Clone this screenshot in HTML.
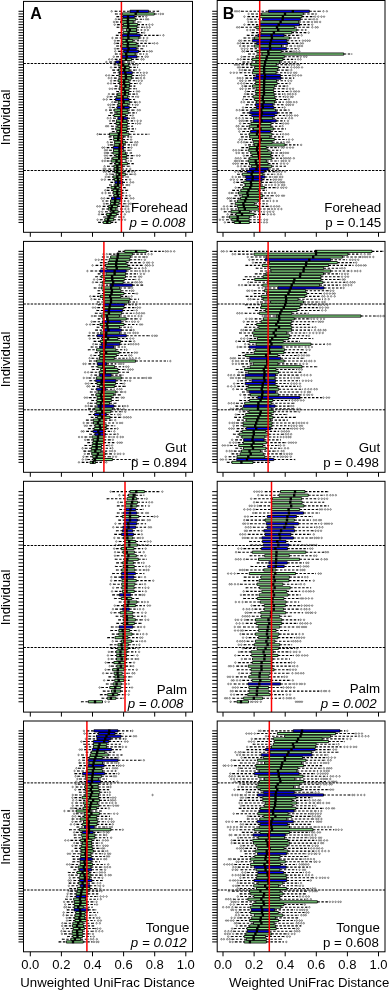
<!DOCTYPE html><html><head><meta charset="utf-8"><style>html,body{margin:0;padding:0;background:#fff;width:389px;height:990px;overflow:hidden}svg{display:block;will-change:transform}.w{stroke:#000;stroke-width:1.1;stroke-dasharray:2.4 1.6;fill:none}.o{fill:none;stroke:#000;stroke-width:0.45}.b{stroke:#000;stroke-width:0.9}.m{stroke:#000;stroke-width:2.4}.st{stroke:#000;stroke-width:0.7;fill:none}.d{stroke:#000;stroke-width:1;stroke-dasharray:2.4 1.2}.t{stroke:#000;stroke-width:1;fill:none}.f{stroke:#000;stroke-width:1;fill:none}.r{stroke:#ff0000;stroke-width:1.5}.lb{font-family:"Liberation Sans",sans-serif;font-size:13.3px;fill:#000}.iv{font-family:"Liberation Sans",sans-serif;font-size:13.2px;fill:#000}.ax{font-family:"Liberation Sans",sans-serif;font-size:13px;fill:#000}.ti{font-family:"Liberation Sans",sans-serif;font-size:13.2px;fill:#000}</style></head><body>
<svg width="389" height="990" viewBox="0 0 389 990">
<line x1="23.5" y1="63.5" x2="192.5" y2="63.5" class="d"/>
<line x1="23.5" y1="170.5" x2="192.5" y2="170.5" class="d"/>
<path d="M18.5 222.41H23.5M18.5 219.74H23.5M18.5 217.07H23.5M18.5 214.39H23.5M18.5 211.72H23.5M18.5 209.05H23.5M18.5 206.38H23.5M18.5 203.70H23.5M18.5 201.03H23.5M18.5 198.36H23.5M18.5 195.69H23.5M18.5 193.01H23.5M18.5 190.34H23.5M18.5 187.67H23.5M18.5 185.00H23.5M18.5 182.33H23.5M18.5 179.65H23.5M18.5 176.98H23.5M18.5 174.31H23.5M18.5 171.64H23.5M18.5 168.96H23.5M18.5 166.29H23.5M18.5 163.62H23.5M18.5 160.95H23.5M18.5 158.27H23.5M18.5 155.60H23.5M18.5 152.93H23.5M18.5 150.26H23.5M18.5 147.58H23.5M18.5 144.91H23.5M18.5 142.24H23.5M18.5 139.57H23.5M18.5 136.89H23.5M18.5 134.22H23.5M18.5 131.55H23.5M18.5 128.88H23.5M18.5 126.20H23.5M18.5 123.53H23.5M18.5 120.86H23.5M18.5 118.19H23.5M18.5 115.51H23.5M18.5 112.84H23.5M18.5 110.17H23.5M18.5 107.50H23.5M18.5 104.82H23.5M18.5 102.15H23.5M18.5 99.48H23.5M18.5 96.81H23.5M18.5 94.13H23.5M18.5 91.46H23.5M18.5 88.79H23.5M18.5 86.12H23.5M18.5 83.44H23.5M18.5 80.77H23.5M18.5 78.10H23.5M18.5 75.43H23.5M18.5 72.75H23.5M18.5 70.08H23.5M18.5 67.41H23.5M18.5 64.74H23.5M18.5 62.06H23.5M18.5 59.39H23.5M18.5 56.72H23.5M18.5 54.05H23.5M18.5 51.37H23.5M18.5 48.70H23.5M18.5 46.03H23.5M18.5 43.36H23.5M18.5 40.69H23.5M18.5 38.01H23.5M18.5 35.34H23.5M18.5 32.67H23.5M18.5 30.00H23.5M18.5 27.32H23.5M18.5 24.65H23.5M18.5 21.98H23.5M18.5 19.31H23.5M18.5 16.63H23.5M18.5 13.96H23.5M18.5 11.29H23.5" class="t"/>
<path d="M30.3 232.3V236.8M61.4 232.3V236.8M92.5 232.3V236.8M123.6 232.3V236.8M154.7 232.3V236.8M185.8 232.3V236.8" class="t"/>
<clipPath id="cA1"><rect x="23.5" y="1.4" width="169.0" height="230.9"/></clipPath><g clip-path="url(#cA1)">
<path class="w" d="M98.5 222.41H103.3M110.8 222.41H116.2M100.3 219.74H104.8M113.7 219.74H119.7M103.7 217.07H107.1M114.1 217.07H121M101.6 214.39H106.6M116.4 214.39H121.5M105.5 211.72H111M118.2 211.72H123.2M102.3 209.05H108.2M115.9 209.05H122.7M103 206.38H108.7M117.5 206.38H124M106.2 203.7H110.5M119 203.7H125.9M106 201.03H110.6M119.8 201.03H125.1M107 198.36H111.5M120.6 198.36H127.6M109.1 195.69H114M121.3 195.69H127M108.4 193.01H113.2M122 193.01H126.2M107.1 190.34H113M121.2 190.34H127.7M107.2 187.67H111M119.1 187.67H125.4M109.5 185H115M121.6 185H127.4M110.8 182.33H114.9M122.6 182.33H127.1M108.2 179.65H114.5M121.1 179.65H126.8M107.9 176.98H113M121.8 176.98H126.1M111.8 174.31H116.2M125.4 174.31H132.9M108.2 171.64H114.6M123.2 171.64H129.4M108.8 168.96H114.3M121.7 168.96H126.9M107.5 166.29H113.9M122.7 166.29H129.7M110 163.62H115.6M127.4 163.62H133.4M107.1 160.95H111.1M120.7 160.95H128.3M107.1 158.27H112.8M126.3 158.27H132.4M109.9 155.6H115.9M126.7 155.6H134M106.7 152.93H113M125.6 152.93H131.6M109.6 150.26H113.5M123.4 150.26H130.9M107 147.58H113.3M123.5 147.58H129.2M110.5 144.91H114.1M123.6 144.91H131.6M110.4 142.24H114.6M125.7 142.24H132.3M109.9 139.57H113.7M122.7 139.57H128.2M109.1 136.89H113.7M123.3 136.89H128.8M99.5 134.22H109.5M129 134.22H149M112.3 131.55H116.8M126.5 131.55H133.9M111.8 128.88H115.7M127.6 128.88H135.6M111.4 126.2H117.8M127.1 126.2H132.6M109.8 123.53H116M127.5 123.53H135.4M112.5 120.86H116.4M126.7 120.86H134.8M113.5 118.19H118M127.6 118.19H132.1M108.6 115.51H114M125.6 115.51H130.8M110.3 112.84H116.9M128.3 112.84H136.4M109.5 110.17H114.2M127.4 110.17H134.2M112.3 107.5H117.2M129.3 107.5H135.8M112.8 104.82H117.9M127.9 104.82H132.8M114.3 102.15H118.1M129.9 102.15H137.1M109.9 99.48H115.5M129 99.48H134.6M110 96.81H116.6M127.6 96.81H136M112.1 94.13H117.7M128.4 94.13H134.6M116.6 91.46H121.7M129.1 91.46H133.8M114.7 88.79H119.2M129.1 88.79H136.5M115.1 86.12H121.6M129.5 86.12H135M113.6 83.44H119.6M130 83.44H137.2M113.9 80.77H118M128.7 80.77H136.3M114.3 78.1H121.2M131.4 78.1H138.7M112 75.43H118.9M131.8 75.43H139.4M113.6 72.75H119.6M132.3 72.75H140.9M112.7 70.08H118.5M129.1 70.08H136.4M114.3 67.41H120.4M129.3 67.41H137.6M114.1 64.74H118.1M128.3 64.74H135.2M109.7 62.06H115.7M123 62.06H129.4M115.1 59.39H121.6M131.5 59.39H138.4M116.6 56.72H122.2M137 56.72H142.5M115.3 54.05H121.9M135.2 54.05H143.6M118.4 51.37H123.7M138.5 51.37H147.1M117 48.7H121.8M136.3 48.7H142.8M116.7 46.03H120.7M138.3 46.03H146.6M116.7 43.36H122.9M136.3 43.36H152.3M117.3 40.69H121.9M132.8 40.69H141.1M115.7 38.01H122.8M138.9 38.01H144M116.2 35.34H122.2M140.2 35.34H160.2M118.5 32.67H123.2M137 32.67H142.3M122.1 30H126.3M136.5 30H141.8M117 27.32H122.2M137 27.32H144.6M117.4 24.65H123.4M137.6 24.65H146.7M116.1 21.98H120.8M133.2 21.98H140.8M118.2 19.31H122.2M135.7 19.31H143.4M116.8 16.63H122.9M134.4 16.63H143.3M115.4 13.96H122.2M154.3 13.96H158.3M115 11.29H130M148.6 11.29H158.6"/>
<path class="st" d="M98.5 221.78v1.26M116.2 221.78v1.26M100.3 219.11v1.26M119.7 219.11v1.26M103.7 216.44v1.26M121 216.44v1.26M101.6 213.76v1.26M121.5 213.76v1.26M105.5 211.09v1.26M123.2 211.09v1.26M102.3 208.42v1.26M122.7 208.42v1.26M103 205.75v1.26M124 205.75v1.26M106.2 203.07v1.26M125.9 203.07v1.26M106 200.4v1.26M125.1 200.4v1.26M107 197.73v1.26M127.6 197.73v1.26M109.1 195.06v1.26M127 195.06v1.26M108.4 192.38v1.26M126.2 192.38v1.26M107.1 189.71v1.26M127.7 189.71v1.26M107.2 187.04v1.26M125.4 187.04v1.26M109.5 184.37v1.26M127.4 184.37v1.26M110.8 181.7v1.26M127.1 181.7v1.26M108.2 179.02v1.26M126.8 179.02v1.26M107.9 176.35v1.26M126.1 176.35v1.26M111.8 173.68v1.26M132.9 173.68v1.26M108.2 171.01v1.26M129.4 171.01v1.26M108.8 168.33v1.26M126.9 168.33v1.26M107.5 165.66v1.26M129.7 165.66v1.26M110 162.99v1.26M133.4 162.99v1.26M107.1 160.32v1.26M128.3 160.32v1.26M107.1 157.64v1.26M132.4 157.64v1.26M109.9 154.97v1.26M134 154.97v1.26M106.7 152.3v1.26M131.6 152.3v1.26M109.6 149.63v1.26M130.9 149.63v1.26M107 146.95v1.26M129.2 146.95v1.26M110.5 144.28v1.26M131.6 144.28v1.26M110.4 141.61v1.26M132.3 141.61v1.26M109.9 138.94v1.26M128.2 138.94v1.26M109.1 136.26v1.26M128.8 136.26v1.26M99.5 133.59v1.26M149 133.59v1.26M112.3 130.92v1.26M133.9 130.92v1.26M111.8 128.25v1.26M135.6 128.25v1.26M111.4 125.57v1.26M132.6 125.57v1.26M109.8 122.9v1.26M135.4 122.9v1.26M112.5 120.23v1.26M134.8 120.23v1.26M113.5 117.56v1.26M132.1 117.56v1.26M108.6 114.88v1.26M130.8 114.88v1.26M110.3 112.21v1.26M136.4 112.21v1.26M109.5 109.54v1.26M134.2 109.54v1.26M112.3 106.87v1.26M135.8 106.87v1.26M112.8 104.19v1.26M132.8 104.19v1.26M114.3 101.52v1.26M137.1 101.52v1.26M109.9 98.85v1.26M134.6 98.85v1.26M110 96.18v1.26M136 96.18v1.26M112.1 93.5v1.26M134.6 93.5v1.26M116.6 90.83v1.26M133.8 90.83v1.26M114.7 88.16v1.26M136.5 88.16v1.26M115.1 85.49v1.26M135 85.49v1.26M113.6 82.81v1.26M137.2 82.81v1.26M113.9 80.14v1.26M136.3 80.14v1.26M114.3 77.47v1.26M138.7 77.47v1.26M112 74.8v1.26M139.4 74.8v1.26M113.6 72.12v1.26M140.9 72.12v1.26M112.7 69.45v1.26M136.4 69.45v1.26M114.3 66.78v1.26M137.6 66.78v1.26M114.1 64.11v1.26M135.2 64.11v1.26M109.7 61.43v1.26M129.4 61.43v1.26M115.1 58.76v1.26M138.4 58.76v1.26M116.6 56.09v1.26M142.5 56.09v1.26M115.3 53.42v1.26M143.6 53.42v1.26M118.4 50.74v1.26M147.1 50.74v1.26M117 48.07v1.26M142.8 48.07v1.26M116.7 45.4v1.26M146.6 45.4v1.26M116.7 42.73v1.26M152.3 42.73v1.26M117.3 40.06v1.26M141.1 40.06v1.26M115.7 37.38v1.26M144 37.38v1.26M116.2 34.71v1.26M160.2 34.71v1.26M118.5 32.04v1.26M142.3 32.04v1.26M122.1 29.37v1.26M141.8 29.37v1.26M117 26.69v1.26M144.6 26.69v1.26M117.4 24.02v1.26M146.7 24.02v1.26M116.1 21.35v1.26M140.8 21.35v1.26M118.2 18.68v1.26M143.4 18.68v1.26M116.8 16v1.26M143.3 16v1.26M115.4 13.33v1.26M158.3 13.33v1.26M115 10.66v1.26M158.6 10.66v1.26"/>
<path class="o" d="M121.2 219.74a.75 .75 0 1 0 1.5 0a.75 .75 0 1 0-1.5 0M124.3 219.74a.75 .75 0 1 0 1.5 0a.75 .75 0 1 0-1.5 0M96.8 219.74a.75 .75 0 1 0 1.5 0a.75 .75 0 1 0-1.5 0M122.9 217.07a.75 .75 0 1 0 1.5 0a.75 .75 0 1 0-1.5 0M124.1 214.39a.75 .75 0 1 0 1.5 0a.75 .75 0 1 0-1.5 0M98.3 214.39a.75 .75 0 1 0 1.5 0a.75 .75 0 1 0-1.5 0M125.8 211.72a.75 .75 0 1 0 1.5 0a.75 .75 0 1 0-1.5 0M128.3 211.72a.75 .75 0 1 0 1.5 0a.75 .75 0 1 0-1.5 0M101.5 211.72a.75 .75 0 1 0 1.5 0a.75 .75 0 1 0-1.5 0M98.6 211.72a.75 .75 0 1 0 1.5 0a.75 .75 0 1 0-1.5 0M124.6 209.05a.75 .75 0 1 0 1.5 0a.75 .75 0 1 0-1.5 0M127.7 209.05a.75 .75 0 1 0 1.5 0a.75 .75 0 1 0-1.5 0M125.3 206.38a.75 .75 0 1 0 1.5 0a.75 .75 0 1 0-1.5 0M127.3 206.38a.75 .75 0 1 0 1.5 0a.75 .75 0 1 0-1.5 0M99 206.38a.75 .75 0 1 0 1.5 0a.75 .75 0 1 0-1.5 0M96.6 206.38a.75 .75 0 1 0 1.5 0a.75 .75 0 1 0-1.5 0M128 203.7a.75 .75 0 1 0 1.5 0a.75 .75 0 1 0-1.5 0M130.1 203.7a.75 .75 0 1 0 1.5 0a.75 .75 0 1 0-1.5 0M103.3 203.7a.75 .75 0 1 0 1.5 0a.75 .75 0 1 0-1.5 0M127.6 201.03a.75 .75 0 1 0 1.5 0a.75 .75 0 1 0-1.5 0M102.3 201.03a.75 .75 0 1 0 1.5 0a.75 .75 0 1 0-1.5 0M130.1 198.36a.75 .75 0 1 0 1.5 0a.75 .75 0 1 0-1.5 0M132.7 198.36a.75 .75 0 1 0 1.5 0a.75 .75 0 1 0-1.5 0M103.5 198.36a.75 .75 0 1 0 1.5 0a.75 .75 0 1 0-1.5 0M100.9 198.36a.75 .75 0 1 0 1.5 0a.75 .75 0 1 0-1.5 0M129 195.69a.75 .75 0 1 0 1.5 0a.75 .75 0 1 0-1.5 0M104.8 193.01a.75 .75 0 1 0 1.5 0a.75 .75 0 1 0-1.5 0M101.6 193.01a.75 .75 0 1 0 1.5 0a.75 .75 0 1 0-1.5 0M104.5 190.34a.75 .75 0 1 0 1.5 0a.75 .75 0 1 0-1.5 0M128.5 185a.75 .75 0 1 0 1.5 0a.75 .75 0 1 0-1.5 0M129.8 182.33a.75 .75 0 1 0 1.5 0a.75 .75 0 1 0-1.5 0M132.4 182.33a.75 .75 0 1 0 1.5 0a.75 .75 0 1 0-1.5 0M129.3 179.65a.75 .75 0 1 0 1.5 0a.75 .75 0 1 0-1.5 0M104 179.65a.75 .75 0 1 0 1.5 0a.75 .75 0 1 0-1.5 0M101.1 179.65a.75 .75 0 1 0 1.5 0a.75 .75 0 1 0-1.5 0M127.2 176.98a.75 .75 0 1 0 1.5 0a.75 .75 0 1 0-1.5 0M104.9 176.98a.75 .75 0 1 0 1.5 0a.75 .75 0 1 0-1.5 0M134.4 174.31a.75 .75 0 1 0 1.5 0a.75 .75 0 1 0-1.5 0M109.2 174.31a.75 .75 0 1 0 1.5 0a.75 .75 0 1 0-1.5 0M105.9 174.31a.75 .75 0 1 0 1.5 0a.75 .75 0 1 0-1.5 0M131.3 171.64a.75 .75 0 1 0 1.5 0a.75 .75 0 1 0-1.5 0M133.8 171.64a.75 .75 0 1 0 1.5 0a.75 .75 0 1 0-1.5 0M105.1 171.64a.75 .75 0 1 0 1.5 0a.75 .75 0 1 0-1.5 0M103 171.64a.75 .75 0 1 0 1.5 0a.75 .75 0 1 0-1.5 0M129.5 168.96a.75 .75 0 1 0 1.5 0a.75 .75 0 1 0-1.5 0M104.7 168.96a.75 .75 0 1 0 1.5 0a.75 .75 0 1 0-1.5 0M102.9 168.96a.75 .75 0 1 0 1.5 0a.75 .75 0 1 0-1.5 0M103.8 166.29a.75 .75 0 1 0 1.5 0a.75 .75 0 1 0-1.5 0M130.2 160.95a.75 .75 0 1 0 1.5 0a.75 .75 0 1 0-1.5 0M104.1 160.95a.75 .75 0 1 0 1.5 0a.75 .75 0 1 0-1.5 0M101.7 160.95a.75 .75 0 1 0 1.5 0a.75 .75 0 1 0-1.5 0M104.5 158.27a.75 .75 0 1 0 1.5 0a.75 .75 0 1 0-1.5 0M136.3 155.6a.75 .75 0 1 0 1.5 0a.75 .75 0 1 0-1.5 0M138.8 155.6a.75 .75 0 1 0 1.5 0a.75 .75 0 1 0-1.5 0M106.4 155.6a.75 .75 0 1 0 1.5 0a.75 .75 0 1 0-1.5 0M104.2 155.6a.75 .75 0 1 0 1.5 0a.75 .75 0 1 0-1.5 0M104.1 152.93a.75 .75 0 1 0 1.5 0a.75 .75 0 1 0-1.5 0M106.3 150.26a.75 .75 0 1 0 1.5 0a.75 .75 0 1 0-1.5 0M104.3 150.26a.75 .75 0 1 0 1.5 0a.75 .75 0 1 0-1.5 0M130.7 147.58a.75 .75 0 1 0 1.5 0a.75 .75 0 1 0-1.5 0M103.6 147.58a.75 .75 0 1 0 1.5 0a.75 .75 0 1 0-1.5 0M101.7 147.58a.75 .75 0 1 0 1.5 0a.75 .75 0 1 0-1.5 0M133.4 144.91a.75 .75 0 1 0 1.5 0a.75 .75 0 1 0-1.5 0M135.8 144.91a.75 .75 0 1 0 1.5 0a.75 .75 0 1 0-1.5 0M107.8 144.91a.75 .75 0 1 0 1.5 0a.75 .75 0 1 0-1.5 0M134.5 142.24a.75 .75 0 1 0 1.5 0a.75 .75 0 1 0-1.5 0M136.7 142.24a.75 .75 0 1 0 1.5 0a.75 .75 0 1 0-1.5 0M106.9 142.24a.75 .75 0 1 0 1.5 0a.75 .75 0 1 0-1.5 0M130.3 139.57a.75 .75 0 1 0 1.5 0a.75 .75 0 1 0-1.5 0M130.4 136.89a.75 .75 0 1 0 1.5 0a.75 .75 0 1 0-1.5 0M96.8 134.22a.75 .75 0 1 0 1.5 0a.75 .75 0 1 0-1.5 0M107.3 126.2a.75 .75 0 1 0 1.5 0a.75 .75 0 1 0-1.5 0M105.4 126.2a.75 .75 0 1 0 1.5 0a.75 .75 0 1 0-1.5 0M136.8 123.53a.75 .75 0 1 0 1.5 0a.75 .75 0 1 0-1.5 0M139.3 123.53a.75 .75 0 1 0 1.5 0a.75 .75 0 1 0-1.5 0M136.8 120.86a.75 .75 0 1 0 1.5 0a.75 .75 0 1 0-1.5 0M140 120.86a.75 .75 0 1 0 1.5 0a.75 .75 0 1 0-1.5 0M109.2 120.86a.75 .75 0 1 0 1.5 0a.75 .75 0 1 0-1.5 0M133.2 118.19a.75 .75 0 1 0 1.5 0a.75 .75 0 1 0-1.5 0M109.8 118.19a.75 .75 0 1 0 1.5 0a.75 .75 0 1 0-1.5 0M107 118.19a.75 .75 0 1 0 1.5 0a.75 .75 0 1 0-1.5 0M132.1 115.51a.75 .75 0 1 0 1.5 0a.75 .75 0 1 0-1.5 0M136.9 110.17a.75 .75 0 1 0 1.5 0a.75 .75 0 1 0-1.5 0M139.1 110.17a.75 .75 0 1 0 1.5 0a.75 .75 0 1 0-1.5 0M105.4 110.17a.75 .75 0 1 0 1.5 0a.75 .75 0 1 0-1.5 0M109.3 107.5a.75 .75 0 1 0 1.5 0a.75 .75 0 1 0-1.5 0M134.8 104.82a.75 .75 0 1 0 1.5 0a.75 .75 0 1 0-1.5 0M136.9 104.82a.75 .75 0 1 0 1.5 0a.75 .75 0 1 0-1.5 0M109.8 104.82a.75 .75 0 1 0 1.5 0a.75 .75 0 1 0-1.5 0M107.6 104.82a.75 .75 0 1 0 1.5 0a.75 .75 0 1 0-1.5 0M139 102.15a.75 .75 0 1 0 1.5 0a.75 .75 0 1 0-1.5 0M111.5 102.15a.75 .75 0 1 0 1.5 0a.75 .75 0 1 0-1.5 0M105.9 99.48a.75 .75 0 1 0 1.5 0a.75 .75 0 1 0-1.5 0M103 99.48a.75 .75 0 1 0 1.5 0a.75 .75 0 1 0-1.5 0M137.3 96.81a.75 .75 0 1 0 1.5 0a.75 .75 0 1 0-1.5 0M106.9 96.81a.75 .75 0 1 0 1.5 0a.75 .75 0 1 0-1.5 0M136.1 94.13a.75 .75 0 1 0 1.5 0a.75 .75 0 1 0-1.5 0M108.2 94.13a.75 .75 0 1 0 1.5 0a.75 .75 0 1 0-1.5 0M136.2 91.46a.75 .75 0 1 0 1.5 0a.75 .75 0 1 0-1.5 0M138.4 91.46a.75 .75 0 1 0 1.5 0a.75 .75 0 1 0-1.5 0M111.5 88.79a.75 .75 0 1 0 1.5 0a.75 .75 0 1 0-1.5 0M109 88.79a.75 .75 0 1 0 1.5 0a.75 .75 0 1 0-1.5 0M139.6 83.44a.75 .75 0 1 0 1.5 0a.75 .75 0 1 0-1.5 0M110.3 83.44a.75 .75 0 1 0 1.5 0a.75 .75 0 1 0-1.5 0M107.4 83.44a.75 .75 0 1 0 1.5 0a.75 .75 0 1 0-1.5 0M137.9 80.77a.75 .75 0 1 0 1.5 0a.75 .75 0 1 0-1.5 0M141 80.77a.75 .75 0 1 0 1.5 0a.75 .75 0 1 0-1.5 0M110.3 80.77a.75 .75 0 1 0 1.5 0a.75 .75 0 1 0-1.5 0M140.1 78.1a.75 .75 0 1 0 1.5 0a.75 .75 0 1 0-1.5 0M143.4 78.1a.75 .75 0 1 0 1.5 0a.75 .75 0 1 0-1.5 0M110.7 78.1a.75 .75 0 1 0 1.5 0a.75 .75 0 1 0-1.5 0M108 78.1a.75 .75 0 1 0 1.5 0a.75 .75 0 1 0-1.5 0M140.8 75.43a.75 .75 0 1 0 1.5 0a.75 .75 0 1 0-1.5 0M143.5 75.43a.75 .75 0 1 0 1.5 0a.75 .75 0 1 0-1.5 0M108.3 75.43a.75 .75 0 1 0 1.5 0a.75 .75 0 1 0-1.5 0M105.5 75.43a.75 .75 0 1 0 1.5 0a.75 .75 0 1 0-1.5 0M143.1 72.75a.75 .75 0 1 0 1.5 0a.75 .75 0 1 0-1.5 0M146 72.75a.75 .75 0 1 0 1.5 0a.75 .75 0 1 0-1.5 0M138.8 70.08a.75 .75 0 1 0 1.5 0a.75 .75 0 1 0-1.5 0M110.3 67.41a.75 .75 0 1 0 1.5 0a.75 .75 0 1 0-1.5 0M136.8 64.74a.75 .75 0 1 0 1.5 0a.75 .75 0 1 0-1.5 0M130.8 62.06a.75 .75 0 1 0 1.5 0a.75 .75 0 1 0-1.5 0M133 62.06a.75 .75 0 1 0 1.5 0a.75 .75 0 1 0-1.5 0M105.6 62.06a.75 .75 0 1 0 1.5 0a.75 .75 0 1 0-1.5 0M140.7 59.39a.75 .75 0 1 0 1.5 0a.75 .75 0 1 0-1.5 0M142.8 59.39a.75 .75 0 1 0 1.5 0a.75 .75 0 1 0-1.5 0M111.5 59.39a.75 .75 0 1 0 1.5 0a.75 .75 0 1 0-1.5 0M108.5 59.39a.75 .75 0 1 0 1.5 0a.75 .75 0 1 0-1.5 0M144.8 56.72a.75 .75 0 1 0 1.5 0a.75 .75 0 1 0-1.5 0M147 56.72a.75 .75 0 1 0 1.5 0a.75 .75 0 1 0-1.5 0M113 56.72a.75 .75 0 1 0 1.5 0a.75 .75 0 1 0-1.5 0M146 54.05a.75 .75 0 1 0 1.5 0a.75 .75 0 1 0-1.5 0M148.9 51.37a.75 .75 0 1 0 1.5 0a.75 .75 0 1 0-1.5 0M151 51.37a.75 .75 0 1 0 1.5 0a.75 .75 0 1 0-1.5 0M114.5 51.37a.75 .75 0 1 0 1.5 0a.75 .75 0 1 0-1.5 0M114.3 48.7a.75 .75 0 1 0 1.5 0a.75 .75 0 1 0-1.5 0M153.6 43.36a.75 .75 0 1 0 1.5 0a.75 .75 0 1 0-1.5 0M156.5 43.36a.75 .75 0 1 0 1.5 0a.75 .75 0 1 0-1.5 0M114 43.36a.75 .75 0 1 0 1.5 0a.75 .75 0 1 0-1.5 0M142.5 40.69a.75 .75 0 1 0 1.5 0a.75 .75 0 1 0-1.5 0M145.5 40.69a.75 .75 0 1 0 1.5 0a.75 .75 0 1 0-1.5 0M114.2 40.69a.75 .75 0 1 0 1.5 0a.75 .75 0 1 0-1.5 0M146.6 38.01a.75 .75 0 1 0 1.5 0a.75 .75 0 1 0-1.5 0M111.7 38.01a.75 .75 0 1 0 1.5 0a.75 .75 0 1 0-1.5 0M162.7 35.34a.75 .75 0 1 0 1.5 0a.75 .75 0 1 0-1.5 0M143.4 32.67a.75 .75 0 1 0 1.5 0a.75 .75 0 1 0-1.5 0M144.1 30a.75 .75 0 1 0 1.5 0a.75 .75 0 1 0-1.5 0M147.1 30a.75 .75 0 1 0 1.5 0a.75 .75 0 1 0-1.5 0M146.1 27.32a.75 .75 0 1 0 1.5 0a.75 .75 0 1 0-1.5 0M148.9 27.32a.75 .75 0 1 0 1.5 0a.75 .75 0 1 0-1.5 0M148.6 24.65a.75 .75 0 1 0 1.5 0a.75 .75 0 1 0-1.5 0M151.7 24.65a.75 .75 0 1 0 1.5 0a.75 .75 0 1 0-1.5 0M113.9 24.65a.75 .75 0 1 0 1.5 0a.75 .75 0 1 0-1.5 0M113.2 21.98a.75 .75 0 1 0 1.5 0a.75 .75 0 1 0-1.5 0M145.3 19.31a.75 .75 0 1 0 1.5 0a.75 .75 0 1 0-1.5 0M147.3 19.31a.75 .75 0 1 0 1.5 0a.75 .75 0 1 0-1.5 0M115.1 19.31a.75 .75 0 1 0 1.5 0a.75 .75 0 1 0-1.5 0M145.6 16.63a.75 .75 0 1 0 1.5 0a.75 .75 0 1 0-1.5 0M159.8 13.96a.75 .75 0 1 0 1.5 0a.75 .75 0 1 0-1.5 0M162.2 13.96a.75 .75 0 1 0 1.5 0a.75 .75 0 1 0-1.5 0M110.9 11.29a.75 .75 0 1 0 1.5 0a.75 .75 0 1 0-1.5 0"/>
<path class="b" fill="#90ee90" d="M103.3 221.36h7.5v2.1h-7.5zM104.8 218.69h8.9v2.1h-8.9zM107.1 216.02h7v2.1h-7zM106.6 213.34h9.8v2.1h-9.8zM111 210.67h7.2v2.1h-7.2zM108.2 208h7.6v2.1h-7.6zM108.7 205.33h8.8v2.1h-8.8zM110.5 202.65h8.4v2.1h-8.4zM110.6 199.98h9.2v2.1h-9.2zM114 194.64h7.3v2.1h-7.3zM113.2 191.96h8.9v2.1h-8.9zM113 189.29h8.2v2.1h-8.2zM111 186.62h8.1v2.1h-8.1zM115 183.95h6.6v2.1h-6.6zM114.5 178.6h6.5v2.1h-6.5zM113 175.93h8.8v2.1h-8.8zM116.2 173.26h9.2v2.1h-9.2zM114.6 170.59h8.6v2.1h-8.6zM114.3 167.91h7.4v2.1h-7.4zM113.9 165.24h8.8v2.1h-8.8zM115.6 162.57h11.8v2.1h-11.8zM111.1 159.9h9.6v2.1h-9.6zM112.8 157.22h13.5v2.1h-13.5zM115.9 154.55h10.8v2.1h-10.8zM113 151.88h12.6v2.1h-12.6zM113.5 149.21h9.9v2.1h-9.9zM114.1 143.86h9.5v2.1h-9.5zM114.6 141.19h11v2.1h-11zM113.7 138.52h9v2.1h-9zM113.7 135.84h9.6v2.1h-9.6zM109.5 133.17h19.5v2.1h-19.5zM116.8 130.5h9.7v2.1h-9.7zM115.7 127.83h11.9v2.1h-11.9zM117.8 125.15h9.2v2.1h-9.2zM116 122.48h11.6v2.1h-11.6zM116.4 119.81h10.3v2.1h-10.3zM114 114.46h11.6v2.1h-11.6zM116.9 111.79h11.4v2.1h-11.4zM114.2 109.12h13.1v2.1h-13.1zM117.9 103.77h10v2.1h-10zM118.1 101.1h11.7v2.1h-11.7zM116.6 95.76h11v2.1h-11zM117.7 93.08h10.8v2.1h-10.8zM121.7 90.41h7.3v2.1h-7.3zM119.2 87.74h9.9v2.1h-9.9zM121.6 85.07h7.9v2.1h-7.9zM119.6 82.39h10.3v2.1h-10.3zM118 79.72h10.8v2.1h-10.8zM121.2 77.05h10.2v2.1h-10.2zM118.9 74.38h13v2.1h-13zM118.5 69.03h10.6v2.1h-10.6zM120.4 66.36h9v2.1h-9zM118.1 63.69h10.3v2.1h-10.3zM121.6 58.34h9.9v2.1h-9.9zM121.9 53h13.3v2.1h-13.3zM120.7 44.98h17.7v2.1h-17.7zM122.9 42.31h13.4v2.1h-13.4zM121.9 39.64h10.9v2.1h-10.9zM122.8 36.96h16.1v2.1h-16.1zM123.2 31.62h13.8v2.1h-13.8zM126.3 28.95h10.2v2.1h-10.2zM122.2 26.27h14.8v2.1h-14.8zM123.4 23.6h14.2v2.1h-14.2zM120.8 20.93h12.4v2.1h-12.4zM122.2 18.26h13.5v2.1h-13.5zM122.2 12.91h32.1v2.1h-32.1z"/>
<path class="b" fill="#0000ff" d="M111.5 197.31h9.1v2.1h-9.1zM114.9 181.28h7.8v2.1h-7.8zM113.3 146.53h10.2v2.1h-10.2zM118 117.14h9.6v2.1h-9.6zM117.2 106.45h12.1v2.1h-12.1zM115.5 98.43h13.5v2.1h-13.5zM119.6 71.7h12.7v2.1h-12.7zM115.7 61.01h7.3v2.1h-7.3zM122.2 55.67h14.8v2.1h-14.8zM123.7 50.32h14.8v2.1h-14.8zM121.8 47.65h14.5v2.1h-14.5zM122.2 34.29h18v2.1h-18zM122.9 15.58h11.5v2.1h-11.5zM130 10.24h18.6v2.1h-18.6z"/>
<path class="m" d="M107.3 221.08v2.67M108.1 218.4v2.67M109.3 215.73v2.67M110.6 213.06v2.67M113.4 210.39v2.67M111.2 207.71v2.67M111.8 205.04v2.67M114.6 202.37v2.67M115.2 199.7v2.67M115.3 197.02v2.67M117.8 194.35v2.67M117.1 191.68v2.67M117.5 189.01v2.67M115.4 186.33v2.67M117.8 183.66v2.67M118.2 180.99v2.67M118 178.32v2.67M117.3 175.64v2.67M119.4 172.97v2.67M117.2 170.3v2.67M117.5 167.63v2.67M117.3 164.95v2.67M119.6 162.28v2.67M116.5 159.61v2.67M119.2 156.94v2.67M119.2 154.26v2.67M119.6 151.59v2.67M119.4 148.92v2.67M119.5 146.25v2.67M119.9 143.57v2.67M121.7 140.9v2.67M118.2 138.23v2.67M118.5 135.56v2.67M119 132.88v2.67M120.4 130.21v2.67M120.9 127.54v2.67M121.5 124.87v2.67M120.5 122.19v2.67M122.2 119.52v2.67M122.8 116.85v2.67M121.1 114.18v2.67M121.4 111.51v2.67M121.2 108.83v2.67M123.4 106.16v2.67M121.8 103.49v2.67M123.6 100.82v2.67M122.6 98.14v2.67M122.6 95.47v2.67M124.7 92.8v2.67M125 90.13v2.67M123.6 87.45v2.67M125.4 84.78v2.67M124.1 82.11v2.67M124.2 79.44v2.67M126 76.76v2.67M125.8 74.09v2.67M125.3 71.42v2.67M124.2 68.75v2.67M125 66.07v2.67M123.2 63.4v2.67M120 60.73v2.67M126 58.06v2.67M126.7 55.38v2.67M126.2 52.71v2.67M127.6 50.04v2.67M128.6 47.37v2.67M127.6 44.69v2.67M128 42.02v2.67M126.7 39.35v2.67M128.4 36.68v2.67M128 34v2.67M128.6 31.33v2.67M129.8 28.66v2.67M128 25.99v2.67M128.3 23.31v2.67M127.7 20.64v2.67M128 17.97v2.67M128 15.3v2.67M135.7 12.62v2.67M137.6 9.95v2.67"/>
</g>
<line x1="121.4" y1="1.4" x2="121.4" y2="232.3" class="r"/>
<rect x="23.5" y="1.4" width="169.0" height="230.9" class="f"/>
<text x="188" y="211.6" class="lb" text-anchor="end">Forehead</text>
<text x="185.3" y="226.6" class="lb" text-anchor="end" font-style="italic">p = 0.008</text>
<line x1="217.2" y1="63.5" x2="385.0" y2="63.5" class="d"/>
<line x1="217.2" y1="170.5" x2="385.0" y2="170.5" class="d"/>
<path d="M212.2 222.41H217.2M212.2 219.74H217.2M212.2 217.07H217.2M212.2 214.39H217.2M212.2 211.72H217.2M212.2 209.05H217.2M212.2 206.38H217.2M212.2 203.70H217.2M212.2 201.03H217.2M212.2 198.36H217.2M212.2 195.69H217.2M212.2 193.01H217.2M212.2 190.34H217.2M212.2 187.67H217.2M212.2 185.00H217.2M212.2 182.33H217.2M212.2 179.65H217.2M212.2 176.98H217.2M212.2 174.31H217.2M212.2 171.64H217.2M212.2 168.96H217.2M212.2 166.29H217.2M212.2 163.62H217.2M212.2 160.95H217.2M212.2 158.27H217.2M212.2 155.60H217.2M212.2 152.93H217.2M212.2 150.26H217.2M212.2 147.58H217.2M212.2 144.91H217.2M212.2 142.24H217.2M212.2 139.57H217.2M212.2 136.89H217.2M212.2 134.22H217.2M212.2 131.55H217.2M212.2 128.88H217.2M212.2 126.20H217.2M212.2 123.53H217.2M212.2 120.86H217.2M212.2 118.19H217.2M212.2 115.51H217.2M212.2 112.84H217.2M212.2 110.17H217.2M212.2 107.50H217.2M212.2 104.82H217.2M212.2 102.15H217.2M212.2 99.48H217.2M212.2 96.81H217.2M212.2 94.13H217.2M212.2 91.46H217.2M212.2 88.79H217.2M212.2 86.12H217.2M212.2 83.44H217.2M212.2 80.77H217.2M212.2 78.10H217.2M212.2 75.43H217.2M212.2 72.75H217.2M212.2 70.08H217.2M212.2 67.41H217.2M212.2 64.74H217.2M212.2 62.06H217.2M212.2 59.39H217.2M212.2 56.72H217.2M212.2 54.05H217.2M212.2 51.37H217.2M212.2 48.70H217.2M212.2 46.03H217.2M212.2 43.36H217.2M212.2 40.69H217.2M212.2 38.01H217.2M212.2 35.34H217.2M212.2 32.67H217.2M212.2 30.00H217.2M212.2 27.32H217.2M212.2 24.65H217.2M212.2 21.98H217.2M212.2 19.31H217.2M212.2 16.63H217.2M212.2 13.96H217.2M212.2 11.29H217.2" class="t"/>
<path d="M223.0 232.3V236.8M254.1 232.3V236.8M285.2 232.3V236.8M316.3 232.3V236.8M347.4 232.3V236.8M378.5 232.3V236.8" class="t"/>
<clipPath id="cB1"><rect x="217.2" y="0.5" width="167.8" height="231.8"/></clipPath><g clip-path="url(#cB1)">
<path class="w" d="M227.7 222.41H234.4M249.3 222.41H261.2M226.5 219.74H231.8M249.2 219.74H261M222.2 217.07H229.3M249.3 217.07H257.6M230.8 214.39H236.1M254.1 214.39H264.6M224.2 211.72H231M249.7 211.72H261.5M230.9 209.05H238.3M259.1 209.05H269.4M230.2 206.38H237.4M257.7 206.38H268.6M231 203.7H235.2M254.5 203.7H267M229.9 201.03H237.6M258.2 201.03H270.4M233.3 198.36H240.5M260.5 198.36H268.2M234.9 195.69H242.1M262.5 195.69H273.3M231.2 193.01H238.5M260.1 193.01H269.4M232.6 190.34H240.8M258.4 190.34H266.4M238.1 187.67H243.2M264.5 187.67H275.7M240.5 185H245.3M260.6 185H269.1M236.7 182.33H243.7M261.4 182.33H272.9M240.6 179.65H246.1M262.1 179.65H271.1M238.5 176.98H245.7M264.9 176.98H272.7M237.6 174.31H242.4M262.9 174.31H274.8M240.4 171.64H247M264.3 171.64H275M241.4 168.96H249.4M268.2 168.96H278.4M244 166.29H251.6M271.6 166.29H285.4M241 163.62H249.5M268.1 163.62H277.5M241.4 160.95H248.3M266.3 160.95H278.3M244.1 158.27H249.7M272 158.27H281.5M246.3 155.6H252.2M270.8 155.6H279.5M242 152.93H250.8M271.5 152.93H281.7M241 150.26H248.7M268 150.26H280.4M241.7 147.58H249.1M266.3 147.58H278.7M248.5 144.91H254.3M285 144.91H298.1M245.9 142.24H253.3M272.2 142.24H281.6M244.8 139.57H252.5M274.3 139.57H286.4M241.3 136.89H249.7M269.9 136.89H283.1M240.5 134.22H249.3M271.9 134.22H280.7M242.7 131.55H250.6M270.5 131.55H281.8M244 128.88H253.5M273.3 128.88H285.5M242 126.2H249.2M270.9 126.2H280.3M243.4 123.53H250.9M271.3 123.53H281.2M245.9 120.86H253.2M276.2 120.86H284.7M245.8 118.19H253.5M272.8 118.19H286M240.9 115.51H251.7M274.8 115.51H284.6M242.8 112.84H249.7M277.4 112.84H291.7M241.9 110.17H251.7M275.6 110.17H286.4M245.6 107.5H256.4M273.8 107.5H282.4M246.3 104.82H255.5M272.9 104.82H283.1M247.5 102.15H256.6M274.6 102.15H283.3M245.8 99.48H254.6M275.7 99.48H286.4M243.5 96.81H253M274.7 96.81H283.5M246.9 94.13H256.8M274.1 94.13H282.7M247.6 91.46H255.1M273.7 91.46H287.9M248.4 88.79H256.1M273.7 88.79H284.2M244.7 86.12H252.5M274.6 86.12H285M246.2 83.44H255.6M277.2 83.44H287.1M248.7 80.77H255.7M276.5 80.77H285.5M245.8 78.1H253.5M281 78.1H293.8M245 75.43H256.1M280.4 75.43H290.3M239.9 72.75H252.4M276 72.75H285.6M244.3 70.08H253.5M277.4 70.08H288.8M242.2 67.41H254.7M278.4 67.41H288.1M241.8 64.74H251M276.4 64.74H286.7M242.9 62.06H256M279.7 62.06H292.3M243.2 59.39H252.1M282.8 59.39H295.3M243.7 56.72H255.9M284.3 56.72H298.2M248.6 54.05H262M343.8 54.05H351.8M246.6 51.37H256.7M281.3 51.37H292M250.6 48.7H259.7M286.4 48.7H296.2M242.9 46.03H254.2M281.5 46.03H291.6M242.3 43.36H256.7M287.8 43.36H298M244 40.69H252.3M286.8 40.69H299.7M243.9 38.01H254.4M289.4 38.01H299M247.2 35.34H257.9M284.1 35.34H298.9M251.9 32.67H260.8M291.6 32.67H306M252.6 30H262M296.9 30H306.1M241.5 27.32H255.9M294.4 27.32H308.9M247.9 24.65H259.8M299.5 24.65H309.2M250.8 21.98H259.6M298.7 21.98H309.2M250 19.31H262.6M300.4 19.31H312M247.8 16.63H259.5M301.8 16.63H313.2M251.6 13.96H261.7M303.2 13.96H313.3M241.5 11.29H268.5M309.4 11.29H320.4"/>
<path class="st" d="M227.7 221.78v1.26M261.2 221.78v1.26M226.5 219.11v1.26M261 219.11v1.26M222.2 216.44v1.26M257.6 216.44v1.26M230.8 213.76v1.26M264.6 213.76v1.26M224.2 211.09v1.26M261.5 211.09v1.26M230.9 208.42v1.26M269.4 208.42v1.26M230.2 205.75v1.26M268.6 205.75v1.26M231 203.07v1.26M267 203.07v1.26M229.9 200.4v1.26M270.4 200.4v1.26M233.3 197.73v1.26M268.2 197.73v1.26M234.9 195.06v1.26M273.3 195.06v1.26M231.2 192.38v1.26M269.4 192.38v1.26M232.6 189.71v1.26M266.4 189.71v1.26M238.1 187.04v1.26M275.7 187.04v1.26M240.5 184.37v1.26M269.1 184.37v1.26M236.7 181.7v1.26M272.9 181.7v1.26M240.6 179.02v1.26M271.1 179.02v1.26M238.5 176.35v1.26M272.7 176.35v1.26M237.6 173.68v1.26M274.8 173.68v1.26M240.4 171.01v1.26M275 171.01v1.26M241.4 168.33v1.26M278.4 168.33v1.26M244 165.66v1.26M285.4 165.66v1.26M241 162.99v1.26M277.5 162.99v1.26M241.4 160.32v1.26M278.3 160.32v1.26M244.1 157.64v1.26M281.5 157.64v1.26M246.3 154.97v1.26M279.5 154.97v1.26M242 152.3v1.26M281.7 152.3v1.26M241 149.63v1.26M280.4 149.63v1.26M241.7 146.95v1.26M278.7 146.95v1.26M248.5 144.28v1.26M298.1 144.28v1.26M245.9 141.61v1.26M281.6 141.61v1.26M244.8 138.94v1.26M286.4 138.94v1.26M241.3 136.26v1.26M283.1 136.26v1.26M240.5 133.59v1.26M280.7 133.59v1.26M242.7 130.92v1.26M281.8 130.92v1.26M244 128.25v1.26M285.5 128.25v1.26M242 125.57v1.26M280.3 125.57v1.26M243.4 122.9v1.26M281.2 122.9v1.26M245.9 120.23v1.26M284.7 120.23v1.26M245.8 117.56v1.26M286 117.56v1.26M240.9 114.88v1.26M284.6 114.88v1.26M242.8 112.21v1.26M291.7 112.21v1.26M241.9 109.54v1.26M286.4 109.54v1.26M245.6 106.87v1.26M282.4 106.87v1.26M246.3 104.19v1.26M283.1 104.19v1.26M247.5 101.52v1.26M283.3 101.52v1.26M245.8 98.85v1.26M286.4 98.85v1.26M243.5 96.18v1.26M283.5 96.18v1.26M246.9 93.5v1.26M282.7 93.5v1.26M247.6 90.83v1.26M287.9 90.83v1.26M248.4 88.16v1.26M284.2 88.16v1.26M244.7 85.49v1.26M285 85.49v1.26M246.2 82.81v1.26M287.1 82.81v1.26M248.7 80.14v1.26M285.5 80.14v1.26M245.8 77.47v1.26M293.8 77.47v1.26M245 74.8v1.26M290.3 74.8v1.26M239.9 72.12v1.26M285.6 72.12v1.26M244.3 69.45v1.26M288.8 69.45v1.26M242.2 66.78v1.26M288.1 66.78v1.26M241.8 64.11v1.26M286.7 64.11v1.26M242.9 61.43v1.26M292.3 61.43v1.26M243.2 58.76v1.26M295.3 58.76v1.26M243.7 56.09v1.26M298.2 56.09v1.26M248.6 53.42v1.26M351.8 53.42v1.26M246.6 50.74v1.26M292 50.74v1.26M250.6 48.07v1.26M296.2 48.07v1.26M242.9 45.4v1.26M291.6 45.4v1.26M242.3 42.73v1.26M298 42.73v1.26M244 40.06v1.26M299.7 40.06v1.26M243.9 37.38v1.26M299 37.38v1.26M247.2 34.71v1.26M298.9 34.71v1.26M251.9 32.04v1.26M306 32.04v1.26M252.6 29.37v1.26M306.1 29.37v1.26M241.5 26.69v1.26M308.9 26.69v1.26M247.9 24.02v1.26M309.2 24.02v1.26M250.8 21.35v1.26M309.2 21.35v1.26M250 18.68v1.26M312 18.68v1.26M247.8 16v1.26M313.2 16v1.26M251.6 13.33v1.26M313.3 13.33v1.26M241.5 10.66v1.26M320.4 10.66v1.26"/>
<path class="o" d="M263.3 222.41a.75 .75 0 1 0 1.5 0a.75 .75 0 1 0-1.5 0M266.1 222.41a.75 .75 0 1 0 1.5 0a.75 .75 0 1 0-1.5 0M224.1 222.41a.75 .75 0 1 0 1.5 0a.75 .75 0 1 0-1.5 0M263.7 219.74a.75 .75 0 1 0 1.5 0a.75 .75 0 1 0-1.5 0M266.3 219.74a.75 .75 0 1 0 1.5 0a.75 .75 0 1 0-1.5 0M222.4 219.74a.75 .75 0 1 0 1.5 0a.75 .75 0 1 0-1.5 0M219.2 219.74a.75 .75 0 1 0 1.5 0a.75 .75 0 1 0-1.5 0M259 217.07a.75 .75 0 1 0 1.5 0a.75 .75 0 1 0-1.5 0M266.9 214.39a.75 .75 0 1 0 1.5 0a.75 .75 0 1 0-1.5 0M270.3 214.39a.75 .75 0 1 0 1.5 0a.75 .75 0 1 0-1.5 0M273.4 214.39a.75 .75 0 1 0 1.5 0a.75 .75 0 1 0-1.5 0M226.9 214.39a.75 .75 0 1 0 1.5 0a.75 .75 0 1 0-1.5 0M263.4 211.72a.75 .75 0 1 0 1.5 0a.75 .75 0 1 0-1.5 0M266.8 211.72a.75 .75 0 1 0 1.5 0a.75 .75 0 1 0-1.5 0M269.4 211.72a.75 .75 0 1 0 1.5 0a.75 .75 0 1 0-1.5 0M272.6 211.72a.75 .75 0 1 0 1.5 0a.75 .75 0 1 0-1.5 0M271.2 209.05a.75 .75 0 1 0 1.5 0a.75 .75 0 1 0-1.5 0M274.1 209.05a.75 .75 0 1 0 1.5 0a.75 .75 0 1 0-1.5 0M277.5 209.05a.75 .75 0 1 0 1.5 0a.75 .75 0 1 0-1.5 0M280.7 209.05a.75 .75 0 1 0 1.5 0a.75 .75 0 1 0-1.5 0M226.9 209.05a.75 .75 0 1 0 1.5 0a.75 .75 0 1 0-1.5 0M223.6 209.05a.75 .75 0 1 0 1.5 0a.75 .75 0 1 0-1.5 0M220.8 209.05a.75 .75 0 1 0 1.5 0a.75 .75 0 1 0-1.5 0M270.3 206.38a.75 .75 0 1 0 1.5 0a.75 .75 0 1 0-1.5 0M273.4 206.38a.75 .75 0 1 0 1.5 0a.75 .75 0 1 0-1.5 0M276 206.38a.75 .75 0 1 0 1.5 0a.75 .75 0 1 0-1.5 0M278.4 206.38a.75 .75 0 1 0 1.5 0a.75 .75 0 1 0-1.5 0M226.5 206.38a.75 .75 0 1 0 1.5 0a.75 .75 0 1 0-1.5 0M223.2 206.38a.75 .75 0 1 0 1.5 0a.75 .75 0 1 0-1.5 0M272.8 201.03a.75 .75 0 1 0 1.5 0a.75 .75 0 1 0-1.5 0M276.2 201.03a.75 .75 0 1 0 1.5 0a.75 .75 0 1 0-1.5 0M269.3 198.36a.75 .75 0 1 0 1.5 0a.75 .75 0 1 0-1.5 0M230.5 198.36a.75 .75 0 1 0 1.5 0a.75 .75 0 1 0-1.5 0M228.6 198.36a.75 .75 0 1 0 1.5 0a.75 .75 0 1 0-1.5 0M226.8 198.36a.75 .75 0 1 0 1.5 0a.75 .75 0 1 0-1.5 0M275.7 195.69a.75 .75 0 1 0 1.5 0a.75 .75 0 1 0-1.5 0M277.9 195.69a.75 .75 0 1 0 1.5 0a.75 .75 0 1 0-1.5 0M281.4 195.69a.75 .75 0 1 0 1.5 0a.75 .75 0 1 0-1.5 0M283.2 195.69a.75 .75 0 1 0 1.5 0a.75 .75 0 1 0-1.5 0M271.4 193.01a.75 .75 0 1 0 1.5 0a.75 .75 0 1 0-1.5 0M274.2 193.01a.75 .75 0 1 0 1.5 0a.75 .75 0 1 0-1.5 0M228.6 193.01a.75 .75 0 1 0 1.5 0a.75 .75 0 1 0-1.5 0M277 187.67a.75 .75 0 1 0 1.5 0a.75 .75 0 1 0-1.5 0M280.5 187.67a.75 .75 0 1 0 1.5 0a.75 .75 0 1 0-1.5 0M282.7 187.67a.75 .75 0 1 0 1.5 0a.75 .75 0 1 0-1.5 0M285.5 187.67a.75 .75 0 1 0 1.5 0a.75 .75 0 1 0-1.5 0M234.9 187.67a.75 .75 0 1 0 1.5 0a.75 .75 0 1 0-1.5 0M271 185a.75 .75 0 1 0 1.5 0a.75 .75 0 1 0-1.5 0M274.5 185a.75 .75 0 1 0 1.5 0a.75 .75 0 1 0-1.5 0M277.9 185a.75 .75 0 1 0 1.5 0a.75 .75 0 1 0-1.5 0M281.4 185a.75 .75 0 1 0 1.5 0a.75 .75 0 1 0-1.5 0M283.6 185a.75 .75 0 1 0 1.5 0a.75 .75 0 1 0-1.5 0M274.3 182.33a.75 .75 0 1 0 1.5 0a.75 .75 0 1 0-1.5 0M276.9 182.33a.75 .75 0 1 0 1.5 0a.75 .75 0 1 0-1.5 0M279.6 182.33a.75 .75 0 1 0 1.5 0a.75 .75 0 1 0-1.5 0M281.4 182.33a.75 .75 0 1 0 1.5 0a.75 .75 0 1 0-1.5 0M283.2 182.33a.75 .75 0 1 0 1.5 0a.75 .75 0 1 0-1.5 0M233.5 182.33a.75 .75 0 1 0 1.5 0a.75 .75 0 1 0-1.5 0M272.9 179.65a.75 .75 0 1 0 1.5 0a.75 .75 0 1 0-1.5 0M275.2 179.65a.75 .75 0 1 0 1.5 0a.75 .75 0 1 0-1.5 0M278.1 179.65a.75 .75 0 1 0 1.5 0a.75 .75 0 1 0-1.5 0M280.3 179.65a.75 .75 0 1 0 1.5 0a.75 .75 0 1 0-1.5 0M236.6 179.65a.75 .75 0 1 0 1.5 0a.75 .75 0 1 0-1.5 0M233.1 179.65a.75 .75 0 1 0 1.5 0a.75 .75 0 1 0-1.5 0M230.1 179.65a.75 .75 0 1 0 1.5 0a.75 .75 0 1 0-1.5 0M274.1 176.98a.75 .75 0 1 0 1.5 0a.75 .75 0 1 0-1.5 0M276 176.98a.75 .75 0 1 0 1.5 0a.75 .75 0 1 0-1.5 0M279.2 176.98a.75 .75 0 1 0 1.5 0a.75 .75 0 1 0-1.5 0M281.6 176.98a.75 .75 0 1 0 1.5 0a.75 .75 0 1 0-1.5 0M235.1 176.98a.75 .75 0 1 0 1.5 0a.75 .75 0 1 0-1.5 0M231.8 176.98a.75 .75 0 1 0 1.5 0a.75 .75 0 1 0-1.5 0M277.3 174.31a.75 .75 0 1 0 1.5 0a.75 .75 0 1 0-1.5 0M280.2 174.31a.75 .75 0 1 0 1.5 0a.75 .75 0 1 0-1.5 0M276.1 171.64a.75 .75 0 1 0 1.5 0a.75 .75 0 1 0-1.5 0M278.4 171.64a.75 .75 0 1 0 1.5 0a.75 .75 0 1 0-1.5 0M280.9 171.64a.75 .75 0 1 0 1.5 0a.75 .75 0 1 0-1.5 0M284.3 171.64a.75 .75 0 1 0 1.5 0a.75 .75 0 1 0-1.5 0M237.7 171.64a.75 .75 0 1 0 1.5 0a.75 .75 0 1 0-1.5 0M234.6 171.64a.75 .75 0 1 0 1.5 0a.75 .75 0 1 0-1.5 0M240.3 166.29a.75 .75 0 1 0 1.5 0a.75 .75 0 1 0-1.5 0M237.2 166.29a.75 .75 0 1 0 1.5 0a.75 .75 0 1 0-1.5 0M280.2 163.62a.75 .75 0 1 0 1.5 0a.75 .75 0 1 0-1.5 0M283.3 163.62a.75 .75 0 1 0 1.5 0a.75 .75 0 1 0-1.5 0M286.7 163.62a.75 .75 0 1 0 1.5 0a.75 .75 0 1 0-1.5 0M237.1 163.62a.75 .75 0 1 0 1.5 0a.75 .75 0 1 0-1.5 0M234.8 163.62a.75 .75 0 1 0 1.5 0a.75 .75 0 1 0-1.5 0M232.6 163.62a.75 .75 0 1 0 1.5 0a.75 .75 0 1 0-1.5 0M280.8 160.95a.75 .75 0 1 0 1.5 0a.75 .75 0 1 0-1.5 0M282.7 160.95a.75 .75 0 1 0 1.5 0a.75 .75 0 1 0-1.5 0M285.1 160.95a.75 .75 0 1 0 1.5 0a.75 .75 0 1 0-1.5 0M288.6 160.95a.75 .75 0 1 0 1.5 0a.75 .75 0 1 0-1.5 0M238.6 160.95a.75 .75 0 1 0 1.5 0a.75 .75 0 1 0-1.5 0M236.1 160.95a.75 .75 0 1 0 1.5 0a.75 .75 0 1 0-1.5 0M234.2 160.95a.75 .75 0 1 0 1.5 0a.75 .75 0 1 0-1.5 0M283.1 158.27a.75 .75 0 1 0 1.5 0a.75 .75 0 1 0-1.5 0M285.2 158.27a.75 .75 0 1 0 1.5 0a.75 .75 0 1 0-1.5 0M287.5 158.27a.75 .75 0 1 0 1.5 0a.75 .75 0 1 0-1.5 0M289.6 158.27a.75 .75 0 1 0 1.5 0a.75 .75 0 1 0-1.5 0M293.1 158.27a.75 .75 0 1 0 1.5 0a.75 .75 0 1 0-1.5 0M239.9 158.27a.75 .75 0 1 0 1.5 0a.75 .75 0 1 0-1.5 0M237.4 158.27a.75 .75 0 1 0 1.5 0a.75 .75 0 1 0-1.5 0M235 158.27a.75 .75 0 1 0 1.5 0a.75 .75 0 1 0-1.5 0M282 155.6a.75 .75 0 1 0 1.5 0a.75 .75 0 1 0-1.5 0M243.1 155.6a.75 .75 0 1 0 1.5 0a.75 .75 0 1 0-1.5 0M282.8 152.93a.75 .75 0 1 0 1.5 0a.75 .75 0 1 0-1.5 0M285.1 152.93a.75 .75 0 1 0 1.5 0a.75 .75 0 1 0-1.5 0M287.3 152.93a.75 .75 0 1 0 1.5 0a.75 .75 0 1 0-1.5 0M238.2 152.93a.75 .75 0 1 0 1.5 0a.75 .75 0 1 0-1.5 0M235.7 152.93a.75 .75 0 1 0 1.5 0a.75 .75 0 1 0-1.5 0M238.1 150.26a.75 .75 0 1 0 1.5 0a.75 .75 0 1 0-1.5 0M235.2 150.26a.75 .75 0 1 0 1.5 0a.75 .75 0 1 0-1.5 0M232.7 150.26a.75 .75 0 1 0 1.5 0a.75 .75 0 1 0-1.5 0M281.1 147.58a.75 .75 0 1 0 1.5 0a.75 .75 0 1 0-1.5 0M282.9 147.58a.75 .75 0 1 0 1.5 0a.75 .75 0 1 0-1.5 0M286.3 147.58a.75 .75 0 1 0 1.5 0a.75 .75 0 1 0-1.5 0M289.4 147.58a.75 .75 0 1 0 1.5 0a.75 .75 0 1 0-1.5 0M292.2 147.58a.75 .75 0 1 0 1.5 0a.75 .75 0 1 0-1.5 0M300.4 144.91a.75 .75 0 1 0 1.5 0a.75 .75 0 1 0-1.5 0M245 144.91a.75 .75 0 1 0 1.5 0a.75 .75 0 1 0-1.5 0M283 142.24a.75 .75 0 1 0 1.5 0a.75 .75 0 1 0-1.5 0M286.4 142.24a.75 .75 0 1 0 1.5 0a.75 .75 0 1 0-1.5 0M288.4 142.24a.75 .75 0 1 0 1.5 0a.75 .75 0 1 0-1.5 0M243.3 142.24a.75 .75 0 1 0 1.5 0a.75 .75 0 1 0-1.5 0M240.7 142.24a.75 .75 0 1 0 1.5 0a.75 .75 0 1 0-1.5 0M237.5 142.24a.75 .75 0 1 0 1.5 0a.75 .75 0 1 0-1.5 0M288.3 139.57a.75 .75 0 1 0 1.5 0a.75 .75 0 1 0-1.5 0M291.8 139.57a.75 .75 0 1 0 1.5 0a.75 .75 0 1 0-1.5 0M241.2 139.57a.75 .75 0 1 0 1.5 0a.75 .75 0 1 0-1.5 0M238.8 139.57a.75 .75 0 1 0 1.5 0a.75 .75 0 1 0-1.5 0M282.4 134.22a.75 .75 0 1 0 1.5 0a.75 .75 0 1 0-1.5 0M285.1 134.22a.75 .75 0 1 0 1.5 0a.75 .75 0 1 0-1.5 0M287.5 134.22a.75 .75 0 1 0 1.5 0a.75 .75 0 1 0-1.5 0M238.7 131.55a.75 .75 0 1 0 1.5 0a.75 .75 0 1 0-1.5 0M240.4 128.88a.75 .75 0 1 0 1.5 0a.75 .75 0 1 0-1.5 0M237.9 128.88a.75 .75 0 1 0 1.5 0a.75 .75 0 1 0-1.5 0M281.8 126.2a.75 .75 0 1 0 1.5 0a.75 .75 0 1 0-1.5 0M237.8 126.2a.75 .75 0 1 0 1.5 0a.75 .75 0 1 0-1.5 0M235.8 126.2a.75 .75 0 1 0 1.5 0a.75 .75 0 1 0-1.5 0M282.5 123.53a.75 .75 0 1 0 1.5 0a.75 .75 0 1 0-1.5 0M285.1 123.53a.75 .75 0 1 0 1.5 0a.75 .75 0 1 0-1.5 0M287.4 123.53a.75 .75 0 1 0 1.5 0a.75 .75 0 1 0-1.5 0M239.4 123.53a.75 .75 0 1 0 1.5 0a.75 .75 0 1 0-1.5 0M287.2 120.86a.75 .75 0 1 0 1.5 0a.75 .75 0 1 0-1.5 0M243 120.86a.75 .75 0 1 0 1.5 0a.75 .75 0 1 0-1.5 0M241 120.86a.75 .75 0 1 0 1.5 0a.75 .75 0 1 0-1.5 0M238.9 120.86a.75 .75 0 1 0 1.5 0a.75 .75 0 1 0-1.5 0M288.6 118.19a.75 .75 0 1 0 1.5 0a.75 .75 0 1 0-1.5 0M291.3 118.19a.75 .75 0 1 0 1.5 0a.75 .75 0 1 0-1.5 0M242.1 118.19a.75 .75 0 1 0 1.5 0a.75 .75 0 1 0-1.5 0M238.7 118.19a.75 .75 0 1 0 1.5 0a.75 .75 0 1 0-1.5 0M235.6 118.19a.75 .75 0 1 0 1.5 0a.75 .75 0 1 0-1.5 0M286.3 115.51a.75 .75 0 1 0 1.5 0a.75 .75 0 1 0-1.5 0M288.8 115.51a.75 .75 0 1 0 1.5 0a.75 .75 0 1 0-1.5 0M290.9 115.51a.75 .75 0 1 0 1.5 0a.75 .75 0 1 0-1.5 0M294.3 115.51a.75 .75 0 1 0 1.5 0a.75 .75 0 1 0-1.5 0M296.7 115.51a.75 .75 0 1 0 1.5 0a.75 .75 0 1 0-1.5 0M288.1 110.17a.75 .75 0 1 0 1.5 0a.75 .75 0 1 0-1.5 0M238.8 110.17a.75 .75 0 1 0 1.5 0a.75 .75 0 1 0-1.5 0M236 110.17a.75 .75 0 1 0 1.5 0a.75 .75 0 1 0-1.5 0M283.8 107.5a.75 .75 0 1 0 1.5 0a.75 .75 0 1 0-1.5 0M242.3 107.5a.75 .75 0 1 0 1.5 0a.75 .75 0 1 0-1.5 0M285.6 104.82a.75 .75 0 1 0 1.5 0a.75 .75 0 1 0-1.5 0M287.7 104.82a.75 .75 0 1 0 1.5 0a.75 .75 0 1 0-1.5 0M289.6 104.82a.75 .75 0 1 0 1.5 0a.75 .75 0 1 0-1.5 0M292.2 104.82a.75 .75 0 1 0 1.5 0a.75 .75 0 1 0-1.5 0M286 102.15a.75 .75 0 1 0 1.5 0a.75 .75 0 1 0-1.5 0M288.2 102.15a.75 .75 0 1 0 1.5 0a.75 .75 0 1 0-1.5 0M290.1 102.15a.75 .75 0 1 0 1.5 0a.75 .75 0 1 0-1.5 0M293.2 102.15a.75 .75 0 1 0 1.5 0a.75 .75 0 1 0-1.5 0M295.8 102.15a.75 .75 0 1 0 1.5 0a.75 .75 0 1 0-1.5 0M243.4 102.15a.75 .75 0 1 0 1.5 0a.75 .75 0 1 0-1.5 0M240.7 102.15a.75 .75 0 1 0 1.5 0a.75 .75 0 1 0-1.5 0M288.1 99.48a.75 .75 0 1 0 1.5 0a.75 .75 0 1 0-1.5 0M242.5 99.48a.75 .75 0 1 0 1.5 0a.75 .75 0 1 0-1.5 0M284.7 96.81a.75 .75 0 1 0 1.5 0a.75 .75 0 1 0-1.5 0M287 96.81a.75 .75 0 1 0 1.5 0a.75 .75 0 1 0-1.5 0M290.1 96.81a.75 .75 0 1 0 1.5 0a.75 .75 0 1 0-1.5 0M291.9 96.81a.75 .75 0 1 0 1.5 0a.75 .75 0 1 0-1.5 0M283.9 94.13a.75 .75 0 1 0 1.5 0a.75 .75 0 1 0-1.5 0M287.2 94.13a.75 .75 0 1 0 1.5 0a.75 .75 0 1 0-1.5 0M289.4 94.13a.75 .75 0 1 0 1.5 0a.75 .75 0 1 0-1.5 0M292 94.13a.75 .75 0 1 0 1.5 0a.75 .75 0 1 0-1.5 0M294.8 94.13a.75 .75 0 1 0 1.5 0a.75 .75 0 1 0-1.5 0M244.1 94.13a.75 .75 0 1 0 1.5 0a.75 .75 0 1 0-1.5 0M290.1 91.46a.75 .75 0 1 0 1.5 0a.75 .75 0 1 0-1.5 0M293.4 91.46a.75 .75 0 1 0 1.5 0a.75 .75 0 1 0-1.5 0M295.5 91.46a.75 .75 0 1 0 1.5 0a.75 .75 0 1 0-1.5 0M298.1 91.46a.75 .75 0 1 0 1.5 0a.75 .75 0 1 0-1.5 0M244.8 91.46a.75 .75 0 1 0 1.5 0a.75 .75 0 1 0-1.5 0M286.2 88.79a.75 .75 0 1 0 1.5 0a.75 .75 0 1 0-1.5 0M289.3 88.79a.75 .75 0 1 0 1.5 0a.75 .75 0 1 0-1.5 0M292.3 88.79a.75 .75 0 1 0 1.5 0a.75 .75 0 1 0-1.5 0M245 88.79a.75 .75 0 1 0 1.5 0a.75 .75 0 1 0-1.5 0M241.8 88.79a.75 .75 0 1 0 1.5 0a.75 .75 0 1 0-1.5 0M239.7 88.79a.75 .75 0 1 0 1.5 0a.75 .75 0 1 0-1.5 0M286.6 86.12a.75 .75 0 1 0 1.5 0a.75 .75 0 1 0-1.5 0M241.7 86.12a.75 .75 0 1 0 1.5 0a.75 .75 0 1 0-1.5 0M289.1 83.44a.75 .75 0 1 0 1.5 0a.75 .75 0 1 0-1.5 0M243.4 83.44a.75 .75 0 1 0 1.5 0a.75 .75 0 1 0-1.5 0M240.6 83.44a.75 .75 0 1 0 1.5 0a.75 .75 0 1 0-1.5 0M237.5 83.44a.75 .75 0 1 0 1.5 0a.75 .75 0 1 0-1.5 0M287.7 80.77a.75 .75 0 1 0 1.5 0a.75 .75 0 1 0-1.5 0M290.5 80.77a.75 .75 0 1 0 1.5 0a.75 .75 0 1 0-1.5 0M244.9 80.77a.75 .75 0 1 0 1.5 0a.75 .75 0 1 0-1.5 0M241.7 80.77a.75 .75 0 1 0 1.5 0a.75 .75 0 1 0-1.5 0M239.5 80.77a.75 .75 0 1 0 1.5 0a.75 .75 0 1 0-1.5 0M241.8 78.1a.75 .75 0 1 0 1.5 0a.75 .75 0 1 0-1.5 0M239.2 78.1a.75 .75 0 1 0 1.5 0a.75 .75 0 1 0-1.5 0M236.9 78.1a.75 .75 0 1 0 1.5 0a.75 .75 0 1 0-1.5 0M292.1 75.43a.75 .75 0 1 0 1.5 0a.75 .75 0 1 0-1.5 0M294.6 75.43a.75 .75 0 1 0 1.5 0a.75 .75 0 1 0-1.5 0M297.6 75.43a.75 .75 0 1 0 1.5 0a.75 .75 0 1 0-1.5 0M300.2 75.43a.75 .75 0 1 0 1.5 0a.75 .75 0 1 0-1.5 0M287.3 72.75a.75 .75 0 1 0 1.5 0a.75 .75 0 1 0-1.5 0M290 72.75a.75 .75 0 1 0 1.5 0a.75 .75 0 1 0-1.5 0M293.4 72.75a.75 .75 0 1 0 1.5 0a.75 .75 0 1 0-1.5 0M295.5 72.75a.75 .75 0 1 0 1.5 0a.75 .75 0 1 0-1.5 0M236.1 72.75a.75 .75 0 1 0 1.5 0a.75 .75 0 1 0-1.5 0M233.1 72.75a.75 .75 0 1 0 1.5 0a.75 .75 0 1 0-1.5 0M229.9 72.75a.75 .75 0 1 0 1.5 0a.75 .75 0 1 0-1.5 0M290.6 70.08a.75 .75 0 1 0 1.5 0a.75 .75 0 1 0-1.5 0M241.5 70.08a.75 .75 0 1 0 1.5 0a.75 .75 0 1 0-1.5 0M238.9 70.08a.75 .75 0 1 0 1.5 0a.75 .75 0 1 0-1.5 0M290.6 67.41a.75 .75 0 1 0 1.5 0a.75 .75 0 1 0-1.5 0M293.6 67.41a.75 .75 0 1 0 1.5 0a.75 .75 0 1 0-1.5 0M295.9 67.41a.75 .75 0 1 0 1.5 0a.75 .75 0 1 0-1.5 0M298 67.41a.75 .75 0 1 0 1.5 0a.75 .75 0 1 0-1.5 0M301.3 67.41a.75 .75 0 1 0 1.5 0a.75 .75 0 1 0-1.5 0M239.1 67.41a.75 .75 0 1 0 1.5 0a.75 .75 0 1 0-1.5 0M237.3 67.41a.75 .75 0 1 0 1.5 0a.75 .75 0 1 0-1.5 0M288.4 64.74a.75 .75 0 1 0 1.5 0a.75 .75 0 1 0-1.5 0M290.9 64.74a.75 .75 0 1 0 1.5 0a.75 .75 0 1 0-1.5 0M293.4 64.74a.75 .75 0 1 0 1.5 0a.75 .75 0 1 0-1.5 0M296.6 64.74a.75 .75 0 1 0 1.5 0a.75 .75 0 1 0-1.5 0M298.5 64.74a.75 .75 0 1 0 1.5 0a.75 .75 0 1 0-1.5 0M238.3 64.74a.75 .75 0 1 0 1.5 0a.75 .75 0 1 0-1.5 0M236.3 64.74a.75 .75 0 1 0 1.5 0a.75 .75 0 1 0-1.5 0M234.2 64.74a.75 .75 0 1 0 1.5 0a.75 .75 0 1 0-1.5 0M294.4 62.06a.75 .75 0 1 0 1.5 0a.75 .75 0 1 0-1.5 0M297.4 59.39a.75 .75 0 1 0 1.5 0a.75 .75 0 1 0-1.5 0M299.8 59.39a.75 .75 0 1 0 1.5 0a.75 .75 0 1 0-1.5 0M239.9 59.39a.75 .75 0 1 0 1.5 0a.75 .75 0 1 0-1.5 0M237.1 59.39a.75 .75 0 1 0 1.5 0a.75 .75 0 1 0-1.5 0M300 56.72a.75 .75 0 1 0 1.5 0a.75 .75 0 1 0-1.5 0M303.4 56.72a.75 .75 0 1 0 1.5 0a.75 .75 0 1 0-1.5 0M305.7 56.72a.75 .75 0 1 0 1.5 0a.75 .75 0 1 0-1.5 0M240.8 56.72a.75 .75 0 1 0 1.5 0a.75 .75 0 1 0-1.5 0M293.2 51.37a.75 .75 0 1 0 1.5 0a.75 .75 0 1 0-1.5 0M295.7 51.37a.75 .75 0 1 0 1.5 0a.75 .75 0 1 0-1.5 0M298.7 51.37a.75 .75 0 1 0 1.5 0a.75 .75 0 1 0-1.5 0M243.6 51.37a.75 .75 0 1 0 1.5 0a.75 .75 0 1 0-1.5 0M241.7 51.37a.75 .75 0 1 0 1.5 0a.75 .75 0 1 0-1.5 0M297.8 48.7a.75 .75 0 1 0 1.5 0a.75 .75 0 1 0-1.5 0M246.7 48.7a.75 .75 0 1 0 1.5 0a.75 .75 0 1 0-1.5 0M243.8 48.7a.75 .75 0 1 0 1.5 0a.75 .75 0 1 0-1.5 0M241.1 48.7a.75 .75 0 1 0 1.5 0a.75 .75 0 1 0-1.5 0M294 46.03a.75 .75 0 1 0 1.5 0a.75 .75 0 1 0-1.5 0M296.9 46.03a.75 .75 0 1 0 1.5 0a.75 .75 0 1 0-1.5 0M298.9 46.03a.75 .75 0 1 0 1.5 0a.75 .75 0 1 0-1.5 0M301.3 46.03a.75 .75 0 1 0 1.5 0a.75 .75 0 1 0-1.5 0M239.4 46.03a.75 .75 0 1 0 1.5 0a.75 .75 0 1 0-1.5 0M300 43.36a.75 .75 0 1 0 1.5 0a.75 .75 0 1 0-1.5 0M302.1 43.36a.75 .75 0 1 0 1.5 0a.75 .75 0 1 0-1.5 0M239.7 43.36a.75 .75 0 1 0 1.5 0a.75 .75 0 1 0-1.5 0M237.2 43.36a.75 .75 0 1 0 1.5 0a.75 .75 0 1 0-1.5 0M302.1 40.69a.75 .75 0 1 0 1.5 0a.75 .75 0 1 0-1.5 0M304.6 40.69a.75 .75 0 1 0 1.5 0a.75 .75 0 1 0-1.5 0M306.8 40.69a.75 .75 0 1 0 1.5 0a.75 .75 0 1 0-1.5 0M308.9 40.69a.75 .75 0 1 0 1.5 0a.75 .75 0 1 0-1.5 0M240.4 40.69a.75 .75 0 1 0 1.5 0a.75 .75 0 1 0-1.5 0M238.5 40.69a.75 .75 0 1 0 1.5 0a.75 .75 0 1 0-1.5 0M300.9 35.34a.75 .75 0 1 0 1.5 0a.75 .75 0 1 0-1.5 0M307.9 32.67a.75 .75 0 1 0 1.5 0a.75 .75 0 1 0-1.5 0M249.7 30a.75 .75 0 1 0 1.5 0a.75 .75 0 1 0-1.5 0M246.5 30a.75 .75 0 1 0 1.5 0a.75 .75 0 1 0-1.5 0M311.6 27.32a.75 .75 0 1 0 1.5 0a.75 .75 0 1 0-1.5 0M314.9 27.32a.75 .75 0 1 0 1.5 0a.75 .75 0 1 0-1.5 0M316.9 27.32a.75 .75 0 1 0 1.5 0a.75 .75 0 1 0-1.5 0M238.6 27.32a.75 .75 0 1 0 1.5 0a.75 .75 0 1 0-1.5 0M236.4 27.32a.75 .75 0 1 0 1.5 0a.75 .75 0 1 0-1.5 0M311.5 24.65a.75 .75 0 1 0 1.5 0a.75 .75 0 1 0-1.5 0M243.7 24.65a.75 .75 0 1 0 1.5 0a.75 .75 0 1 0-1.5 0M311.2 21.98a.75 .75 0 1 0 1.5 0a.75 .75 0 1 0-1.5 0M314.2 21.98a.75 .75 0 1 0 1.5 0a.75 .75 0 1 0-1.5 0M316.4 21.98a.75 .75 0 1 0 1.5 0a.75 .75 0 1 0-1.5 0M319.4 21.98a.75 .75 0 1 0 1.5 0a.75 .75 0 1 0-1.5 0M247.7 21.98a.75 .75 0 1 0 1.5 0a.75 .75 0 1 0-1.5 0M313.3 19.31a.75 .75 0 1 0 1.5 0a.75 .75 0 1 0-1.5 0M316.2 19.31a.75 .75 0 1 0 1.5 0a.75 .75 0 1 0-1.5 0M247 19.31a.75 .75 0 1 0 1.5 0a.75 .75 0 1 0-1.5 0M314.4 16.63a.75 .75 0 1 0 1.5 0a.75 .75 0 1 0-1.5 0M317.5 16.63a.75 .75 0 1 0 1.5 0a.75 .75 0 1 0-1.5 0M320.7 16.63a.75 .75 0 1 0 1.5 0a.75 .75 0 1 0-1.5 0M323.3 16.63a.75 .75 0 1 0 1.5 0a.75 .75 0 1 0-1.5 0M243.7 16.63a.75 .75 0 1 0 1.5 0a.75 .75 0 1 0-1.5 0M315.1 13.96a.75 .75 0 1 0 1.5 0a.75 .75 0 1 0-1.5 0M247.8 13.96a.75 .75 0 1 0 1.5 0a.75 .75 0 1 0-1.5 0M322.7 11.29a.75 .75 0 1 0 1.5 0a.75 .75 0 1 0-1.5 0M326.1 11.29a.75 .75 0 1 0 1.5 0a.75 .75 0 1 0-1.5 0M238.5 11.29a.75 .75 0 1 0 1.5 0a.75 .75 0 1 0-1.5 0M236.2 11.29a.75 .75 0 1 0 1.5 0a.75 .75 0 1 0-1.5 0M234.3 11.29a.75 .75 0 1 0 1.5 0a.75 .75 0 1 0-1.5 0"/>
<path class="b" fill="#90ee90" d="M234.4 221.36h15v2.1h-15zM231.8 218.69h17.4v2.1h-17.4zM229.3 216.02h20v2.1h-20zM236.1 213.34h18v2.1h-18zM231 210.67h18.7v2.1h-18.7zM238.3 208h20.9v2.1h-20.9zM237.4 205.33h20.2v2.1h-20.2zM235.2 202.65h19.2v2.1h-19.2zM237.6 199.98h20.6v2.1h-20.6zM240.5 197.31h20v2.1h-20zM242.1 194.64h20.5v2.1h-20.5zM238.5 191.96h21.6v2.1h-21.6zM240.8 189.29h17.6v2.1h-17.6zM243.2 186.62h21.3v2.1h-21.3zM245.3 183.95h15.3v2.1h-15.3zM243.7 181.28h17.6v2.1h-17.6zM242.4 173.26h20.4v2.1h-20.4zM251.6 165.24h20v2.1h-20zM249.5 162.57h18.7v2.1h-18.7zM248.3 159.9h18v2.1h-18zM249.7 157.22h22.2v2.1h-22.2zM252.2 154.55h18.7v2.1h-18.7zM250.8 151.88h20.8v2.1h-20.8zM248.7 149.21h19.3v2.1h-19.3zM249.1 146.53h17.2v2.1h-17.2zM254.3 143.86h30.7v2.1h-30.7zM253.3 141.19h18.9v2.1h-18.9zM252.5 138.52h21.8v2.1h-21.8zM249.7 135.84h20.1v2.1h-20.1zM249.3 133.17h22.7v2.1h-22.7zM253.5 127.83h19.9v2.1h-19.9zM249.2 125.15h21.7v2.1h-21.7zM250.9 122.48h20.3v2.1h-20.3zM253.5 117.14h19.2v2.1h-19.2zM251.7 109.12h23.9v2.1h-23.9zM256.6 101.1h18v2.1h-18zM254.6 98.43h21.1v2.1h-21.1zM253 95.76h21.8v2.1h-21.8zM256.8 93.08h17.3v2.1h-17.3zM255.1 90.41h18.6v2.1h-18.6zM256.1 87.74h17.6v2.1h-17.6zM252.5 85.07h22.2v2.1h-22.2zM255.6 82.39h21.6v2.1h-21.6zM255.7 79.72h20.8v2.1h-20.8zM252.4 71.7h23.7v2.1h-23.7zM253.5 69.03h23.9v2.1h-23.9zM254.7 66.36h23.7v2.1h-23.7zM251 63.69h25.3v2.1h-25.3zM256 61.01h23.7v2.1h-23.7zM252.1 58.34h30.8v2.1h-30.8zM255.9 55.67h28.4v2.1h-28.4zM262 53h81.8v2.1h-81.8zM256.7 50.32h24.6v2.1h-24.6zM254.2 44.98h27.3v2.1h-27.3zM254.4 36.96h35v2.1h-35zM260.8 31.62h30.9v2.1h-30.9zM262 28.95h34.9v2.1h-34.9zM255.9 26.27h38.5v2.1h-38.5zM259.6 20.93h39.1v2.1h-39.1zM259.5 15.58h42.3v2.1h-42.3zM261.7 12.91h41.6v2.1h-41.6z"/>
<path class="b" fill="#0000ff" d="M246.1 178.6h16v2.1h-16zM245.7 175.93h19.2v2.1h-19.2zM247 170.59h17.3v2.1h-17.3zM249.4 167.91h18.8v2.1h-18.8zM250.6 130.5h19.9v2.1h-19.9zM253.2 119.81h23v2.1h-23zM251.7 114.46h23.1v2.1h-23.1zM249.7 111.79h27.7v2.1h-27.7zM256.4 106.45h17.4v2.1h-17.4zM255.5 103.77h17.4v2.1h-17.4zM253.5 77.05h27.5v2.1h-27.5zM256.1 74.38h24.3v2.1h-24.3zM259.7 47.65h26.7v2.1h-26.7zM256.7 42.31h31.1v2.1h-31.1zM252.3 39.64h34.5v2.1h-34.5zM257.9 34.29h26.2v2.1h-26.2zM259.8 23.6h39.7v2.1h-39.7zM262.6 18.26h37.8v2.1h-37.8zM268.5 10.24h40.9v2.1h-40.9z"/>
<path class="m" d="M239.8 221.08v2.67M237.6 218.4v2.67M237.7 215.73v2.67M242 213.06v2.67M239.7 210.39v2.67M244.8 207.71v2.67M243.9 205.04v2.67M243.4 202.37v2.67M245.1 199.7v2.67M246.1 197.02v2.67M247.9 194.35v2.67M247.4 191.68v2.67M248.5 189.01v2.67M250.3 186.33v2.67M251.3 183.66v2.67M250.9 180.99v2.67M252.5 178.32v2.67M252.8 175.64v2.67M251.6 172.97v2.67M252.6 170.3v2.67M256.5 167.63v2.67M257.5 164.95v2.67M256.4 162.28v2.67M255.7 159.61v2.67M259.1 156.94v2.67M258.8 154.26v2.67M258.2 151.59v2.67M256.9 148.92v2.67M257.3 146.25v2.67M258.5 143.57v2.67M259.6 140.9v2.67M260.7 138.23v2.67M259.3 135.56v2.67M257 132.88v2.67M257.6 130.21v2.67M260.5 127.54v2.67M258.1 124.87v2.67M260 122.19v2.67M261.6 119.52v2.67M260.5 116.85v2.67M261.3 114.18v2.67M262 111.51v2.67M261.3 108.83v2.67M262.9 106.16v2.67M262.5 103.49v2.67M263.7 100.82v2.67M262.7 98.14v2.67M262.9 95.47v2.67M264 92.8v2.67M264 90.13v2.67M263.9 87.45v2.67M264 84.78v2.67M264.2 82.11v2.67M264.2 79.44v2.67M264.7 76.76v2.67M265 74.09v2.67M264.2 71.42v2.67M264.2 68.75v2.67M264.1 66.07v2.67M264.7 63.4v2.67M265.2 60.73v2.67M266.3 58.06v2.67M266.9 55.38v2.67M268.5 52.71v2.67M268.3 50.04v2.67M270.3 47.37v2.67M269.9 44.69v2.67M270.2 42.02v2.67M271 39.35v2.67M271.9 36.68v2.67M271.6 34v2.67M273.9 31.33v2.67M278.2 28.66v2.67M277 25.99v2.67M278.7 23.31v2.67M280.6 20.64v2.67M282.6 17.97v2.67M282.9 15.3v2.67M285 12.62v2.67M292.8 9.95v2.67"/>
</g>
<line x1="259.7" y1="0.5" x2="259.7" y2="232.3" class="r"/>
<rect x="217.2" y="0.5" width="167.8" height="231.8" class="f"/>
<text x="381.2" y="211.6" class="lb" text-anchor="end">Forehead</text>
<text x="381.2" y="226.6" class="lb" text-anchor="end">p = 0.145</text>
<line x1="23.5" y1="304.0" x2="192.5" y2="304.0" class="d"/>
<line x1="23.5" y1="409.8" x2="192.5" y2="409.8" class="d"/>
<path d="M18.5 462.34H23.5M18.5 459.53H23.5M18.5 456.72H23.5M18.5 453.90H23.5M18.5 451.09H23.5M18.5 448.28H23.5M18.5 445.46H23.5M18.5 442.65H23.5M18.5 439.84H23.5M18.5 437.02H23.5M18.5 434.21H23.5M18.5 431.40H23.5M18.5 428.58H23.5M18.5 425.77H23.5M18.5 422.96H23.5M18.5 420.14H23.5M18.5 417.33H23.5M18.5 414.52H23.5M18.5 411.71H23.5M18.5 408.89H23.5M18.5 406.08H23.5M18.5 403.27H23.5M18.5 400.45H23.5M18.5 397.64H23.5M18.5 394.83H23.5M18.5 392.01H23.5M18.5 389.20H23.5M18.5 386.39H23.5M18.5 383.57H23.5M18.5 380.76H23.5M18.5 377.95H23.5M18.5 375.14H23.5M18.5 372.32H23.5M18.5 369.51H23.5M18.5 366.70H23.5M18.5 363.88H23.5M18.5 361.07H23.5M18.5 358.26H23.5M18.5 355.44H23.5M18.5 352.63H23.5M18.5 349.82H23.5M18.5 347.00H23.5M18.5 344.19H23.5M18.5 341.38H23.5M18.5 338.56H23.5M18.5 335.75H23.5M18.5 332.94H23.5M18.5 330.13H23.5M18.5 327.31H23.5M18.5 324.50H23.5M18.5 321.69H23.5M18.5 318.87H23.5M18.5 316.06H23.5M18.5 313.25H23.5M18.5 310.43H23.5M18.5 307.62H23.5M18.5 304.81H23.5M18.5 301.99H23.5M18.5 299.18H23.5M18.5 296.37H23.5M18.5 293.56H23.5M18.5 290.74H23.5M18.5 287.93H23.5M18.5 285.12H23.5M18.5 282.30H23.5M18.5 279.49H23.5M18.5 276.68H23.5M18.5 273.86H23.5M18.5 271.05H23.5M18.5 268.24H23.5M18.5 265.42H23.5M18.5 262.61H23.5M18.5 259.80H23.5M18.5 256.98H23.5M18.5 254.17H23.5M18.5 251.36H23.5" class="t"/>
<path d="M30.3 472.3V476.8M61.4 472.3V476.8M92.5 472.3V476.8M123.6 472.3V476.8M154.7 472.3V476.8M185.8 472.3V476.8" class="t"/>
<clipPath id="cA2"><rect x="23.5" y="241.4" width="169.0" height="230.9"/></clipPath><g clip-path="url(#cA2)">
<path class="w" d="M82 462.34H90M95.5 462.34H101.5M87.7 459.53H93M112.4 459.53H134.4M86 456.72H92.7M103.5 456.72H110.5M87.5 453.9H91.8M105.2 453.9H111.5M83.8 451.09H90.9M101 451.09H106.8M85.1 448.28H91.4M101.6 448.28H110.5M84.8 445.46H92M101.5 445.46H107.4M87.7 442.65H92.9M103.8 442.65H114M87.2 439.84H93.4M103.8 439.84H110.5M84.9 437.02H92.1M104.1 437.02H111.9M89.7 434.21H95M105.3 434.21H115.3M86.6 431.4H93.1M103.7 431.4H111.3M88.4 428.58H94.2M106.2 428.58H115.3M89.8 425.77H95.1M106.8 425.77H114.8M86.8 422.96H93.5M104.1 422.96H113.6M86.4 420.14H93.3M104.9 420.14H112.1M91.1 417.33H97.5M110.1 417.33H120.8M88.9 414.52H94.5M106.3 414.52H114.8M90.3 411.71H96.2M110.9 411.71H122.2M88.5 408.89H94.7M112.5 408.89H120.3M90.4 406.08H97.8M114 406.08H123.1M90.3 403.27H96.7M109.5 403.27H116.1M91.7 400.45H96.9M111.4 400.45H118.5M89.3 397.64H97.1M111.4 397.64H118.6M91.5 394.83H95.9M113.7 394.83H120.5M90.3 392.01H98M115.9 392.01H122.9M91.4 389.2H96.6M105.8 389.2H114.2M92.6 386.39H99.5M114.4 386.39H125.4M90.9 383.57H97M115.6 383.57H122.4M89.8 380.76H95.8M115.8 380.76H127.6M88.9 377.95H96.6M121.3 377.95H144.3M94.7 375.14H99.7M111.2 375.14H123M90.8 372.32H99.2M118.3 372.32H128.5M92.3 369.51H100.7M117.9 369.51H125.1M91.7 366.7H97.8M114.6 366.7H123.8M88.8 363.88H97.4M106.6 363.88H115.9M89.5 361.07H96.6M135.6 361.07H167.6M91.9 358.26H99.4M114.3 358.26H127M93.9 355.44H99.7M116.4 355.44H126.3M95.2 352.63H100.1M119.1 352.63H132.2M88.3 349.82H96.6M115.9 349.82H124.5M91.1 347H99.7M113.6 347H122.3M95.4 344.19H101.5M119.8 344.19H129.1M93.9 341.38H100.4M120.7 341.38H131.3M93.1 338.56H102M117.9 338.56H127.4M88.1 335.75H97M126.3 335.75H149.3M92.7 332.94H100.7M119.7 332.94H128M95.6 330.13H103.3M121.4 330.13H131.6M97 327.31H102.4M119.5 327.31H128.6M92.8 324.5H100M124 324.5H137M93.7 321.69H102.6M121.2 321.69H129.3M98 318.87H106.5M126.3 318.87H137.3M94.2 316.06H101.1M119.4 316.06H132.2M95.3 313.25H103M121.7 313.25H134M96.8 310.43H103.9M122.7 310.43H134M97.7 307.62H103M124 307.62H135.7M98.4 304.81H103.7M124.6 304.81H132.8M97.3 301.99H104.7M128.6 301.99H137M94 299.18H103M130 299.18H138.6M93 296.37H100.3M120.9 296.37H128.9M97.9 293.56H103.8M124 293.56H135M97.9 290.74H103.3M121.1 290.74H129.7M94.1 287.93H101.3M119.7 287.93H130.3M101.8 285.12H110M132.4 285.12H142.7M95.8 282.3H102.3M123.1 282.3H132.9M99.7 279.49H105.1M124.3 279.49H135.8M95.7 276.68H101.2M125.5 276.68H135.7M98.1 273.86H106M125.7 273.86H137.5M90.8 271.05H100M126.2 271.05H137.4M101.1 268.24H106.8M130.2 268.24H139.5M95.9 265.42H105.5M127.8 265.42H142.2M100.3 262.61H108M126.2 262.61H140.3M101.2 259.8H109.2M129.8 259.8H141.7M102.3 256.98H110.7M130.3 256.98H144.8M109.1 254.17H117M132.4 254.17H145.6M118.5 251.36H124.7M146.3 251.36H163.3"/>
<path class="st" d="M82 461.71v1.26M101.5 461.71v1.26M87.7 458.9v1.26M134.4 458.9v1.26M86 456.09v1.26M110.5 456.09v1.26M87.5 453.27v1.26M111.5 453.27v1.26M83.8 450.46v1.26M106.8 450.46v1.26M85.1 447.65v1.26M110.5 447.65v1.26M84.8 444.83v1.26M107.4 444.83v1.26M87.7 442.02v1.26M114 442.02v1.26M87.2 439.21v1.26M110.5 439.21v1.26M84.9 436.39v1.26M111.9 436.39v1.26M89.7 433.58v1.26M115.3 433.58v1.26M86.6 430.77v1.26M111.3 430.77v1.26M88.4 427.95v1.26M115.3 427.95v1.26M89.8 425.14v1.26M114.8 425.14v1.26M86.8 422.33v1.26M113.6 422.33v1.26M86.4 419.51v1.26M112.1 419.51v1.26M91.1 416.7v1.26M120.8 416.7v1.26M88.9 413.89v1.26M114.8 413.89v1.26M90.3 411.08v1.26M122.2 411.08v1.26M88.5 408.26v1.26M120.3 408.26v1.26M90.4 405.45v1.26M123.1 405.45v1.26M90.3 402.64v1.26M116.1 402.64v1.26M91.7 399.82v1.26M118.5 399.82v1.26M89.3 397.01v1.26M118.6 397.01v1.26M91.5 394.2v1.26M120.5 394.2v1.26M90.3 391.38v1.26M122.9 391.38v1.26M91.4 388.57v1.26M114.2 388.57v1.26M92.6 385.76v1.26M125.4 385.76v1.26M90.9 382.94v1.26M122.4 382.94v1.26M89.8 380.13v1.26M127.6 380.13v1.26M88.9 377.32v1.26M144.3 377.32v1.26M94.7 374.51v1.26M123 374.51v1.26M90.8 371.69v1.26M128.5 371.69v1.26M92.3 368.88v1.26M125.1 368.88v1.26M91.7 366.07v1.26M123.8 366.07v1.26M88.8 363.25v1.26M115.9 363.25v1.26M89.5 360.44v1.26M167.6 360.44v1.26M91.9 357.63v1.26M127 357.63v1.26M93.9 354.81v1.26M126.3 354.81v1.26M95.2 352v1.26M132.2 352v1.26M88.3 349.19v1.26M124.5 349.19v1.26M91.1 346.37v1.26M122.3 346.37v1.26M95.4 343.56v1.26M129.1 343.56v1.26M93.9 340.75v1.26M131.3 340.75v1.26M93.1 337.93v1.26M127.4 337.93v1.26M88.1 335.12v1.26M149.3 335.12v1.26M92.7 332.31v1.26M128 332.31v1.26M95.6 329.5v1.26M131.6 329.5v1.26M97 326.68v1.26M128.6 326.68v1.26M92.8 323.87v1.26M137 323.87v1.26M93.7 321.06v1.26M129.3 321.06v1.26M98 318.24v1.26M137.3 318.24v1.26M94.2 315.43v1.26M132.2 315.43v1.26M95.3 312.62v1.26M134 312.62v1.26M96.8 309.8v1.26M134 309.8v1.26M97.7 306.99v1.26M135.7 306.99v1.26M98.4 304.18v1.26M132.8 304.18v1.26M97.3 301.36v1.26M137 301.36v1.26M94 298.55v1.26M138.6 298.55v1.26M93 295.74v1.26M128.9 295.74v1.26M97.9 292.93v1.26M135 292.93v1.26M97.9 290.11v1.26M129.7 290.11v1.26M94.1 287.3v1.26M130.3 287.3v1.26M101.8 284.49v1.26M142.7 284.49v1.26M95.8 281.67v1.26M132.9 281.67v1.26M99.7 278.86v1.26M135.8 278.86v1.26M95.7 276.05v1.26M135.7 276.05v1.26M98.1 273.23v1.26M137.5 273.23v1.26M90.8 270.42v1.26M137.4 270.42v1.26M101.1 267.61v1.26M139.5 267.61v1.26M95.9 264.79v1.26M142.2 264.79v1.26M100.3 261.98v1.26M140.3 261.98v1.26M101.2 259.17v1.26M141.7 259.17v1.26M102.3 256.35v1.26M144.8 256.35v1.26M109.1 253.54v1.26M145.6 253.54v1.26M118.5 250.73v1.26M163.3 250.73v1.26"/>
<path class="o" d="M103.5 462.34a.75 .75 0 1 0 1.5 0a.75 .75 0 1 0-1.5 0M105.6 462.34a.75 .75 0 1 0 1.5 0a.75 .75 0 1 0-1.5 0M78.2 462.34a.75 .75 0 1 0 1.5 0a.75 .75 0 1 0-1.5 0M136.1 459.53a.75 .75 0 1 0 1.5 0a.75 .75 0 1 0-1.5 0M85.2 459.53a.75 .75 0 1 0 1.5 0a.75 .75 0 1 0-1.5 0M82 459.53a.75 .75 0 1 0 1.5 0a.75 .75 0 1 0-1.5 0M112.2 456.72a.75 .75 0 1 0 1.5 0a.75 .75 0 1 0-1.5 0M115.3 456.72a.75 .75 0 1 0 1.5 0a.75 .75 0 1 0-1.5 0M82.7 456.72a.75 .75 0 1 0 1.5 0a.75 .75 0 1 0-1.5 0M113.9 453.9a.75 .75 0 1 0 1.5 0a.75 .75 0 1 0-1.5 0M117.1 453.9a.75 .75 0 1 0 1.5 0a.75 .75 0 1 0-1.5 0M119.6 453.9a.75 .75 0 1 0 1.5 0a.75 .75 0 1 0-1.5 0M122.9 453.9a.75 .75 0 1 0 1.5 0a.75 .75 0 1 0-1.5 0M84 453.9a.75 .75 0 1 0 1.5 0a.75 .75 0 1 0-1.5 0M109.1 451.09a.75 .75 0 1 0 1.5 0a.75 .75 0 1 0-1.5 0M111.4 451.09a.75 .75 0 1 0 1.5 0a.75 .75 0 1 0-1.5 0M114.1 451.09a.75 .75 0 1 0 1.5 0a.75 .75 0 1 0-1.5 0M111.7 448.28a.75 .75 0 1 0 1.5 0a.75 .75 0 1 0-1.5 0M81.8 448.28a.75 .75 0 1 0 1.5 0a.75 .75 0 1 0-1.5 0M108.5 445.46a.75 .75 0 1 0 1.5 0a.75 .75 0 1 0-1.5 0M111.4 445.46a.75 .75 0 1 0 1.5 0a.75 .75 0 1 0-1.5 0M116.8 442.65a.75 .75 0 1 0 1.5 0a.75 .75 0 1 0-1.5 0M119.1 442.65a.75 .75 0 1 0 1.5 0a.75 .75 0 1 0-1.5 0M121 442.65a.75 .75 0 1 0 1.5 0a.75 .75 0 1 0-1.5 0M112.1 439.84a.75 .75 0 1 0 1.5 0a.75 .75 0 1 0-1.5 0M84.4 439.84a.75 .75 0 1 0 1.5 0a.75 .75 0 1 0-1.5 0M113.2 437.02a.75 .75 0 1 0 1.5 0a.75 .75 0 1 0-1.5 0M116.6 437.02a.75 .75 0 1 0 1.5 0a.75 .75 0 1 0-1.5 0M119.8 437.02a.75 .75 0 1 0 1.5 0a.75 .75 0 1 0-1.5 0M122.1 437.02a.75 .75 0 1 0 1.5 0a.75 .75 0 1 0-1.5 0M81.3 437.02a.75 .75 0 1 0 1.5 0a.75 .75 0 1 0-1.5 0M78.3 437.02a.75 .75 0 1 0 1.5 0a.75 .75 0 1 0-1.5 0M117 434.21a.75 .75 0 1 0 1.5 0a.75 .75 0 1 0-1.5 0M113.6 431.4a.75 .75 0 1 0 1.5 0a.75 .75 0 1 0-1.5 0M82.8 431.4a.75 .75 0 1 0 1.5 0a.75 .75 0 1 0-1.5 0M81 431.4a.75 .75 0 1 0 1.5 0a.75 .75 0 1 0-1.5 0M116.8 428.58a.75 .75 0 1 0 1.5 0a.75 .75 0 1 0-1.5 0M86.1 425.77a.75 .75 0 1 0 1.5 0a.75 .75 0 1 0-1.5 0M84.1 425.77a.75 .75 0 1 0 1.5 0a.75 .75 0 1 0-1.5 0M116.2 422.96a.75 .75 0 1 0 1.5 0a.75 .75 0 1 0-1.5 0M119.2 422.96a.75 .75 0 1 0 1.5 0a.75 .75 0 1 0-1.5 0M121.4 422.96a.75 .75 0 1 0 1.5 0a.75 .75 0 1 0-1.5 0M82.9 422.96a.75 .75 0 1 0 1.5 0a.75 .75 0 1 0-1.5 0M114.5 420.14a.75 .75 0 1 0 1.5 0a.75 .75 0 1 0-1.5 0M123.2 417.33a.75 .75 0 1 0 1.5 0a.75 .75 0 1 0-1.5 0M125.6 417.33a.75 .75 0 1 0 1.5 0a.75 .75 0 1 0-1.5 0M127.6 417.33a.75 .75 0 1 0 1.5 0a.75 .75 0 1 0-1.5 0M129.9 417.33a.75 .75 0 1 0 1.5 0a.75 .75 0 1 0-1.5 0M117.4 414.52a.75 .75 0 1 0 1.5 0a.75 .75 0 1 0-1.5 0M119.5 414.52a.75 .75 0 1 0 1.5 0a.75 .75 0 1 0-1.5 0M124.5 411.71a.75 .75 0 1 0 1.5 0a.75 .75 0 1 0-1.5 0M122.8 408.89a.75 .75 0 1 0 1.5 0a.75 .75 0 1 0-1.5 0M124.2 406.08a.75 .75 0 1 0 1.5 0a.75 .75 0 1 0-1.5 0M126.9 406.08a.75 .75 0 1 0 1.5 0a.75 .75 0 1 0-1.5 0M87.7 406.08a.75 .75 0 1 0 1.5 0a.75 .75 0 1 0-1.5 0M85 406.08a.75 .75 0 1 0 1.5 0a.75 .75 0 1 0-1.5 0M87.5 403.27a.75 .75 0 1 0 1.5 0a.75 .75 0 1 0-1.5 0M121.1 397.64a.75 .75 0 1 0 1.5 0a.75 .75 0 1 0-1.5 0M123 397.64a.75 .75 0 1 0 1.5 0a.75 .75 0 1 0-1.5 0M86.3 397.64a.75 .75 0 1 0 1.5 0a.75 .75 0 1 0-1.5 0M84 397.64a.75 .75 0 1 0 1.5 0a.75 .75 0 1 0-1.5 0M124.5 392.01a.75 .75 0 1 0 1.5 0a.75 .75 0 1 0-1.5 0M116.5 389.2a.75 .75 0 1 0 1.5 0a.75 .75 0 1 0-1.5 0M118.9 389.2a.75 .75 0 1 0 1.5 0a.75 .75 0 1 0-1.5 0M120.8 389.2a.75 .75 0 1 0 1.5 0a.75 .75 0 1 0-1.5 0M88.6 386.39a.75 .75 0 1 0 1.5 0a.75 .75 0 1 0-1.5 0M86.7 386.39a.75 .75 0 1 0 1.5 0a.75 .75 0 1 0-1.5 0M123.5 383.57a.75 .75 0 1 0 1.5 0a.75 .75 0 1 0-1.5 0M87.6 383.57a.75 .75 0 1 0 1.5 0a.75 .75 0 1 0-1.5 0M85.1 383.57a.75 .75 0 1 0 1.5 0a.75 .75 0 1 0-1.5 0M129.4 380.76a.75 .75 0 1 0 1.5 0a.75 .75 0 1 0-1.5 0M145.5 377.95a.75 .75 0 1 0 1.5 0a.75 .75 0 1 0-1.5 0M148.3 377.95a.75 .75 0 1 0 1.5 0a.75 .75 0 1 0-1.5 0M150.1 377.95a.75 .75 0 1 0 1.5 0a.75 .75 0 1 0-1.5 0M86.1 377.95a.75 .75 0 1 0 1.5 0a.75 .75 0 1 0-1.5 0M83 377.95a.75 .75 0 1 0 1.5 0a.75 .75 0 1 0-1.5 0M90.7 375.14a.75 .75 0 1 0 1.5 0a.75 .75 0 1 0-1.5 0M87.4 372.32a.75 .75 0 1 0 1.5 0a.75 .75 0 1 0-1.5 0M84.4 372.32a.75 .75 0 1 0 1.5 0a.75 .75 0 1 0-1.5 0M127.5 369.51a.75 .75 0 1 0 1.5 0a.75 .75 0 1 0-1.5 0M129.7 369.51a.75 .75 0 1 0 1.5 0a.75 .75 0 1 0-1.5 0M131.9 369.51a.75 .75 0 1 0 1.5 0a.75 .75 0 1 0-1.5 0M125.5 366.7a.75 .75 0 1 0 1.5 0a.75 .75 0 1 0-1.5 0M127.7 366.7a.75 .75 0 1 0 1.5 0a.75 .75 0 1 0-1.5 0M118.2 363.88a.75 .75 0 1 0 1.5 0a.75 .75 0 1 0-1.5 0M120.2 363.88a.75 .75 0 1 0 1.5 0a.75 .75 0 1 0-1.5 0M122.7 363.88a.75 .75 0 1 0 1.5 0a.75 .75 0 1 0-1.5 0M84.8 363.88a.75 .75 0 1 0 1.5 0a.75 .75 0 1 0-1.5 0M82.7 363.88a.75 .75 0 1 0 1.5 0a.75 .75 0 1 0-1.5 0M169.6 361.07a.75 .75 0 1 0 1.5 0a.75 .75 0 1 0-1.5 0M129.1 358.26a.75 .75 0 1 0 1.5 0a.75 .75 0 1 0-1.5 0M131.9 358.26a.75 .75 0 1 0 1.5 0a.75 .75 0 1 0-1.5 0M135.3 358.26a.75 .75 0 1 0 1.5 0a.75 .75 0 1 0-1.5 0M138.6 358.26a.75 .75 0 1 0 1.5 0a.75 .75 0 1 0-1.5 0M88.8 358.26a.75 .75 0 1 0 1.5 0a.75 .75 0 1 0-1.5 0M128.5 355.44a.75 .75 0 1 0 1.5 0a.75 .75 0 1 0-1.5 0M130.7 355.44a.75 .75 0 1 0 1.5 0a.75 .75 0 1 0-1.5 0M90.4 355.44a.75 .75 0 1 0 1.5 0a.75 .75 0 1 0-1.5 0M134 352.63a.75 .75 0 1 0 1.5 0a.75 .75 0 1 0-1.5 0M136.2 352.63a.75 .75 0 1 0 1.5 0a.75 .75 0 1 0-1.5 0M125.8 349.82a.75 .75 0 1 0 1.5 0a.75 .75 0 1 0-1.5 0M124 347a.75 .75 0 1 0 1.5 0a.75 .75 0 1 0-1.5 0M130.2 344.19a.75 .75 0 1 0 1.5 0a.75 .75 0 1 0-1.5 0M132.6 344.19a.75 .75 0 1 0 1.5 0a.75 .75 0 1 0-1.5 0M135.1 344.19a.75 .75 0 1 0 1.5 0a.75 .75 0 1 0-1.5 0M137.7 344.19a.75 .75 0 1 0 1.5 0a.75 .75 0 1 0-1.5 0M92.5 344.19a.75 .75 0 1 0 1.5 0a.75 .75 0 1 0-1.5 0M133.5 341.38a.75 .75 0 1 0 1.5 0a.75 .75 0 1 0-1.5 0M129.6 338.56a.75 .75 0 1 0 1.5 0a.75 .75 0 1 0-1.5 0M132.5 338.56a.75 .75 0 1 0 1.5 0a.75 .75 0 1 0-1.5 0M89 338.56a.75 .75 0 1 0 1.5 0a.75 .75 0 1 0-1.5 0M151.5 335.75a.75 .75 0 1 0 1.5 0a.75 .75 0 1 0-1.5 0M154.1 335.75a.75 .75 0 1 0 1.5 0a.75 .75 0 1 0-1.5 0M156 335.75a.75 .75 0 1 0 1.5 0a.75 .75 0 1 0-1.5 0M129.2 332.94a.75 .75 0 1 0 1.5 0a.75 .75 0 1 0-1.5 0M132.6 332.94a.75 .75 0 1 0 1.5 0a.75 .75 0 1 0-1.5 0M134.7 332.94a.75 .75 0 1 0 1.5 0a.75 .75 0 1 0-1.5 0M137 332.94a.75 .75 0 1 0 1.5 0a.75 .75 0 1 0-1.5 0M88.9 332.94a.75 .75 0 1 0 1.5 0a.75 .75 0 1 0-1.5 0M132.9 330.13a.75 .75 0 1 0 1.5 0a.75 .75 0 1 0-1.5 0M130.5 327.31a.75 .75 0 1 0 1.5 0a.75 .75 0 1 0-1.5 0M139.4 324.5a.75 .75 0 1 0 1.5 0a.75 .75 0 1 0-1.5 0M141.3 324.5a.75 .75 0 1 0 1.5 0a.75 .75 0 1 0-1.5 0M89.4 324.5a.75 .75 0 1 0 1.5 0a.75 .75 0 1 0-1.5 0M85.9 324.5a.75 .75 0 1 0 1.5 0a.75 .75 0 1 0-1.5 0M131.5 321.69a.75 .75 0 1 0 1.5 0a.75 .75 0 1 0-1.5 0M134 321.69a.75 .75 0 1 0 1.5 0a.75 .75 0 1 0-1.5 0M137.5 321.69a.75 .75 0 1 0 1.5 0a.75 .75 0 1 0-1.5 0M90.9 321.69a.75 .75 0 1 0 1.5 0a.75 .75 0 1 0-1.5 0M139.8 318.87a.75 .75 0 1 0 1.5 0a.75 .75 0 1 0-1.5 0M134.3 316.06a.75 .75 0 1 0 1.5 0a.75 .75 0 1 0-1.5 0M137.8 316.06a.75 .75 0 1 0 1.5 0a.75 .75 0 1 0-1.5 0M140.7 316.06a.75 .75 0 1 0 1.5 0a.75 .75 0 1 0-1.5 0M91.2 316.06a.75 .75 0 1 0 1.5 0a.75 .75 0 1 0-1.5 0M135.9 313.25a.75 .75 0 1 0 1.5 0a.75 .75 0 1 0-1.5 0M138.5 313.25a.75 .75 0 1 0 1.5 0a.75 .75 0 1 0-1.5 0M141.1 313.25a.75 .75 0 1 0 1.5 0a.75 .75 0 1 0-1.5 0M143.3 313.25a.75 .75 0 1 0 1.5 0a.75 .75 0 1 0-1.5 0M135.9 310.43a.75 .75 0 1 0 1.5 0a.75 .75 0 1 0-1.5 0M136.8 307.62a.75 .75 0 1 0 1.5 0a.75 .75 0 1 0-1.5 0M139.2 307.62a.75 .75 0 1 0 1.5 0a.75 .75 0 1 0-1.5 0M94.6 307.62a.75 .75 0 1 0 1.5 0a.75 .75 0 1 0-1.5 0M92.2 307.62a.75 .75 0 1 0 1.5 0a.75 .75 0 1 0-1.5 0M135.3 304.81a.75 .75 0 1 0 1.5 0a.75 .75 0 1 0-1.5 0M90.6 299.18a.75 .75 0 1 0 1.5 0a.75 .75 0 1 0-1.5 0M130.9 296.37a.75 .75 0 1 0 1.5 0a.75 .75 0 1 0-1.5 0M89.5 296.37a.75 .75 0 1 0 1.5 0a.75 .75 0 1 0-1.5 0M136.3 293.56a.75 .75 0 1 0 1.5 0a.75 .75 0 1 0-1.5 0M130.8 290.74a.75 .75 0 1 0 1.5 0a.75 .75 0 1 0-1.5 0M132.7 290.74a.75 .75 0 1 0 1.5 0a.75 .75 0 1 0-1.5 0M131.5 287.93a.75 .75 0 1 0 1.5 0a.75 .75 0 1 0-1.5 0M98.8 285.12a.75 .75 0 1 0 1.5 0a.75 .75 0 1 0-1.5 0M134.5 282.3a.75 .75 0 1 0 1.5 0a.75 .75 0 1 0-1.5 0M136.4 282.3a.75 .75 0 1 0 1.5 0a.75 .75 0 1 0-1.5 0M139 282.3a.75 .75 0 1 0 1.5 0a.75 .75 0 1 0-1.5 0M140.9 282.3a.75 .75 0 1 0 1.5 0a.75 .75 0 1 0-1.5 0M92.2 282.3a.75 .75 0 1 0 1.5 0a.75 .75 0 1 0-1.5 0M138.4 279.49a.75 .75 0 1 0 1.5 0a.75 .75 0 1 0-1.5 0M96.8 279.49a.75 .75 0 1 0 1.5 0a.75 .75 0 1 0-1.5 0M93.3 279.49a.75 .75 0 1 0 1.5 0a.75 .75 0 1 0-1.5 0M138.4 276.68a.75 .75 0 1 0 1.5 0a.75 .75 0 1 0-1.5 0M140.5 276.68a.75 .75 0 1 0 1.5 0a.75 .75 0 1 0-1.5 0M140 273.86a.75 .75 0 1 0 1.5 0a.75 .75 0 1 0-1.5 0M143.3 273.86a.75 .75 0 1 0 1.5 0a.75 .75 0 1 0-1.5 0M139 271.05a.75 .75 0 1 0 1.5 0a.75 .75 0 1 0-1.5 0M142.2 271.05a.75 .75 0 1 0 1.5 0a.75 .75 0 1 0-1.5 0M144.9 271.05a.75 .75 0 1 0 1.5 0a.75 .75 0 1 0-1.5 0M148 271.05a.75 .75 0 1 0 1.5 0a.75 .75 0 1 0-1.5 0M86.7 271.05a.75 .75 0 1 0 1.5 0a.75 .75 0 1 0-1.5 0M141.9 268.24a.75 .75 0 1 0 1.5 0a.75 .75 0 1 0-1.5 0M144.8 268.24a.75 .75 0 1 0 1.5 0a.75 .75 0 1 0-1.5 0M144.9 265.42a.75 .75 0 1 0 1.5 0a.75 .75 0 1 0-1.5 0M146.7 265.42a.75 .75 0 1 0 1.5 0a.75 .75 0 1 0-1.5 0M148.9 265.42a.75 .75 0 1 0 1.5 0a.75 .75 0 1 0-1.5 0M152 265.42a.75 .75 0 1 0 1.5 0a.75 .75 0 1 0-1.5 0M91.8 265.42a.75 .75 0 1 0 1.5 0a.75 .75 0 1 0-1.5 0M143 262.61a.75 .75 0 1 0 1.5 0a.75 .75 0 1 0-1.5 0M146.4 262.61a.75 .75 0 1 0 1.5 0a.75 .75 0 1 0-1.5 0M148.4 262.61a.75 .75 0 1 0 1.5 0a.75 .75 0 1 0-1.5 0M151.9 262.61a.75 .75 0 1 0 1.5 0a.75 .75 0 1 0-1.5 0M144.1 259.8a.75 .75 0 1 0 1.5 0a.75 .75 0 1 0-1.5 0M97.9 259.8a.75 .75 0 1 0 1.5 0a.75 .75 0 1 0-1.5 0M95 259.8a.75 .75 0 1 0 1.5 0a.75 .75 0 1 0-1.5 0M146 256.98a.75 .75 0 1 0 1.5 0a.75 .75 0 1 0-1.5 0M147.7 254.17a.75 .75 0 1 0 1.5 0a.75 .75 0 1 0-1.5 0M150.9 254.17a.75 .75 0 1 0 1.5 0a.75 .75 0 1 0-1.5 0M106 254.17a.75 .75 0 1 0 1.5 0a.75 .75 0 1 0-1.5 0M102.6 254.17a.75 .75 0 1 0 1.5 0a.75 .75 0 1 0-1.5 0M164.9 251.36a.75 .75 0 1 0 1.5 0a.75 .75 0 1 0-1.5 0M167.1 251.36a.75 .75 0 1 0 1.5 0a.75 .75 0 1 0-1.5 0M170.1 251.36a.75 .75 0 1 0 1.5 0a.75 .75 0 1 0-1.5 0M173.5 251.36a.75 .75 0 1 0 1.5 0a.75 .75 0 1 0-1.5 0"/>
<path class="b" fill="#90ee90" d="M90 461.29h5.5v2.1h-5.5zM93 458.48h19.4v2.1h-19.4zM92.7 455.67h10.8v2.1h-10.8zM91.8 452.85h13.4v2.1h-13.4zM90.9 450.04h10v2.1h-10zM91.4 447.23h10.2v2.1h-10.2zM92 444.41h9.5v2.1h-9.5zM92.9 441.6h10.9v2.1h-10.9zM93.4 438.79h10.4v2.1h-10.4zM92.1 435.97h12v2.1h-12zM94.2 427.53h12v2.1h-12zM95.1 424.72h11.7v2.1h-11.7zM93.5 421.91h10.6v2.1h-10.6zM93.3 419.09h11.5v2.1h-11.5zM97.5 416.28h12.6v2.1h-12.6zM96.2 410.66h14.6v2.1h-14.6zM94.7 407.84h17.7v2.1h-17.7zM96.7 402.22h12.8v2.1h-12.8zM96.9 399.4h14.5v2.1h-14.5zM97.1 396.59h14.3v2.1h-14.3zM95.9 393.78h17.8v2.1h-17.8zM98 390.96h17.9v2.1h-17.9zM99.5 385.34h14.9v2.1h-14.9zM97 382.52h18.6v2.1h-18.6zM96.6 376.9h24.7v2.1h-24.7zM99.2 371.27h19.1v2.1h-19.1zM100.7 368.46h17.2v2.1h-17.2zM97.8 365.65h16.8v2.1h-16.8zM96.6 360.02h39v2.1h-39zM99.4 357.21h14.9v2.1h-14.9zM99.7 354.39h16.7v2.1h-16.7zM100.1 351.58h19v2.1h-19zM96.6 348.77h19.3v2.1h-19.3zM100.4 340.33h20.3v2.1h-20.3zM102 337.51h15.9v2.1h-15.9zM100.7 331.89h19v2.1h-19zM102.4 326.26h17.1v2.1h-17.1zM100 323.45h24v2.1h-24zM106.5 317.82h19.8v2.1h-19.8zM101.1 315.01h18.3v2.1h-18.3zM103 312.2h18.6v2.1h-18.6zM103 306.57h21v2.1h-21zM104.7 300.94h23.9v2.1h-23.9zM103 298.13h27v2.1h-27zM100.3 295.32h20.5v2.1h-20.5zM103.8 292.51h20.2v2.1h-20.2zM103.3 289.69h17.7v2.1h-17.7zM101.3 286.88h18.4v2.1h-18.4zM102.3 281.25h20.9v2.1h-20.9zM105.1 278.44h19.2v2.1h-19.2zM101.2 275.63h24.3v2.1h-24.3zM106 272.81h19.6v2.1h-19.6zM106.8 267.19h23.4v2.1h-23.4zM105.5 264.37h22.3v2.1h-22.3zM108 261.56h18.2v2.1h-18.2zM109.2 258.75h20.6v2.1h-20.6zM110.7 255.93h19.6v2.1h-19.6zM117 253.12h15.4v2.1h-15.4zM124.7 250.31h21.6v2.1h-21.6z"/>
<path class="b" fill="#0000ff" d="M95 433.16h10.3v2.1h-10.3zM93.1 430.35h10.6v2.1h-10.6zM94.5 413.47h11.9v2.1h-11.9zM97.8 405.03h16.2v2.1h-16.2zM96.6 388.15h9.2v2.1h-9.2zM95.8 379.71h20v2.1h-20zM99.7 374.09h11.5v2.1h-11.5zM97.4 362.83h9.2v2.1h-9.2zM99.7 345.95h13.9v2.1h-13.9zM101.5 343.14h18.3v2.1h-18.3zM97 334.7h29.3v2.1h-29.3zM103.3 329.08h18.1v2.1h-18.1zM102.6 320.64h18.5v2.1h-18.5zM103.9 309.38h18.8v2.1h-18.8zM103.7 303.76h20.9v2.1h-20.9zM110 284.07h22.4v2.1h-22.4zM100 270h26.2v2.1h-26.2z"/>
<path class="m" d="M93 460.94v2.81M95 458.12v2.81M96.6 455.31v2.81M97.9 452.5v2.81M95.3 449.68v2.81M96.6 446.87v2.81M96.6 444.06v2.81M96.7 441.24v2.81M97.7 438.43v2.81M98 435.62v2.81M99.4 432.8v2.81M98.3 429.99v2.81M100.4 427.18v2.81M99.8 424.36v2.81M97.9 421.55v2.81M99.5 418.74v2.81M102 415.93v2.81M100.2 413.11v2.81M102.2 410.3v2.81M100.6 407.49v2.81M100.5 404.67v2.81M101 401.86v2.81M102.7 399.05v2.81M101.5 396.23v2.81M100.9 393.42v2.81M101.9 390.61v2.81M102.5 387.79v2.81M103.7 384.98v2.81M101.6 382.17v2.81M101.7 379.35v2.81M103 376.54v2.81M103.2 373.73v2.81M104.7 370.92v2.81M104.7 368.1v2.81M103.4 365.29v2.81M103.5 362.48v2.81M103.8 359.66v2.81M104 356.85v2.81M103.9 354.04v2.81M106.1 351.22v2.81M104 348.41v2.81M104.5 345.6v2.81M105.5 342.78v2.81M105.6 339.97v2.81M108 337.16v2.81M106 334.35v2.81M106.3 331.53v2.81M108.5 328.72v2.81M107.6 325.91v2.81M107 323.09v2.81M108.1 320.28v2.81M107.5 317.47v2.81M106.9 314.65v2.81M108.9 311.84v2.81M108.9 309.03v2.81M109.5 306.21v2.81M110 303.4v2.81M111 300.59v2.81M111 297.77v2.81M110.2 294.96v2.81M111.5 292.15v2.81M111.9 289.34v2.81M111.2 286.52v2.81M112.5 283.71v2.81M113.2 280.9v2.81M112.3 278.08v2.81M112.1 275.27v2.81M114.6 272.46v2.81M114.7 269.64v2.81M116.7 266.83v2.81M116.1 264.02v2.81M116.3 261.2v2.81M116.9 258.39v2.81M117.6 255.58v2.81M118 252.76v2.81M136.3 249.95v2.81"/>
</g>
<line x1="103.9" y1="241.4" x2="103.9" y2="472.3" class="r"/>
<rect x="23.5" y="241.4" width="169.0" height="230.9" class="f"/>
<text x="186.5" y="451.6" class="lb" text-anchor="end">Gut</text>
<text x="186.8" y="466.6" class="lb" text-anchor="end">p = 0.894</text>
<line x1="217.2" y1="304.0" x2="385.0" y2="304.0" class="d"/>
<line x1="217.2" y1="409.8" x2="385.0" y2="409.8" class="d"/>
<path d="M212.2 462.34H217.2M212.2 459.53H217.2M212.2 456.72H217.2M212.2 453.90H217.2M212.2 451.09H217.2M212.2 448.28H217.2M212.2 445.46H217.2M212.2 442.65H217.2M212.2 439.84H217.2M212.2 437.02H217.2M212.2 434.21H217.2M212.2 431.40H217.2M212.2 428.58H217.2M212.2 425.77H217.2M212.2 422.96H217.2M212.2 420.14H217.2M212.2 417.33H217.2M212.2 414.52H217.2M212.2 411.71H217.2M212.2 408.89H217.2M212.2 406.08H217.2M212.2 403.27H217.2M212.2 400.45H217.2M212.2 397.64H217.2M212.2 394.83H217.2M212.2 392.01H217.2M212.2 389.20H217.2M212.2 386.39H217.2M212.2 383.57H217.2M212.2 380.76H217.2M212.2 377.95H217.2M212.2 375.14H217.2M212.2 372.32H217.2M212.2 369.51H217.2M212.2 366.70H217.2M212.2 363.88H217.2M212.2 361.07H217.2M212.2 358.26H217.2M212.2 355.44H217.2M212.2 352.63H217.2M212.2 349.82H217.2M212.2 347.00H217.2M212.2 344.19H217.2M212.2 341.38H217.2M212.2 338.56H217.2M212.2 335.75H217.2M212.2 332.94H217.2M212.2 330.13H217.2M212.2 327.31H217.2M212.2 324.50H217.2M212.2 321.69H217.2M212.2 318.87H217.2M212.2 316.06H217.2M212.2 313.25H217.2M212.2 310.43H217.2M212.2 307.62H217.2M212.2 304.81H217.2M212.2 301.99H217.2M212.2 299.18H217.2M212.2 296.37H217.2M212.2 293.56H217.2M212.2 290.74H217.2M212.2 287.93H217.2M212.2 285.12H217.2M212.2 282.30H217.2M212.2 279.49H217.2M212.2 276.68H217.2M212.2 273.86H217.2M212.2 271.05H217.2M212.2 268.24H217.2M212.2 265.42H217.2M212.2 262.61H217.2M212.2 259.80H217.2M212.2 256.98H217.2M212.2 254.17H217.2M212.2 251.36H217.2" class="t"/>
<path d="M223.0 472.3V476.8M254.1 472.3V476.8M285.2 472.3V476.8M316.3 472.3V476.8M347.4 472.3V476.8M378.5 472.3V476.8" class="t"/>
<clipPath id="cB2"><rect x="217.2" y="241.4" width="167.8" height="230.9"/></clipPath><g clip-path="url(#cB2)">
<path class="w" d="M227.2 462.34H231.9M253 462.34H269.6M229.2 459.53H236.7M273.8 459.53H294.9M229 456.72H237M264.8 456.72H278.1M231.9 453.9H240.1M263.3 453.9H281.7M234.2 451.09H241.4M260.3 451.09H275.7M235.8 448.28H243.5M266 448.28H281.8M230.2 445.46H238.8M263 445.46H278.6M238 442.65H243.4M266.3 442.65H285.7M235.6 439.84H243.7M264.1 439.84H280.5M236.7 437.02H241.9M264.9 437.02H278M233.4 434.21H239.2M268.8 434.21H283.5M236.4 431.4H242.3M265.7 431.4H278.7M237.1 428.58H246.4M270.7 428.58H290.3M236.5 425.77H243.1M272 425.77H289.1M236.6 422.96H243.1M272.1 422.96H294M237.5 420.14H246.2M270.6 420.14H287.4M234.6 417.33H243.6M272.9 417.33H295.5M237.7 414.52H245.7M271.3 414.52H286.8M243.1 411.71H248.9M273.7 411.71H296.8M236.3 408.89H242.2M271.3 408.89H294M235.8 406.08H243.6M275.1 406.08H289.2M236.5 403.27H244.7M271.3 403.27H294M239.7 400.45H249.6M272.8 400.45H289.5M247.8 397.64H257.8M300 397.64H321.5M243.7 394.83H250.4M278.3 394.83H301.1M242.5 392.01H249.2M275.7 392.01H298.3M236.6 389.2H246.4M278.7 389.2H302.3M237.7 386.39H248.3M277.2 386.39H297.9M237 383.57H245.2M275.3 383.57H288.3M240.7 380.76H251.9M275.6 380.76H299.5M238.3 377.95H245.2M275 377.95H288.5M237.5 375.14H245.1M275.5 375.14H298.3M241 372.32H248.1M278.5 372.32H300.9M236.2 369.51H244.6M276.1 369.51H296.8M242.8 366.7H250M302 366.7H316.8M241.6 363.88H253.1M278 363.88H297M241.3 361.07H249.5M284.1 361.07H304.5M238.5 358.26H249.7M280.6 358.26H303.8M238.5 355.44H245.3M277.9 355.44H296.9M242.3 352.63H254M283.8 352.63H306.3M248.7 349.82H255.6M284.7 349.82H303.3M239.8 347H249M282.1 347H302.1M248 344.19H256M311 344.19H324.5M238.5 341.38H249.4M283.4 341.38H299.5M249.8 338.56H257.5M288.4 338.56H312.9M245.6 335.75H253.7M289.7 335.75H306.9M239.6 332.94H252.7M286.8 332.94H306.8M245.3 330.13H254.6M291.6 330.13H311.8M244.9 327.31H258.8M291.8 327.31H312.8M246.6 324.5H256.7M290.9 324.5H309.2M247.2 321.69H261.2M291.8 321.69H316M255 318.87H263.3M294.2 318.87H309M264.6 316.06H276M361 316.06H376M245 313.25H259.3M291.9 313.25H308.2M255.4 310.43H265.6M297.1 310.43H319.2M248 307.62H260.8M299.8 307.62H317.4M245.4 304.81H261.6M300.7 304.81H316M260.5 301.99H270.6M303.4 301.99H319.1M252.9 299.18H263M298.2 299.18H322.5M246.1 296.37H261.4M305.1 296.37H319.1M254.1 293.56H266.7M306.8 293.56H321.5M254.2 290.74H264.4M305.7 290.74H328.3M265 287.93H278M324 287.93H341.3M244.8 285.12H262.8M319.6 285.12H340.1M250.5 282.3H267.4M322.9 282.3H345M243.2 279.49H254.7M321.1 279.49H340.1M245.2 276.68H263.1M321 276.68H339.2M255.2 273.86H265.8M323.5 273.86H339.5M260.6 271.05H270.9M330.7 271.05H348.9M256.1 268.24H270M323.7 268.24H340.1M245.8 265.42H262.4M328.6 265.42H353.1M255.3 262.61H269.3M337.4 262.61H354M252 259.8H265M330.6 259.8H346.7M251.1 256.98H266.1M342.4 256.98H360.7M238.3 254.17H254M348 254.17H358M230 251.36H315M372 251.36H383"/>
<path class="st" d="M227.2 461.71v1.26M269.6 461.71v1.26M229.2 458.9v1.26M294.9 458.9v1.26M229 456.09v1.26M278.1 456.09v1.26M231.9 453.27v1.26M281.7 453.27v1.26M234.2 450.46v1.26M275.7 450.46v1.26M235.8 447.65v1.26M281.8 447.65v1.26M230.2 444.83v1.26M278.6 444.83v1.26M238 442.02v1.26M285.7 442.02v1.26M235.6 439.21v1.26M280.5 439.21v1.26M236.7 436.39v1.26M278 436.39v1.26M233.4 433.58v1.26M283.5 433.58v1.26M236.4 430.77v1.26M278.7 430.77v1.26M237.1 427.95v1.26M290.3 427.95v1.26M236.5 425.14v1.26M289.1 425.14v1.26M236.6 422.33v1.26M294 422.33v1.26M237.5 419.51v1.26M287.4 419.51v1.26M234.6 416.7v1.26M295.5 416.7v1.26M237.7 413.89v1.26M286.8 413.89v1.26M243.1 411.08v1.26M296.8 411.08v1.26M236.3 408.26v1.26M294 408.26v1.26M235.8 405.45v1.26M289.2 405.45v1.26M236.5 402.64v1.26M294 402.64v1.26M239.7 399.82v1.26M289.5 399.82v1.26M247.8 397.01v1.26M321.5 397.01v1.26M243.7 394.2v1.26M301.1 394.2v1.26M242.5 391.38v1.26M298.3 391.38v1.26M236.6 388.57v1.26M302.3 388.57v1.26M237.7 385.76v1.26M297.9 385.76v1.26M237 382.94v1.26M288.3 382.94v1.26M240.7 380.13v1.26M299.5 380.13v1.26M238.3 377.32v1.26M288.5 377.32v1.26M237.5 374.51v1.26M298.3 374.51v1.26M241 371.69v1.26M300.9 371.69v1.26M236.2 368.88v1.26M296.8 368.88v1.26M242.8 366.07v1.26M316.8 366.07v1.26M241.6 363.25v1.26M297 363.25v1.26M241.3 360.44v1.26M304.5 360.44v1.26M238.5 357.63v1.26M303.8 357.63v1.26M238.5 354.81v1.26M296.9 354.81v1.26M242.3 352v1.26M306.3 352v1.26M248.7 349.19v1.26M303.3 349.19v1.26M239.8 346.37v1.26M302.1 346.37v1.26M248 343.56v1.26M324.5 343.56v1.26M238.5 340.75v1.26M299.5 340.75v1.26M249.8 337.93v1.26M312.9 337.93v1.26M245.6 335.12v1.26M306.9 335.12v1.26M239.6 332.31v1.26M306.8 332.31v1.26M245.3 329.5v1.26M311.8 329.5v1.26M244.9 326.68v1.26M312.8 326.68v1.26M246.6 323.87v1.26M309.2 323.87v1.26M247.2 321.06v1.26M316 321.06v1.26M255 318.24v1.26M309 318.24v1.26M264.6 315.43v1.26M376 315.43v1.26M245 312.62v1.26M308.2 312.62v1.26M255.4 309.8v1.26M319.2 309.8v1.26M248 306.99v1.26M317.4 306.99v1.26M245.4 304.18v1.26M316 304.18v1.26M260.5 301.36v1.26M319.1 301.36v1.26M252.9 298.55v1.26M322.5 298.55v1.26M246.1 295.74v1.26M319.1 295.74v1.26M254.1 292.93v1.26M321.5 292.93v1.26M254.2 290.11v1.26M328.3 290.11v1.26M265 287.3v1.26M341.3 287.3v1.26M244.8 284.49v1.26M340.1 284.49v1.26M250.5 281.67v1.26M345 281.67v1.26M243.2 278.86v1.26M340.1 278.86v1.26M245.2 276.05v1.26M339.2 276.05v1.26M255.2 273.23v1.26M339.5 273.23v1.26M260.6 270.42v1.26M348.9 270.42v1.26M256.1 267.61v1.26M340.1 267.61v1.26M245.8 264.79v1.26M353.1 264.79v1.26M255.3 261.98v1.26M354 261.98v1.26M252 259.17v1.26M346.7 259.17v1.26M251.1 256.35v1.26M360.7 256.35v1.26M238.3 253.54v1.26M358 253.54v1.26M230 250.73v1.26M383 250.73v1.26"/>
<path class="o" d="M225.3 459.53a.75 .75 0 1 0 1.5 0a.75 .75 0 1 0-1.5 0M222.1 459.53a.75 .75 0 1 0 1.5 0a.75 .75 0 1 0-1.5 0M220 459.53a.75 .75 0 1 0 1.5 0a.75 .75 0 1 0-1.5 0M280 456.72a.75 .75 0 1 0 1.5 0a.75 .75 0 1 0-1.5 0M282.1 456.72a.75 .75 0 1 0 1.5 0a.75 .75 0 1 0-1.5 0M284.7 456.72a.75 .75 0 1 0 1.5 0a.75 .75 0 1 0-1.5 0M286.6 456.72a.75 .75 0 1 0 1.5 0a.75 .75 0 1 0-1.5 0M290 456.72a.75 .75 0 1 0 1.5 0a.75 .75 0 1 0-1.5 0M225 456.72a.75 .75 0 1 0 1.5 0a.75 .75 0 1 0-1.5 0M283.5 453.9a.75 .75 0 1 0 1.5 0a.75 .75 0 1 0-1.5 0M286.3 453.9a.75 .75 0 1 0 1.5 0a.75 .75 0 1 0-1.5 0M288.8 453.9a.75 .75 0 1 0 1.5 0a.75 .75 0 1 0-1.5 0M290.9 453.9a.75 .75 0 1 0 1.5 0a.75 .75 0 1 0-1.5 0M277.3 451.09a.75 .75 0 1 0 1.5 0a.75 .75 0 1 0-1.5 0M280.8 451.09a.75 .75 0 1 0 1.5 0a.75 .75 0 1 0-1.5 0M282.9 451.09a.75 .75 0 1 0 1.5 0a.75 .75 0 1 0-1.5 0M231 451.09a.75 .75 0 1 0 1.5 0a.75 .75 0 1 0-1.5 0M228.8 451.09a.75 .75 0 1 0 1.5 0a.75 .75 0 1 0-1.5 0M225.9 451.09a.75 .75 0 1 0 1.5 0a.75 .75 0 1 0-1.5 0M284.3 448.28a.75 .75 0 1 0 1.5 0a.75 .75 0 1 0-1.5 0M287.3 448.28a.75 .75 0 1 0 1.5 0a.75 .75 0 1 0-1.5 0M279.7 445.46a.75 .75 0 1 0 1.5 0a.75 .75 0 1 0-1.5 0M283.2 445.46a.75 .75 0 1 0 1.5 0a.75 .75 0 1 0-1.5 0M227.2 445.46a.75 .75 0 1 0 1.5 0a.75 .75 0 1 0-1.5 0M224.2 445.46a.75 .75 0 1 0 1.5 0a.75 .75 0 1 0-1.5 0M221.9 445.46a.75 .75 0 1 0 1.5 0a.75 .75 0 1 0-1.5 0M288.1 442.65a.75 .75 0 1 0 1.5 0a.75 .75 0 1 0-1.5 0M290.4 442.65a.75 .75 0 1 0 1.5 0a.75 .75 0 1 0-1.5 0M292.6 442.65a.75 .75 0 1 0 1.5 0a.75 .75 0 1 0-1.5 0M295.1 442.65a.75 .75 0 1 0 1.5 0a.75 .75 0 1 0-1.5 0M235.2 442.65a.75 .75 0 1 0 1.5 0a.75 .75 0 1 0-1.5 0M232.7 442.65a.75 .75 0 1 0 1.5 0a.75 .75 0 1 0-1.5 0M229.3 442.65a.75 .75 0 1 0 1.5 0a.75 .75 0 1 0-1.5 0M231.4 439.84a.75 .75 0 1 0 1.5 0a.75 .75 0 1 0-1.5 0M280 437.02a.75 .75 0 1 0 1.5 0a.75 .75 0 1 0-1.5 0M282.8 437.02a.75 .75 0 1 0 1.5 0a.75 .75 0 1 0-1.5 0M285.6 437.02a.75 .75 0 1 0 1.5 0a.75 .75 0 1 0-1.5 0M287.9 437.02a.75 .75 0 1 0 1.5 0a.75 .75 0 1 0-1.5 0M289.8 437.02a.75 .75 0 1 0 1.5 0a.75 .75 0 1 0-1.5 0M285 434.21a.75 .75 0 1 0 1.5 0a.75 .75 0 1 0-1.5 0M287.5 434.21a.75 .75 0 1 0 1.5 0a.75 .75 0 1 0-1.5 0M290.4 434.21a.75 .75 0 1 0 1.5 0a.75 .75 0 1 0-1.5 0M281 431.4a.75 .75 0 1 0 1.5 0a.75 .75 0 1 0-1.5 0M283.5 431.4a.75 .75 0 1 0 1.5 0a.75 .75 0 1 0-1.5 0M285.8 431.4a.75 .75 0 1 0 1.5 0a.75 .75 0 1 0-1.5 0M288.1 431.4a.75 .75 0 1 0 1.5 0a.75 .75 0 1 0-1.5 0M291.4 428.58a.75 .75 0 1 0 1.5 0a.75 .75 0 1 0-1.5 0M293.9 428.58a.75 .75 0 1 0 1.5 0a.75 .75 0 1 0-1.5 0M296.4 428.58a.75 .75 0 1 0 1.5 0a.75 .75 0 1 0-1.5 0M299.8 428.58a.75 .75 0 1 0 1.5 0a.75 .75 0 1 0-1.5 0M302.5 428.58a.75 .75 0 1 0 1.5 0a.75 .75 0 1 0-1.5 0M233 428.58a.75 .75 0 1 0 1.5 0a.75 .75 0 1 0-1.5 0M230.9 428.58a.75 .75 0 1 0 1.5 0a.75 .75 0 1 0-1.5 0M228.6 428.58a.75 .75 0 1 0 1.5 0a.75 .75 0 1 0-1.5 0M290.7 425.77a.75 .75 0 1 0 1.5 0a.75 .75 0 1 0-1.5 0M293.2 425.77a.75 .75 0 1 0 1.5 0a.75 .75 0 1 0-1.5 0M295.8 425.77a.75 .75 0 1 0 1.5 0a.75 .75 0 1 0-1.5 0M299.1 425.77a.75 .75 0 1 0 1.5 0a.75 .75 0 1 0-1.5 0M301.3 425.77a.75 .75 0 1 0 1.5 0a.75 .75 0 1 0-1.5 0M232.9 425.77a.75 .75 0 1 0 1.5 0a.75 .75 0 1 0-1.5 0M295.8 422.96a.75 .75 0 1 0 1.5 0a.75 .75 0 1 0-1.5 0M298.4 422.96a.75 .75 0 1 0 1.5 0a.75 .75 0 1 0-1.5 0M300.9 422.96a.75 .75 0 1 0 1.5 0a.75 .75 0 1 0-1.5 0M303.4 422.96a.75 .75 0 1 0 1.5 0a.75 .75 0 1 0-1.5 0M306.5 422.96a.75 .75 0 1 0 1.5 0a.75 .75 0 1 0-1.5 0M233.7 422.96a.75 .75 0 1 0 1.5 0a.75 .75 0 1 0-1.5 0M231.6 422.96a.75 .75 0 1 0 1.5 0a.75 .75 0 1 0-1.5 0M228.8 422.96a.75 .75 0 1 0 1.5 0a.75 .75 0 1 0-1.5 0M235.1 414.52a.75 .75 0 1 0 1.5 0a.75 .75 0 1 0-1.5 0M298.5 411.71a.75 .75 0 1 0 1.5 0a.75 .75 0 1 0-1.5 0M239.2 411.71a.75 .75 0 1 0 1.5 0a.75 .75 0 1 0-1.5 0M296.7 408.89a.75 .75 0 1 0 1.5 0a.75 .75 0 1 0-1.5 0M299.2 408.89a.75 .75 0 1 0 1.5 0a.75 .75 0 1 0-1.5 0M232.6 408.89a.75 .75 0 1 0 1.5 0a.75 .75 0 1 0-1.5 0M230 408.89a.75 .75 0 1 0 1.5 0a.75 .75 0 1 0-1.5 0M290.5 406.08a.75 .75 0 1 0 1.5 0a.75 .75 0 1 0-1.5 0M292.6 406.08a.75 .75 0 1 0 1.5 0a.75 .75 0 1 0-1.5 0M233.4 403.27a.75 .75 0 1 0 1.5 0a.75 .75 0 1 0-1.5 0M230.7 403.27a.75 .75 0 1 0 1.5 0a.75 .75 0 1 0-1.5 0M228 403.27a.75 .75 0 1 0 1.5 0a.75 .75 0 1 0-1.5 0M291.7 400.45a.75 .75 0 1 0 1.5 0a.75 .75 0 1 0-1.5 0M294.5 400.45a.75 .75 0 1 0 1.5 0a.75 .75 0 1 0-1.5 0M296.9 400.45a.75 .75 0 1 0 1.5 0a.75 .75 0 1 0-1.5 0M300.2 400.45a.75 .75 0 1 0 1.5 0a.75 .75 0 1 0-1.5 0M302.8 400.45a.75 .75 0 1 0 1.5 0a.75 .75 0 1 0-1.5 0M322.7 397.64a.75 .75 0 1 0 1.5 0a.75 .75 0 1 0-1.5 0M325.9 397.64a.75 .75 0 1 0 1.5 0a.75 .75 0 1 0-1.5 0M328.3 397.64a.75 .75 0 1 0 1.5 0a.75 .75 0 1 0-1.5 0M244.1 397.64a.75 .75 0 1 0 1.5 0a.75 .75 0 1 0-1.5 0M303.3 394.83a.75 .75 0 1 0 1.5 0a.75 .75 0 1 0-1.5 0M306.6 394.83a.75 .75 0 1 0 1.5 0a.75 .75 0 1 0-1.5 0M308.5 394.83a.75 .75 0 1 0 1.5 0a.75 .75 0 1 0-1.5 0M311.4 394.83a.75 .75 0 1 0 1.5 0a.75 .75 0 1 0-1.5 0M239.6 394.83a.75 .75 0 1 0 1.5 0a.75 .75 0 1 0-1.5 0M300.7 392.01a.75 .75 0 1 0 1.5 0a.75 .75 0 1 0-1.5 0M303.9 392.01a.75 .75 0 1 0 1.5 0a.75 .75 0 1 0-1.5 0M307.3 392.01a.75 .75 0 1 0 1.5 0a.75 .75 0 1 0-1.5 0M309.3 392.01a.75 .75 0 1 0 1.5 0a.75 .75 0 1 0-1.5 0M304.5 389.2a.75 .75 0 1 0 1.5 0a.75 .75 0 1 0-1.5 0M307.6 389.2a.75 .75 0 1 0 1.5 0a.75 .75 0 1 0-1.5 0M310.4 389.2a.75 .75 0 1 0 1.5 0a.75 .75 0 1 0-1.5 0M313.7 389.2a.75 .75 0 1 0 1.5 0a.75 .75 0 1 0-1.5 0M316 389.2a.75 .75 0 1 0 1.5 0a.75 .75 0 1 0-1.5 0M232.5 389.2a.75 .75 0 1 0 1.5 0a.75 .75 0 1 0-1.5 0M299.5 386.39a.75 .75 0 1 0 1.5 0a.75 .75 0 1 0-1.5 0M234.1 386.39a.75 .75 0 1 0 1.5 0a.75 .75 0 1 0-1.5 0M230.6 386.39a.75 .75 0 1 0 1.5 0a.75 .75 0 1 0-1.5 0M227.3 386.39a.75 .75 0 1 0 1.5 0a.75 .75 0 1 0-1.5 0M290.6 383.57a.75 .75 0 1 0 1.5 0a.75 .75 0 1 0-1.5 0M293.4 383.57a.75 .75 0 1 0 1.5 0a.75 .75 0 1 0-1.5 0M295.8 383.57a.75 .75 0 1 0 1.5 0a.75 .75 0 1 0-1.5 0M299.2 383.57a.75 .75 0 1 0 1.5 0a.75 .75 0 1 0-1.5 0M233.4 383.57a.75 .75 0 1 0 1.5 0a.75 .75 0 1 0-1.5 0M302.1 380.76a.75 .75 0 1 0 1.5 0a.75 .75 0 1 0-1.5 0M305.2 380.76a.75 .75 0 1 0 1.5 0a.75 .75 0 1 0-1.5 0M307.8 380.76a.75 .75 0 1 0 1.5 0a.75 .75 0 1 0-1.5 0M310.7 380.76a.75 .75 0 1 0 1.5 0a.75 .75 0 1 0-1.5 0M237.4 380.76a.75 .75 0 1 0 1.5 0a.75 .75 0 1 0-1.5 0M290.6 377.95a.75 .75 0 1 0 1.5 0a.75 .75 0 1 0-1.5 0M293.7 377.95a.75 .75 0 1 0 1.5 0a.75 .75 0 1 0-1.5 0M296.4 377.95a.75 .75 0 1 0 1.5 0a.75 .75 0 1 0-1.5 0M298.2 377.95a.75 .75 0 1 0 1.5 0a.75 .75 0 1 0-1.5 0M235.4 377.95a.75 .75 0 1 0 1.5 0a.75 .75 0 1 0-1.5 0M232.3 377.95a.75 .75 0 1 0 1.5 0a.75 .75 0 1 0-1.5 0M230.1 377.95a.75 .75 0 1 0 1.5 0a.75 .75 0 1 0-1.5 0M300.6 375.14a.75 .75 0 1 0 1.5 0a.75 .75 0 1 0-1.5 0M303.6 375.14a.75 .75 0 1 0 1.5 0a.75 .75 0 1 0-1.5 0M306.5 375.14a.75 .75 0 1 0 1.5 0a.75 .75 0 1 0-1.5 0M309.9 375.14a.75 .75 0 1 0 1.5 0a.75 .75 0 1 0-1.5 0M233.5 375.14a.75 .75 0 1 0 1.5 0a.75 .75 0 1 0-1.5 0M230.4 375.14a.75 .75 0 1 0 1.5 0a.75 .75 0 1 0-1.5 0M227.7 375.14a.75 .75 0 1 0 1.5 0a.75 .75 0 1 0-1.5 0M238.1 372.32a.75 .75 0 1 0 1.5 0a.75 .75 0 1 0-1.5 0M298.5 369.51a.75 .75 0 1 0 1.5 0a.75 .75 0 1 0-1.5 0M301 369.51a.75 .75 0 1 0 1.5 0a.75 .75 0 1 0-1.5 0M299.3 363.88a.75 .75 0 1 0 1.5 0a.75 .75 0 1 0-1.5 0M302.7 363.88a.75 .75 0 1 0 1.5 0a.75 .75 0 1 0-1.5 0M306.1 363.88a.75 .75 0 1 0 1.5 0a.75 .75 0 1 0-1.5 0M238.4 363.88a.75 .75 0 1 0 1.5 0a.75 .75 0 1 0-1.5 0M235.2 363.88a.75 .75 0 1 0 1.5 0a.75 .75 0 1 0-1.5 0M232 363.88a.75 .75 0 1 0 1.5 0a.75 .75 0 1 0-1.5 0M305.6 361.07a.75 .75 0 1 0 1.5 0a.75 .75 0 1 0-1.5 0M308.5 361.07a.75 .75 0 1 0 1.5 0a.75 .75 0 1 0-1.5 0M310.7 361.07a.75 .75 0 1 0 1.5 0a.75 .75 0 1 0-1.5 0M314 361.07a.75 .75 0 1 0 1.5 0a.75 .75 0 1 0-1.5 0M237.6 361.07a.75 .75 0 1 0 1.5 0a.75 .75 0 1 0-1.5 0M235.3 361.07a.75 .75 0 1 0 1.5 0a.75 .75 0 1 0-1.5 0M231.9 361.07a.75 .75 0 1 0 1.5 0a.75 .75 0 1 0-1.5 0M234.3 358.26a.75 .75 0 1 0 1.5 0a.75 .75 0 1 0-1.5 0M232.4 358.26a.75 .75 0 1 0 1.5 0a.75 .75 0 1 0-1.5 0M230 358.26a.75 .75 0 1 0 1.5 0a.75 .75 0 1 0-1.5 0M298 355.44a.75 .75 0 1 0 1.5 0a.75 .75 0 1 0-1.5 0M301 355.44a.75 .75 0 1 0 1.5 0a.75 .75 0 1 0-1.5 0M303.3 355.44a.75 .75 0 1 0 1.5 0a.75 .75 0 1 0-1.5 0M306.2 355.44a.75 .75 0 1 0 1.5 0a.75 .75 0 1 0-1.5 0M308.2 355.44a.75 .75 0 1 0 1.5 0a.75 .75 0 1 0-1.5 0M305.8 349.82a.75 .75 0 1 0 1.5 0a.75 .75 0 1 0-1.5 0M308.9 349.82a.75 .75 0 1 0 1.5 0a.75 .75 0 1 0-1.5 0M304.8 347a.75 .75 0 1 0 1.5 0a.75 .75 0 1 0-1.5 0M307.9 347a.75 .75 0 1 0 1.5 0a.75 .75 0 1 0-1.5 0M311.2 347a.75 .75 0 1 0 1.5 0a.75 .75 0 1 0-1.5 0M236.8 347a.75 .75 0 1 0 1.5 0a.75 .75 0 1 0-1.5 0M326.8 344.19a.75 .75 0 1 0 1.5 0a.75 .75 0 1 0-1.5 0M329.3 344.19a.75 .75 0 1 0 1.5 0a.75 .75 0 1 0-1.5 0M244.4 344.19a.75 .75 0 1 0 1.5 0a.75 .75 0 1 0-1.5 0M235.5 341.38a.75 .75 0 1 0 1.5 0a.75 .75 0 1 0-1.5 0M246.8 338.56a.75 .75 0 1 0 1.5 0a.75 .75 0 1 0-1.5 0M243.5 338.56a.75 .75 0 1 0 1.5 0a.75 .75 0 1 0-1.5 0M240.5 338.56a.75 .75 0 1 0 1.5 0a.75 .75 0 1 0-1.5 0M308.2 335.75a.75 .75 0 1 0 1.5 0a.75 .75 0 1 0-1.5 0M309 332.94a.75 .75 0 1 0 1.5 0a.75 .75 0 1 0-1.5 0M312.5 332.94a.75 .75 0 1 0 1.5 0a.75 .75 0 1 0-1.5 0M315.8 332.94a.75 .75 0 1 0 1.5 0a.75 .75 0 1 0-1.5 0M318.9 332.94a.75 .75 0 1 0 1.5 0a.75 .75 0 1 0-1.5 0M322 332.94a.75 .75 0 1 0 1.5 0a.75 .75 0 1 0-1.5 0M314.3 330.13a.75 .75 0 1 0 1.5 0a.75 .75 0 1 0-1.5 0M317.7 330.13a.75 .75 0 1 0 1.5 0a.75 .75 0 1 0-1.5 0M319.8 330.13a.75 .75 0 1 0 1.5 0a.75 .75 0 1 0-1.5 0M322.9 330.13a.75 .75 0 1 0 1.5 0a.75 .75 0 1 0-1.5 0M324.8 330.13a.75 .75 0 1 0 1.5 0a.75 .75 0 1 0-1.5 0M242.7 330.13a.75 .75 0 1 0 1.5 0a.75 .75 0 1 0-1.5 0M240.6 330.13a.75 .75 0 1 0 1.5 0a.75 .75 0 1 0-1.5 0M314.6 327.31a.75 .75 0 1 0 1.5 0a.75 .75 0 1 0-1.5 0M318 321.69a.75 .75 0 1 0 1.5 0a.75 .75 0 1 0-1.5 0M319.9 321.69a.75 .75 0 1 0 1.5 0a.75 .75 0 1 0-1.5 0M322.1 321.69a.75 .75 0 1 0 1.5 0a.75 .75 0 1 0-1.5 0M243 321.69a.75 .75 0 1 0 1.5 0a.75 .75 0 1 0-1.5 0M310.6 318.87a.75 .75 0 1 0 1.5 0a.75 .75 0 1 0-1.5 0M313.3 318.87a.75 .75 0 1 0 1.5 0a.75 .75 0 1 0-1.5 0M316.7 318.87a.75 .75 0 1 0 1.5 0a.75 .75 0 1 0-1.5 0M320.2 318.87a.75 .75 0 1 0 1.5 0a.75 .75 0 1 0-1.5 0M323.3 318.87a.75 .75 0 1 0 1.5 0a.75 .75 0 1 0-1.5 0M251.1 318.87a.75 .75 0 1 0 1.5 0a.75 .75 0 1 0-1.5 0M249 318.87a.75 .75 0 1 0 1.5 0a.75 .75 0 1 0-1.5 0M245.5 318.87a.75 .75 0 1 0 1.5 0a.75 .75 0 1 0-1.5 0M377.4 316.06a.75 .75 0 1 0 1.5 0a.75 .75 0 1 0-1.5 0M379.8 316.06a.75 .75 0 1 0 1.5 0a.75 .75 0 1 0-1.5 0M382.6 316.06a.75 .75 0 1 0 1.5 0a.75 .75 0 1 0-1.5 0M384.5 316.06a.75 .75 0 1 0 1.5 0a.75 .75 0 1 0-1.5 0M386.4 316.06a.75 .75 0 1 0 1.5 0a.75 .75 0 1 0-1.5 0M261.8 316.06a.75 .75 0 1 0 1.5 0a.75 .75 0 1 0-1.5 0M241.3 313.25a.75 .75 0 1 0 1.5 0a.75 .75 0 1 0-1.5 0M238.8 313.25a.75 .75 0 1 0 1.5 0a.75 .75 0 1 0-1.5 0M236.6 313.25a.75 .75 0 1 0 1.5 0a.75 .75 0 1 0-1.5 0M321.5 310.43a.75 .75 0 1 0 1.5 0a.75 .75 0 1 0-1.5 0M324.8 310.43a.75 .75 0 1 0 1.5 0a.75 .75 0 1 0-1.5 0M319.3 307.62a.75 .75 0 1 0 1.5 0a.75 .75 0 1 0-1.5 0M321.8 307.62a.75 .75 0 1 0 1.5 0a.75 .75 0 1 0-1.5 0M325 307.62a.75 .75 0 1 0 1.5 0a.75 .75 0 1 0-1.5 0M327.2 307.62a.75 .75 0 1 0 1.5 0a.75 .75 0 1 0-1.5 0M317.9 304.81a.75 .75 0 1 0 1.5 0a.75 .75 0 1 0-1.5 0M320.3 304.81a.75 .75 0 1 0 1.5 0a.75 .75 0 1 0-1.5 0M323.7 304.81a.75 .75 0 1 0 1.5 0a.75 .75 0 1 0-1.5 0M326.7 304.81a.75 .75 0 1 0 1.5 0a.75 .75 0 1 0-1.5 0M321.6 301.99a.75 .75 0 1 0 1.5 0a.75 .75 0 1 0-1.5 0M323.9 301.99a.75 .75 0 1 0 1.5 0a.75 .75 0 1 0-1.5 0M256.9 301.99a.75 .75 0 1 0 1.5 0a.75 .75 0 1 0-1.5 0M324.6 299.18a.75 .75 0 1 0 1.5 0a.75 .75 0 1 0-1.5 0M328 299.18a.75 .75 0 1 0 1.5 0a.75 .75 0 1 0-1.5 0M249.8 299.18a.75 .75 0 1 0 1.5 0a.75 .75 0 1 0-1.5 0M247.6 299.18a.75 .75 0 1 0 1.5 0a.75 .75 0 1 0-1.5 0M321.6 296.37a.75 .75 0 1 0 1.5 0a.75 .75 0 1 0-1.5 0M323.7 296.37a.75 .75 0 1 0 1.5 0a.75 .75 0 1 0-1.5 0M327.1 296.37a.75 .75 0 1 0 1.5 0a.75 .75 0 1 0-1.5 0M330.4 296.37a.75 .75 0 1 0 1.5 0a.75 .75 0 1 0-1.5 0M333.9 296.37a.75 .75 0 1 0 1.5 0a.75 .75 0 1 0-1.5 0M323.6 293.56a.75 .75 0 1 0 1.5 0a.75 .75 0 1 0-1.5 0M326.3 293.56a.75 .75 0 1 0 1.5 0a.75 .75 0 1 0-1.5 0M329.1 293.56a.75 .75 0 1 0 1.5 0a.75 .75 0 1 0-1.5 0M332 293.56a.75 .75 0 1 0 1.5 0a.75 .75 0 1 0-1.5 0M333.9 293.56a.75 .75 0 1 0 1.5 0a.75 .75 0 1 0-1.5 0M329.8 290.74a.75 .75 0 1 0 1.5 0a.75 .75 0 1 0-1.5 0M332.6 290.74a.75 .75 0 1 0 1.5 0a.75 .75 0 1 0-1.5 0M251.4 290.74a.75 .75 0 1 0 1.5 0a.75 .75 0 1 0-1.5 0M248.5 290.74a.75 .75 0 1 0 1.5 0a.75 .75 0 1 0-1.5 0M246.6 290.74a.75 .75 0 1 0 1.5 0a.75 .75 0 1 0-1.5 0M342.9 287.93a.75 .75 0 1 0 1.5 0a.75 .75 0 1 0-1.5 0M261.7 287.93a.75 .75 0 1 0 1.5 0a.75 .75 0 1 0-1.5 0M258.2 287.93a.75 .75 0 1 0 1.5 0a.75 .75 0 1 0-1.5 0M342.8 285.12a.75 .75 0 1 0 1.5 0a.75 .75 0 1 0-1.5 0M345 285.12a.75 .75 0 1 0 1.5 0a.75 .75 0 1 0-1.5 0M347.8 285.12a.75 .75 0 1 0 1.5 0a.75 .75 0 1 0-1.5 0M350.6 285.12a.75 .75 0 1 0 1.5 0a.75 .75 0 1 0-1.5 0M241.3 285.12a.75 .75 0 1 0 1.5 0a.75 .75 0 1 0-1.5 0M238.3 285.12a.75 .75 0 1 0 1.5 0a.75 .75 0 1 0-1.5 0M346.5 282.3a.75 .75 0 1 0 1.5 0a.75 .75 0 1 0-1.5 0M349.7 282.3a.75 .75 0 1 0 1.5 0a.75 .75 0 1 0-1.5 0M351.8 282.3a.75 .75 0 1 0 1.5 0a.75 .75 0 1 0-1.5 0M353.8 282.3a.75 .75 0 1 0 1.5 0a.75 .75 0 1 0-1.5 0M247.6 282.3a.75 .75 0 1 0 1.5 0a.75 .75 0 1 0-1.5 0M342.1 279.49a.75 .75 0 1 0 1.5 0a.75 .75 0 1 0-1.5 0M343.9 279.49a.75 .75 0 1 0 1.5 0a.75 .75 0 1 0-1.5 0M341.3 276.68a.75 .75 0 1 0 1.5 0a.75 .75 0 1 0-1.5 0M344.7 276.68a.75 .75 0 1 0 1.5 0a.75 .75 0 1 0-1.5 0M347.3 276.68a.75 .75 0 1 0 1.5 0a.75 .75 0 1 0-1.5 0M341.2 273.86a.75 .75 0 1 0 1.5 0a.75 .75 0 1 0-1.5 0M344.3 273.86a.75 .75 0 1 0 1.5 0a.75 .75 0 1 0-1.5 0M347 273.86a.75 .75 0 1 0 1.5 0a.75 .75 0 1 0-1.5 0M350.8 271.05a.75 .75 0 1 0 1.5 0a.75 .75 0 1 0-1.5 0M354.2 271.05a.75 .75 0 1 0 1.5 0a.75 .75 0 1 0-1.5 0M356.7 271.05a.75 .75 0 1 0 1.5 0a.75 .75 0 1 0-1.5 0M359.7 271.05a.75 .75 0 1 0 1.5 0a.75 .75 0 1 0-1.5 0M341.3 268.24a.75 .75 0 1 0 1.5 0a.75 .75 0 1 0-1.5 0M343.9 268.24a.75 .75 0 1 0 1.5 0a.75 .75 0 1 0-1.5 0M355.5 265.42a.75 .75 0 1 0 1.5 0a.75 .75 0 1 0-1.5 0M357.9 265.42a.75 .75 0 1 0 1.5 0a.75 .75 0 1 0-1.5 0M360.3 265.42a.75 .75 0 1 0 1.5 0a.75 .75 0 1 0-1.5 0M363 265.42a.75 .75 0 1 0 1.5 0a.75 .75 0 1 0-1.5 0M364.9 265.42a.75 .75 0 1 0 1.5 0a.75 .75 0 1 0-1.5 0M355.5 262.61a.75 .75 0 1 0 1.5 0a.75 .75 0 1 0-1.5 0M252.2 262.61a.75 .75 0 1 0 1.5 0a.75 .75 0 1 0-1.5 0M349.4 259.8a.75 .75 0 1 0 1.5 0a.75 .75 0 1 0-1.5 0M351.9 259.8a.75 .75 0 1 0 1.5 0a.75 .75 0 1 0-1.5 0M354.6 259.8a.75 .75 0 1 0 1.5 0a.75 .75 0 1 0-1.5 0M357.5 259.8a.75 .75 0 1 0 1.5 0a.75 .75 0 1 0-1.5 0M248.6 259.8a.75 .75 0 1 0 1.5 0a.75 .75 0 1 0-1.5 0M362 256.98a.75 .75 0 1 0 1.5 0a.75 .75 0 1 0-1.5 0M364.4 256.98a.75 .75 0 1 0 1.5 0a.75 .75 0 1 0-1.5 0M366.5 256.98a.75 .75 0 1 0 1.5 0a.75 .75 0 1 0-1.5 0M369.2 256.98a.75 .75 0 1 0 1.5 0a.75 .75 0 1 0-1.5 0M372.6 256.98a.75 .75 0 1 0 1.5 0a.75 .75 0 1 0-1.5 0M247 256.98a.75 .75 0 1 0 1.5 0a.75 .75 0 1 0-1.5 0M360.4 254.17a.75 .75 0 1 0 1.5 0a.75 .75 0 1 0-1.5 0M363.9 254.17a.75 .75 0 1 0 1.5 0a.75 .75 0 1 0-1.5 0M367.3 254.17a.75 .75 0 1 0 1.5 0a.75 .75 0 1 0-1.5 0M369.2 254.17a.75 .75 0 1 0 1.5 0a.75 .75 0 1 0-1.5 0M234.4 254.17a.75 .75 0 1 0 1.5 0a.75 .75 0 1 0-1.5 0M231.9 254.17a.75 .75 0 1 0 1.5 0a.75 .75 0 1 0-1.5 0M385.5 251.36a.75 .75 0 1 0 1.5 0a.75 .75 0 1 0-1.5 0M387.8 251.36a.75 .75 0 1 0 1.5 0a.75 .75 0 1 0-1.5 0M389.7 251.36a.75 .75 0 1 0 1.5 0a.75 .75 0 1 0-1.5 0M226.1 251.36a.75 .75 0 1 0 1.5 0a.75 .75 0 1 0-1.5 0M222.9 251.36a.75 .75 0 1 0 1.5 0a.75 .75 0 1 0-1.5 0M220.9 251.36a.75 .75 0 1 0 1.5 0a.75 .75 0 1 0-1.5 0"/>
<path class="b" fill="#90ee90" d="M231.9 461.29h21.1v2.1h-21.1zM237 455.67h27.8v2.1h-27.8zM240.1 452.85h23.2v2.1h-23.2zM241.4 450.04h19v2.1h-19zM243.5 447.23h22.5v2.1h-22.5zM238.8 444.41h24.2v2.1h-24.2zM243.4 441.6h22.9v2.1h-22.9zM241.9 435.97h23v2.1h-23zM239.2 433.16h29.6v2.1h-29.6zM242.3 430.35h23.5v2.1h-23.5zM243.1 424.72h28.9v2.1h-28.9zM243.1 421.91h29.1v2.1h-29.1zM246.2 419.09h24.4v2.1h-24.4zM243.6 416.28h29.3v2.1h-29.3zM245.7 413.47h25.6v2.1h-25.6zM248.9 410.66h24.8v2.1h-24.8zM242.2 407.84h29.1v2.1h-29.1zM244.7 402.22h26.6v2.1h-26.6zM249.6 399.4h23.2v2.1h-23.2zM250.4 393.78h28v2.1h-28zM246.4 388.15h32.4v2.1h-32.4zM248.3 385.34h29v2.1h-29zM245.2 376.9h29.9v2.1h-29.9zM248.1 371.27h30.4v2.1h-30.4zM244.6 368.46h31.5v2.1h-31.5zM250 365.65h52v2.1h-52zM253.1 362.83h24.9v2.1h-24.9zM249.5 360.02h34.7v2.1h-34.7zM245.3 354.39h32.6v2.1h-32.6zM254 351.58h29.8v2.1h-29.8zM255.6 348.77h29v2.1h-29zM256 343.14h55v2.1h-55zM249.4 340.33h33.9v2.1h-33.9zM257.5 337.51h30.9v2.1h-30.9zM253.7 334.7h36.1v2.1h-36.1zM252.7 331.89h34.1v2.1h-34.1zM254.6 329.08h37v2.1h-37zM258.8 326.26h33v2.1h-33zM256.7 323.45h34.2v2.1h-34.2zM261.2 320.64h30.6v2.1h-30.6zM263.3 317.82h31v2.1h-31zM276 315.01h85v2.1h-85zM259.3 312.2h32.5v2.1h-32.5zM265.6 309.38h31.5v2.1h-31.5zM260.8 306.57h39v2.1h-39zM261.6 303.76h39.2v2.1h-39.2zM270.6 300.94h32.9v2.1h-32.9zM263 298.13h35.2v2.1h-35.2zM261.4 295.32h43.7v2.1h-43.7zM266.7 292.51h40.1v2.1h-40.1zM264.4 289.69h41.2v2.1h-41.2zM262.8 284.07h56.8v2.1h-56.8zM267.4 281.25h55.5v2.1h-55.5zM254.7 278.44h66.4v2.1h-66.4zM263.1 275.63h57.9v2.1h-57.9zM265.8 272.81h57.7v2.1h-57.7zM270.9 270h59.8v2.1h-59.8zM270 267.19h53.7v2.1h-53.7zM262.4 264.37h66.2v2.1h-66.2zM269.3 261.56h68v2.1h-68zM266.1 255.93h76.3v2.1h-76.3zM254 253.12h94v2.1h-94zM315 250.31h57v2.1h-57z"/>
<path class="b" fill="#0000ff" d="M236.7 458.48h37.1v2.1h-37.1zM243.7 438.79h20.4v2.1h-20.4zM246.4 427.53h24.2v2.1h-24.2zM243.6 405.03h31.5v2.1h-31.5zM257.8 396.59h42.2v2.1h-42.2zM249.2 390.96h26.4v2.1h-26.4zM245.2 382.52h30.1v2.1h-30.1zM251.9 379.71h23.7v2.1h-23.7zM245.1 374.09h30.4v2.1h-30.4zM249.7 357.21h30.9v2.1h-30.9zM249 345.95h33.1v2.1h-33.1zM278 286.88h46v2.1h-46zM265 258.75h65.6v2.1h-65.6z"/>
<path class="m" d="M241.4 460.94v2.81M247 458.12v2.81M248.3 455.31v2.81M250.7 452.5v2.81M249.5 449.68v2.81M253 446.87v2.81M251.7 444.06v2.81M253.5 441.24v2.81M252.4 438.43v2.81M252.9 435.62v2.81M253.8 432.8v2.81M253.7 429.99v2.81M256.2 427.18v2.81M255.2 424.36v2.81M256.2 421.55v2.81M257.3 418.74v2.81M258.4 415.93v2.81M260 413.11v2.81M260.7 410.3v2.81M258 407.49v2.81M258.1 404.67v2.81M258.4 401.86v2.81M260.6 399.05v2.81M261.8 396.23v2.81M262.2 393.42v2.81M262.6 390.61v2.81M261.7 387.79v2.81M262.5 384.98v2.81M262.8 382.17v2.81M264.6 379.35v2.81M264.1 376.54v2.81M264.5 373.73v2.81M264.5 370.92v2.81M263.8 368.1v2.81M265.5 365.29v2.81M267.4 362.48v2.81M267.2 359.66v2.81M267.7 356.85v2.81M266.1 354.04v2.81M269.7 351.22v2.81M268.9 348.41v2.81M269.3 345.6v2.81M271.5 342.78v2.81M270.3 339.97v2.81M272.2 337.16v2.81M275.4 334.35v2.81M273.7 331.53v2.81M275.8 328.72v2.81M279 325.91v2.81M276.3 323.09v2.81M278.1 320.28v2.81M279.3 317.47v2.81M279 314.65v2.81M280.3 311.84v2.81M281.5 309.03v2.81M283.8 306.21v2.81M285.1 303.4v2.81M285.9 300.59v2.81M286.2 297.77v2.81M285.8 294.96v2.81M288.4 292.15v2.81M289.6 289.34v2.81M290.8 286.52v2.81M291.7 283.71v2.81M293.6 280.9v2.81M294.4 278.08v2.81M300 275.27v2.81M300.4 272.46v2.81M303.5 269.64v2.81M303.9 266.83v2.81M305.9 264.02v2.81M306.3 261.2v2.81M309.3 258.39v2.81M313.2 255.58v2.81M316 252.76v2.81M316 249.95v2.81"/>
</g>
<line x1="268.1" y1="241.4" x2="268.1" y2="472.3" class="r"/>
<rect x="217.2" y="241.4" width="167.8" height="230.9" class="f"/>
<text x="380.2" y="451.6" class="lb" text-anchor="end">Gut</text>
<text x="379" y="466.6" class="lb" text-anchor="end">p = 0.498</text>
<line x1="23.5" y1="545.5" x2="192.5" y2="545.5" class="d"/>
<line x1="23.5" y1="647.5" x2="192.5" y2="647.5" class="d"/>
<path d="M18.5 701.77H23.5M18.5 698.21H23.5M18.5 694.65H23.5M18.5 691.09H23.5M18.5 687.52H23.5M18.5 683.96H23.5M18.5 680.40H23.5M18.5 676.84H23.5M18.5 673.28H23.5M18.5 669.72H23.5M18.5 666.15H23.5M18.5 662.59H23.5M18.5 659.03H23.5M18.5 655.47H23.5M18.5 651.91H23.5M18.5 648.35H23.5M18.5 644.78H23.5M18.5 641.22H23.5M18.5 637.66H23.5M18.5 634.10H23.5M18.5 630.54H23.5M18.5 626.97H23.5M18.5 623.41H23.5M18.5 619.85H23.5M18.5 616.29H23.5M18.5 612.73H23.5M18.5 609.17H23.5M18.5 605.60H23.5M18.5 602.04H23.5M18.5 598.48H23.5M18.5 594.92H23.5M18.5 591.36H23.5M18.5 587.80H23.5M18.5 584.23H23.5M18.5 580.67H23.5M18.5 577.11H23.5M18.5 573.55H23.5M18.5 569.99H23.5M18.5 566.43H23.5M18.5 562.86H23.5M18.5 559.30H23.5M18.5 555.74H23.5M18.5 552.18H23.5M18.5 548.62H23.5M18.5 545.05H23.5M18.5 541.49H23.5M18.5 537.93H23.5M18.5 534.37H23.5M18.5 530.81H23.5M18.5 527.25H23.5M18.5 523.68H23.5M18.5 520.12H23.5M18.5 516.56H23.5M18.5 513.00H23.5M18.5 509.44H23.5M18.5 505.88H23.5M18.5 502.31H23.5M18.5 498.75H23.5M18.5 495.19H23.5M18.5 491.63H23.5" class="t"/>
<path d="M30.3 712.1V716.6M61.4 712.1V716.6M92.5 712.1V716.6M123.6 712.1V716.6M154.7 712.1V716.6M185.8 712.1V716.6" class="t"/>
<clipPath id="cA3"><rect x="23.5" y="481.3" width="169.0" height="230.8"/></clipPath><g clip-path="url(#cA3)">
<path class="w" d="M81.4 701.77H88.4M101.9 698.21H107.3M115.9 698.21H123.3M100.3 694.65H107.7M117.8 694.65H123.2M103.2 691.09H111.4M120.6 691.09H126.4M101.6 687.52H109.8M121 687.52H129.9M106.3 683.96H113.1M121.3 683.96H126.4M107.4 680.4H114.7M123.9 680.4H129.2M108.8 676.84H114.8M124.2 676.84H131.8M106.2 673.28H114M122.2 673.28H129.4M107.9 669.72H112.7M124.1 669.72H133.4M111.5 666.15H116.8M125.7 666.15H131.2M107.7 662.59H113.9M124.9 662.59H131.1M111.1 659.03H116.5M126.7 659.03H136.2M110.9 655.47H116.6M126.7 655.47H133.9M111 651.91H116M127 651.91H135.9M110.9 648.35H117.7M128.1 648.35H135.5M110.2 644.78H117.9M128.4 644.78H136.7M115.7 641.22H121.4M131.6 641.22H139.8M107.6 637.66H115M128 637.66H137.6M112.2 634.1H118.7M132.1 634.1H140.4M110.7 630.54H118.8M129.8 630.54H136.2M111.3 626.97H119M132.9 626.97H138.9M116.7 623.41H123M134.4 623.41H141.2M118.6 619.85H123.3M135.4 619.85H142.5M116 616.29H122.8M133 616.29H142.5M114.1 612.73H120.3M132.8 612.73H138.7M115.6 609.17H122.6M129.3 609.17H137.4M117 605.6H123.3M135.4 605.6H144.5M119.2 602.04H124.5M137 602.04H142.4M114.4 598.48H121.3M131.8 598.48H138.4M112.6 594.92H119.4M130.6 594.92H140.5M115.2 591.36H122.5M134.3 591.36H142.9M116.6 587.8H121.8M134.2 587.8H142.7M113.4 584.23H121.7M134.9 584.23H142.4M114.4 580.67H121.9M136.3 580.67H150.3M114.5 577.11H121M134 577.11H141.8M112.5 573.55H121.5M135.4 573.55H144M116.4 569.99H121.7M134.8 569.99H144.3M115.4 566.43H123M134.3 566.43H143.1M116.6 562.86H122.7M133.4 562.86H141.6M115.2 559.3H124M138.3 559.3H146.3M117 555.74H124.1M136.2 555.74H142.3M117.7 552.18H122.9M134.4 552.18H140.5M116.3 548.62H121.3M133.9 548.62H142.7M118.4 545.05H123.9M137.4 545.05H145.8M119.1 541.49H124.6M135.7 541.49H145.1M117.7 537.93H123.4M132.7 537.93H138.4M114.6 534.37H121.5M133.5 534.37H139.4M116.4 530.81H122.5M132.6 530.81H138.9M116.4 527.25H122.9M135.7 527.25H145.6M118.8 523.68H123.9M136.7 523.68H145.6M118.7 520.12H124.5M137.4 520.12H144.6M116.2 516.56H122.3M138.8 516.56H152.8M117.3 513H123.8M136.8 513H142.8M119.7 509.44H125.8M135.7 509.44H143.2M117.3 505.88H125.2M137 505.88H145.6M120.5 502.31H125.9M137.6 502.31H146.6M107 498.75H127M136.7 498.75H144.7M122.9 495.19H128.5M135.7 495.19H143.9M112.6 491.63H130M144.4 491.63H159"/>
<path class="st" d="M81.4 701.14v1.26M102.5 701.14v1.26M101.9 697.58v1.26M123.3 697.58v1.26M100.3 694.02v1.26M123.2 694.02v1.26M103.2 690.46v1.26M126.4 690.46v1.26M101.6 686.89v1.26M129.9 686.89v1.26M106.3 683.33v1.26M126.4 683.33v1.26M107.4 679.77v1.26M129.2 679.77v1.26M108.8 676.21v1.26M131.8 676.21v1.26M106.2 672.65v1.26M129.4 672.65v1.26M107.9 669.09v1.26M133.4 669.09v1.26M111.5 665.52v1.26M131.2 665.52v1.26M107.7 661.96v1.26M131.1 661.96v1.26M111.1 658.4v1.26M136.2 658.4v1.26M110.9 654.84v1.26M133.9 654.84v1.26M111 651.28v1.26M135.9 651.28v1.26M110.9 647.72v1.26M135.5 647.72v1.26M110.2 644.15v1.26M136.7 644.15v1.26M115.7 640.59v1.26M139.8 640.59v1.26M107.6 637.03v1.26M137.6 637.03v1.26M112.2 633.47v1.26M140.4 633.47v1.26M110.7 629.91v1.26M136.2 629.91v1.26M111.3 626.34v1.26M138.9 626.34v1.26M116.7 622.78v1.26M141.2 622.78v1.26M118.6 619.22v1.26M142.5 619.22v1.26M116 615.66v1.26M142.5 615.66v1.26M114.1 612.1v1.26M138.7 612.1v1.26M115.6 608.54v1.26M137.4 608.54v1.26M117 604.97v1.26M144.5 604.97v1.26M119.2 601.41v1.26M142.4 601.41v1.26M114.4 597.85v1.26M138.4 597.85v1.26M112.6 594.29v1.26M140.5 594.29v1.26M115.2 590.73v1.26M142.9 590.73v1.26M116.6 587.17v1.26M142.7 587.17v1.26M113.4 583.6v1.26M142.4 583.6v1.26M114.4 580.04v1.26M150.3 580.04v1.26M114.5 576.48v1.26M141.8 576.48v1.26M112.5 572.92v1.26M144 572.92v1.26M116.4 569.36v1.26M144.3 569.36v1.26M115.4 565.8v1.26M143.1 565.8v1.26M116.6 562.23v1.26M141.6 562.23v1.26M115.2 558.67v1.26M146.3 558.67v1.26M117 555.11v1.26M142.3 555.11v1.26M117.7 551.55v1.26M140.5 551.55v1.26M116.3 547.99v1.26M142.7 547.99v1.26M118.4 544.42v1.26M145.8 544.42v1.26M119.1 540.86v1.26M145.1 540.86v1.26M117.7 537.3v1.26M138.4 537.3v1.26M114.6 533.74v1.26M139.4 533.74v1.26M116.4 530.18v1.26M138.9 530.18v1.26M116.4 526.62v1.26M145.6 526.62v1.26M118.8 523.05v1.26M145.6 523.05v1.26M118.7 519.49v1.26M144.6 519.49v1.26M116.2 515.93v1.26M152.8 515.93v1.26M117.3 512.37v1.26M142.8 512.37v1.26M119.7 508.81v1.26M143.2 508.81v1.26M117.3 505.25v1.26M145.6 505.25v1.26M120.5 501.68v1.26M146.6 501.68v1.26M107 498.12v1.26M144.7 498.12v1.26M122.9 494.56v1.26M143.9 494.56v1.26M112.6 491v1.26M159 491v1.26"/>
<path class="o" d="M104.7 701.77a.75 .75 0 1 0 1.5 0a.75 .75 0 1 0-1.5 0M108 701.77a.75 .75 0 1 0 1.5 0a.75 .75 0 1 0-1.5 0M124.5 694.65a.75 .75 0 1 0 1.5 0a.75 .75 0 1 0-1.5 0M127.9 694.65a.75 .75 0 1 0 1.5 0a.75 .75 0 1 0-1.5 0M128.4 691.09a.75 .75 0 1 0 1.5 0a.75 .75 0 1 0-1.5 0M131.3 687.52a.75 .75 0 1 0 1.5 0a.75 .75 0 1 0-1.5 0M98.8 687.52a.75 .75 0 1 0 1.5 0a.75 .75 0 1 0-1.5 0M128 683.96a.75 .75 0 1 0 1.5 0a.75 .75 0 1 0-1.5 0M103.4 680.4a.75 .75 0 1 0 1.5 0a.75 .75 0 1 0-1.5 0M131.7 673.28a.75 .75 0 1 0 1.5 0a.75 .75 0 1 0-1.5 0M133.7 673.28a.75 .75 0 1 0 1.5 0a.75 .75 0 1 0-1.5 0M102.4 673.28a.75 .75 0 1 0 1.5 0a.75 .75 0 1 0-1.5 0M136 669.72a.75 .75 0 1 0 1.5 0a.75 .75 0 1 0-1.5 0M104.8 669.72a.75 .75 0 1 0 1.5 0a.75 .75 0 1 0-1.5 0M132.5 666.15a.75 .75 0 1 0 1.5 0a.75 .75 0 1 0-1.5 0M108.9 666.15a.75 .75 0 1 0 1.5 0a.75 .75 0 1 0-1.5 0M133.3 662.59a.75 .75 0 1 0 1.5 0a.75 .75 0 1 0-1.5 0M104.9 662.59a.75 .75 0 1 0 1.5 0a.75 .75 0 1 0-1.5 0M137.4 659.03a.75 .75 0 1 0 1.5 0a.75 .75 0 1 0-1.5 0M107.8 659.03a.75 .75 0 1 0 1.5 0a.75 .75 0 1 0-1.5 0M136.6 655.47a.75 .75 0 1 0 1.5 0a.75 .75 0 1 0-1.5 0M107.2 655.47a.75 .75 0 1 0 1.5 0a.75 .75 0 1 0-1.5 0M138.4 651.91a.75 .75 0 1 0 1.5 0a.75 .75 0 1 0-1.5 0M108.1 651.91a.75 .75 0 1 0 1.5 0a.75 .75 0 1 0-1.5 0M137.8 648.35a.75 .75 0 1 0 1.5 0a.75 .75 0 1 0-1.5 0M138.7 644.78a.75 .75 0 1 0 1.5 0a.75 .75 0 1 0-1.5 0M141.4 641.22a.75 .75 0 1 0 1.5 0a.75 .75 0 1 0-1.5 0M144.3 641.22a.75 .75 0 1 0 1.5 0a.75 .75 0 1 0-1.5 0M111.9 641.22a.75 .75 0 1 0 1.5 0a.75 .75 0 1 0-1.5 0M139.5 637.66a.75 .75 0 1 0 1.5 0a.75 .75 0 1 0-1.5 0M141.6 637.66a.75 .75 0 1 0 1.5 0a.75 .75 0 1 0-1.5 0M142.5 634.1a.75 .75 0 1 0 1.5 0a.75 .75 0 1 0-1.5 0M145.9 634.1a.75 .75 0 1 0 1.5 0a.75 .75 0 1 0-1.5 0M138.3 630.54a.75 .75 0 1 0 1.5 0a.75 .75 0 1 0-1.5 0M140.3 626.97a.75 .75 0 1 0 1.5 0a.75 .75 0 1 0-1.5 0M143.6 626.97a.75 .75 0 1 0 1.5 0a.75 .75 0 1 0-1.5 0M144.7 619.85a.75 .75 0 1 0 1.5 0a.75 .75 0 1 0-1.5 0M147.5 619.85a.75 .75 0 1 0 1.5 0a.75 .75 0 1 0-1.5 0M144.3 616.29a.75 .75 0 1 0 1.5 0a.75 .75 0 1 0-1.5 0M141.4 612.73a.75 .75 0 1 0 1.5 0a.75 .75 0 1 0-1.5 0M144.9 612.73a.75 .75 0 1 0 1.5 0a.75 .75 0 1 0-1.5 0M110.5 612.73a.75 .75 0 1 0 1.5 0a.75 .75 0 1 0-1.5 0M139.2 609.17a.75 .75 0 1 0 1.5 0a.75 .75 0 1 0-1.5 0M142.6 609.17a.75 .75 0 1 0 1.5 0a.75 .75 0 1 0-1.5 0M112.2 609.17a.75 .75 0 1 0 1.5 0a.75 .75 0 1 0-1.5 0M146.9 605.6a.75 .75 0 1 0 1.5 0a.75 .75 0 1 0-1.5 0M149.2 605.6a.75 .75 0 1 0 1.5 0a.75 .75 0 1 0-1.5 0M114 605.6a.75 .75 0 1 0 1.5 0a.75 .75 0 1 0-1.5 0M144 602.04a.75 .75 0 1 0 1.5 0a.75 .75 0 1 0-1.5 0M147.1 602.04a.75 .75 0 1 0 1.5 0a.75 .75 0 1 0-1.5 0M141.6 594.92a.75 .75 0 1 0 1.5 0a.75 .75 0 1 0-1.5 0M143.6 594.92a.75 .75 0 1 0 1.5 0a.75 .75 0 1 0-1.5 0M145.1 591.36a.75 .75 0 1 0 1.5 0a.75 .75 0 1 0-1.5 0M111.3 591.36a.75 .75 0 1 0 1.5 0a.75 .75 0 1 0-1.5 0M144.7 587.8a.75 .75 0 1 0 1.5 0a.75 .75 0 1 0-1.5 0M147.7 587.8a.75 .75 0 1 0 1.5 0a.75 .75 0 1 0-1.5 0M112.4 587.8a.75 .75 0 1 0 1.5 0a.75 .75 0 1 0-1.5 0M144.3 584.23a.75 .75 0 1 0 1.5 0a.75 .75 0 1 0-1.5 0M109.6 584.23a.75 .75 0 1 0 1.5 0a.75 .75 0 1 0-1.5 0M152.5 580.67a.75 .75 0 1 0 1.5 0a.75 .75 0 1 0-1.5 0M110.4 580.67a.75 .75 0 1 0 1.5 0a.75 .75 0 1 0-1.5 0M144.3 577.11a.75 .75 0 1 0 1.5 0a.75 .75 0 1 0-1.5 0M110.6 577.11a.75 .75 0 1 0 1.5 0a.75 .75 0 1 0-1.5 0M145.7 569.99a.75 .75 0 1 0 1.5 0a.75 .75 0 1 0-1.5 0M147.8 569.99a.75 .75 0 1 0 1.5 0a.75 .75 0 1 0-1.5 0M145.4 566.43a.75 .75 0 1 0 1.5 0a.75 .75 0 1 0-1.5 0M148.7 566.43a.75 .75 0 1 0 1.5 0a.75 .75 0 1 0-1.5 0M142.9 562.86a.75 .75 0 1 0 1.5 0a.75 .75 0 1 0-1.5 0M144.6 555.74a.75 .75 0 1 0 1.5 0a.75 .75 0 1 0-1.5 0M114.2 555.74a.75 .75 0 1 0 1.5 0a.75 .75 0 1 0-1.5 0M143 552.18a.75 .75 0 1 0 1.5 0a.75 .75 0 1 0-1.5 0M114.3 552.18a.75 .75 0 1 0 1.5 0a.75 .75 0 1 0-1.5 0M144.9 548.62a.75 .75 0 1 0 1.5 0a.75 .75 0 1 0-1.5 0M113.4 548.62a.75 .75 0 1 0 1.5 0a.75 .75 0 1 0-1.5 0M147.4 545.05a.75 .75 0 1 0 1.5 0a.75 .75 0 1 0-1.5 0M114.8 545.05a.75 .75 0 1 0 1.5 0a.75 .75 0 1 0-1.5 0M147 541.49a.75 .75 0 1 0 1.5 0a.75 .75 0 1 0-1.5 0M149.8 541.49a.75 .75 0 1 0 1.5 0a.75 .75 0 1 0-1.5 0M115.6 541.49a.75 .75 0 1 0 1.5 0a.75 .75 0 1 0-1.5 0M139.4 537.93a.75 .75 0 1 0 1.5 0a.75 .75 0 1 0-1.5 0M142 537.93a.75 .75 0 1 0 1.5 0a.75 .75 0 1 0-1.5 0M113.6 537.93a.75 .75 0 1 0 1.5 0a.75 .75 0 1 0-1.5 0M141.1 534.37a.75 .75 0 1 0 1.5 0a.75 .75 0 1 0-1.5 0M140.8 530.81a.75 .75 0 1 0 1.5 0a.75 .75 0 1 0-1.5 0M148.1 527.25a.75 .75 0 1 0 1.5 0a.75 .75 0 1 0-1.5 0M150.2 527.25a.75 .75 0 1 0 1.5 0a.75 .75 0 1 0-1.5 0M112.5 527.25a.75 .75 0 1 0 1.5 0a.75 .75 0 1 0-1.5 0M114.7 523.68a.75 .75 0 1 0 1.5 0a.75 .75 0 1 0-1.5 0M147 520.12a.75 .75 0 1 0 1.5 0a.75 .75 0 1 0-1.5 0M149.1 520.12a.75 .75 0 1 0 1.5 0a.75 .75 0 1 0-1.5 0M153.9 516.56a.75 .75 0 1 0 1.5 0a.75 .75 0 1 0-1.5 0M156.7 516.56a.75 .75 0 1 0 1.5 0a.75 .75 0 1 0-1.5 0M145.4 513a.75 .75 0 1 0 1.5 0a.75 .75 0 1 0-1.5 0M147.3 513a.75 .75 0 1 0 1.5 0a.75 .75 0 1 0-1.5 0M148.2 505.88a.75 .75 0 1 0 1.5 0a.75 .75 0 1 0-1.5 0M148.5 502.31a.75 .75 0 1 0 1.5 0a.75 .75 0 1 0-1.5 0M151.3 502.31a.75 .75 0 1 0 1.5 0a.75 .75 0 1 0-1.5 0M117.4 502.31a.75 .75 0 1 0 1.5 0a.75 .75 0 1 0-1.5 0M146 498.75a.75 .75 0 1 0 1.5 0a.75 .75 0 1 0-1.5 0M118.7 495.19a.75 .75 0 1 0 1.5 0a.75 .75 0 1 0-1.5 0M161.6 491.63a.75 .75 0 1 0 1.5 0a.75 .75 0 1 0-1.5 0M109.9 491.63a.75 .75 0 1 0 1.5 0a.75 .75 0 1 0-1.5 0"/>
<path class="b" fill="#90ee90" d="M88.4 700.72h14.1v2.1h-14.1zM107.3 697.16h8.6v2.1h-8.6zM107.7 693.6h10.1v2.1h-10.1zM111.4 690.04h9.2v2.1h-9.2zM109.8 686.47h11.1v2.1h-11.1zM113.1 682.91h8.2v2.1h-8.2zM114.7 679.35h9.2v2.1h-9.2zM114.8 675.79h9.4v2.1h-9.4zM114 672.23h8.2v2.1h-8.2zM112.7 668.67h11.4v2.1h-11.4zM116.8 665.1h8.9v2.1h-8.9zM113.9 661.54h11.1v2.1h-11.1zM116.5 657.98h10.1v2.1h-10.1zM116.6 654.42h10.1v2.1h-10.1zM116 650.86h11v2.1h-11zM117.7 647.3h10.4v2.1h-10.4zM117.9 643.73h10.5v2.1h-10.5zM121.4 640.17h10.2v2.1h-10.2zM115 636.61h13v2.1h-13zM118.7 633.05h13.4v2.1h-13.4zM118.8 629.49h10.9v2.1h-10.9zM123 622.36h11.4v2.1h-11.4zM123.3 618.8h12.1v2.1h-12.1zM122.8 615.24h10.2v2.1h-10.2zM120.3 611.68h12.5v2.1h-12.5zM123.3 604.55h12.1v2.1h-12.1zM124.5 600.99h12.5v2.1h-12.5zM121.3 597.43h10.5v2.1h-10.5zM122.5 590.31h11.8v2.1h-11.8zM121.8 586.75h12.4v2.1h-12.4zM121.7 583.18h13.2v2.1h-13.2zM121.9 579.62h14.4v2.1h-14.4zM121.7 568.94h13.2v2.1h-13.2zM123 565.38h11.3v2.1h-11.3zM122.7 561.81h10.7v2.1h-10.7zM124 558.25h14.3v2.1h-14.3zM124.1 554.69h12.2v2.1h-12.2zM122.9 551.13h11.5v2.1h-11.5zM121.3 547.57h12.6v2.1h-12.6zM123.9 544h13.5v2.1h-13.5zM124.6 540.44h11.2v2.1h-11.2zM123.4 536.88h9.3v2.1h-9.3zM122.3 515.51h16.5v2.1h-16.5zM125.2 504.83h11.7v2.1h-11.7zM125.9 501.26h11.7v2.1h-11.7zM127 497.7h9.7v2.1h-9.7zM128.5 494.14h7.2v2.1h-7.2zM130 490.58h14.4v2.1h-14.4z"/>
<path class="b" fill="#0000ff" d="M119 625.92h13.9v2.1h-13.9zM122.6 608.12h6.7v2.1h-6.7zM119.4 593.87h11.3v2.1h-11.3zM121 576.06h12.9v2.1h-12.9zM121.5 572.5h13.9v2.1h-13.9zM121.5 533.32h12v2.1h-12zM122.5 529.76h10.2v2.1h-10.2zM122.9 526.2h12.8v2.1h-12.8zM123.9 522.63h12.8v2.1h-12.8zM124.5 519.07h12.9v2.1h-12.9zM123.8 511.95h13v2.1h-13zM125.8 508.39h9.9v2.1h-9.9z"/>
<path class="m" d="M95 700.27v3M110.9 696.71v3M113.1 693.15v3M114.8 689.59v3M115.3 686.02v3M116.6 682.46v3M118.7 678.9v3M118.2 675.34v3M117.6 671.78v3M117.8 668.22v3M120.9 664.65v3M119.5 661.09v3M121.7 657.53v3M120.4 653.97v3M120.5 650.41v3M122.1 646.85v3M121.5 643.28v3M124.4 639.72v3M123.5 636.16v3M123.6 632.6v3M122.6 629.04v3M125 625.47v3M127.2 621.91v3M127 618.35v3M126.7 614.79v3M125.3 611.23v3M125.5 607.67v3M127.6 604.1v3M128.5 600.54v3M126.5 596.98v3M124.4 593.42v3M126.5 589.86v3M126.5 586.3v3M126.6 582.73v3M126.7 579.17v3M126.8 575.61v3M126.7 572.05v3M126.7 568.49v3M127.1 564.93v3M126.6 561.36v3M127.3 557.8v3M128.4 554.24v3M126.8 550.68v3M125.8 547.12v3M129.3 543.55v3M129.2 539.99v3M127.4 536.43v3M126.8 532.87v3M126.6 529.31v3M128.5 525.75v3M128.2 522.18v3M130 518.62v3M130 515.06v3M130 511.5v3M130.5 507.94v3M131.4 504.38v3M132.1 500.81v3M133.1 497.25v3M133.7 493.69v3M136.3 490.13v3"/>
</g>
<line x1="125.0" y1="481.3" x2="125.0" y2="712.1" class="r"/>
<rect x="23.5" y="481.3" width="169.0" height="230.8" class="f"/>
<text x="187" y="693.9" class="lb" text-anchor="end">Palm</text>
<text x="183.5" y="708.1" class="lb" text-anchor="end" font-style="italic">p = 0.008</text>
<line x1="217.2" y1="545.5" x2="385.0" y2="545.5" class="d"/>
<line x1="217.2" y1="647.5" x2="385.0" y2="647.5" class="d"/>
<path d="M212.2 701.77H217.2M212.2 698.21H217.2M212.2 694.65H217.2M212.2 691.09H217.2M212.2 687.52H217.2M212.2 683.96H217.2M212.2 680.40H217.2M212.2 676.84H217.2M212.2 673.28H217.2M212.2 669.72H217.2M212.2 666.15H217.2M212.2 662.59H217.2M212.2 659.03H217.2M212.2 655.47H217.2M212.2 651.91H217.2M212.2 648.35H217.2M212.2 644.78H217.2M212.2 641.22H217.2M212.2 637.66H217.2M212.2 634.10H217.2M212.2 630.54H217.2M212.2 626.97H217.2M212.2 623.41H217.2M212.2 619.85H217.2M212.2 616.29H217.2M212.2 612.73H217.2M212.2 609.17H217.2M212.2 605.60H217.2M212.2 602.04H217.2M212.2 598.48H217.2M212.2 594.92H217.2M212.2 591.36H217.2M212.2 587.80H217.2M212.2 584.23H217.2M212.2 580.67H217.2M212.2 577.11H217.2M212.2 573.55H217.2M212.2 569.99H217.2M212.2 566.43H217.2M212.2 562.86H217.2M212.2 559.30H217.2M212.2 555.74H217.2M212.2 552.18H217.2M212.2 548.62H217.2M212.2 545.05H217.2M212.2 541.49H217.2M212.2 537.93H217.2M212.2 534.37H217.2M212.2 530.81H217.2M212.2 527.25H217.2M212.2 523.68H217.2M212.2 520.12H217.2M212.2 516.56H217.2M212.2 513.00H217.2M212.2 509.44H217.2M212.2 505.88H217.2M212.2 502.31H217.2M212.2 498.75H217.2M212.2 495.19H217.2M212.2 491.63H217.2" class="t"/>
<path d="M223.0 712.1V716.6M254.1 712.1V716.6M285.2 712.1V716.6M316.3 712.1V716.6M347.4 712.1V716.6M378.5 712.1V716.6" class="t"/>
<clipPath id="cB3"><rect x="217.2" y="481.3" width="167.8" height="230.8"/></clipPath><g clip-path="url(#cB3)">
<path class="w" d="M234 701.77H237M232.8 698.21H243.6M262.6 698.21H280.5M236.7 694.65H247.7M270.2 694.65H283.4M235.4 691.09H249M269 691.09H319M240.6 687.52H248.9M268.4 687.52H281.7M234.1 683.96H248M280.5 683.96H292.2M242.7 680.4H252.1M270.9 680.4H289.9M236.2 676.84H248.9M269.2 676.84H282.2M241.6 673.28H251.2M270.1 673.28H289M237.3 669.72H251M274.1 669.72H288.1M236.7 666.15H248.3M272.4 666.15H292.4M238.4 662.59H252.4M271.9 662.59H289.6M244.6 659.03H252.5M273 659.03H289.5M238 655.47H251.7M277.9 655.47H293.5M240.8 651.91H251M273.5 651.91H288.1M244.8 648.35H257M278.4 648.35H294.7M244 644.78H254.3M279.7 644.78H291.7M247 641.22H255.4M275 641.22H291.2M249 637.66H258.6M277.9 637.66H294.6M242.5 634.1H255.4M279.1 634.1H296.5M245.2 630.54H258.5M276.1 630.54H288.4M243.5 626.97H258M279.8 626.97H293.8M246.1 623.41H256.2M281.7 623.41H297.2M246.7 619.85H255.5M281.8 619.85H298.7M252.3 616.29H261M279.8 616.29H291M249.8 612.73H260.7M285.7 612.73H302.6M254.9 609.17H264.3M283.6 609.17H298.6M253.7 605.6H264.3M285.4 605.6H299.4M245.3 602.04H260.2M286.1 602.04H298.7M243.6 598.48H257.3M283.9 598.48H298.9M243.4 594.92H259.1M288 594.92H300.2M246.3 591.36H261.8M286.7 591.36H299.8M246 587.8H259.6M290.2 587.8H310.7M240.4 584.23H257M282.9 584.23H299M243.9 580.67H259.1M289 580.67H310.2M244.2 577.11H260.9M289.4 577.11H302.4M237.3 573.55H249.3M295.5 573.55H315.5M246.2 569.99H263.7M276 569.99H297.9M250.9 566.43H267.8M284.2 566.43H298.5M257.2 562.86H268.8M287.3 562.86H303.5M246.4 559.3H258.5M299.6 559.3H318.5M250 555.74H264.7M289.4 555.74H311.2M238.4 552.18H252.3M305.8 552.18H323.9M243.8 548.62H261.5M287.4 548.62H307.7M250.8 545.05H263.2M289 545.05H304.8M249.5 541.49H262.4M286 541.49H300.6M246.9 537.93H261.9M293.4 537.93H312.5M248.2 534.37H265M291 534.37H310.4M249.6 530.81H263.9M294.7 530.81H313.2M253.3 527.25H267M294.1 527.25H314.7M250.4 523.68H266.2M298.4 523.68H318.7M246.6 520.12H265M294.4 520.12H310.5M250.7 516.56H267.4M296.5 516.56H312.2M255 513H271.2M303.5 513H319.3M256 509.44H271.3M299.7 509.44H317.6M259.6 505.88H271.6M304 505.88H328.3M256.4 502.31H271.7M302.2 502.31H323.8M254.2 498.75H272.4M301.6 498.75H315.7M261.2 495.19H279M308.3 495.19H324.2M265.1 491.63H280.5M305 491.63H327.8"/>
<path class="st" d="M234 701.14v1.26M248.5 701.14v1.26M232.8 697.58v1.26M280.5 697.58v1.26M236.7 694.02v1.26M283.4 694.02v1.26M235.4 690.46v1.26M319 690.46v1.26M240.6 686.89v1.26M281.7 686.89v1.26M234.1 683.33v1.26M292.2 683.33v1.26M242.7 679.77v1.26M289.9 679.77v1.26M236.2 676.21v1.26M282.2 676.21v1.26M241.6 672.65v1.26M289 672.65v1.26M237.3 669.09v1.26M288.1 669.09v1.26M236.7 665.52v1.26M292.4 665.52v1.26M238.4 661.96v1.26M289.6 661.96v1.26M244.6 658.4v1.26M289.5 658.4v1.26M238 654.84v1.26M293.5 654.84v1.26M240.8 651.28v1.26M288.1 651.28v1.26M244.8 647.72v1.26M294.7 647.72v1.26M244 644.15v1.26M291.7 644.15v1.26M247 640.59v1.26M291.2 640.59v1.26M249 637.03v1.26M294.6 637.03v1.26M242.5 633.47v1.26M296.5 633.47v1.26M245.2 629.91v1.26M288.4 629.91v1.26M243.5 626.34v1.26M293.8 626.34v1.26M246.1 622.78v1.26M297.2 622.78v1.26M246.7 619.22v1.26M298.7 619.22v1.26M252.3 615.66v1.26M291 615.66v1.26M249.8 612.1v1.26M302.6 612.1v1.26M254.9 608.54v1.26M298.6 608.54v1.26M253.7 604.97v1.26M299.4 604.97v1.26M245.3 601.41v1.26M298.7 601.41v1.26M243.6 597.85v1.26M298.9 597.85v1.26M243.4 594.29v1.26M300.2 594.29v1.26M246.3 590.73v1.26M299.8 590.73v1.26M246 587.17v1.26M310.7 587.17v1.26M240.4 583.6v1.26M299 583.6v1.26M243.9 580.04v1.26M310.2 580.04v1.26M244.2 576.48v1.26M302.4 576.48v1.26M237.3 572.92v1.26M315.5 572.92v1.26M246.2 569.36v1.26M297.9 569.36v1.26M250.9 565.8v1.26M298.5 565.8v1.26M257.2 562.23v1.26M303.5 562.23v1.26M246.4 558.67v1.26M318.5 558.67v1.26M250 555.11v1.26M311.2 555.11v1.26M238.4 551.55v1.26M323.9 551.55v1.26M243.8 547.99v1.26M307.7 547.99v1.26M250.8 544.42v1.26M304.8 544.42v1.26M249.5 540.86v1.26M300.6 540.86v1.26M246.9 537.3v1.26M312.5 537.3v1.26M248.2 533.74v1.26M310.4 533.74v1.26M249.6 530.18v1.26M313.2 530.18v1.26M253.3 526.62v1.26M314.7 526.62v1.26M250.4 523.05v1.26M318.7 523.05v1.26M246.6 519.49v1.26M310.5 519.49v1.26M250.7 515.93v1.26M312.2 515.93v1.26M255 512.37v1.26M319.3 512.37v1.26M256 508.81v1.26M317.6 508.81v1.26M259.6 505.25v1.26M328.3 505.25v1.26M256.4 501.68v1.26M323.8 501.68v1.26M254.2 498.12v1.26M315.7 498.12v1.26M261.2 494.56v1.26M324.2 494.56v1.26M265.1 491v1.26M327.8 491v1.26"/>
<path class="o" d="M295.2 701.77a.75 .75 0 1 0 1.5 0a.75 .75 0 1 0-1.5 0M297.2 701.77a.75 .75 0 1 0 1.5 0a.75 .75 0 1 0-1.5 0M299.2 701.77a.75 .75 0 1 0 1.5 0a.75 .75 0 1 0-1.5 0M301.2 701.77a.75 .75 0 1 0 1.5 0a.75 .75 0 1 0-1.5 0M250.1 701.77a.75 .75 0 1 0 1.5 0a.75 .75 0 1 0-1.5 0M251.9 701.77a.75 .75 0 1 0 1.5 0a.75 .75 0 1 0-1.5 0M254.6 701.77a.75 .75 0 1 0 1.5 0a.75 .75 0 1 0-1.5 0M256.7 701.77a.75 .75 0 1 0 1.5 0a.75 .75 0 1 0-1.5 0M260 701.77a.75 .75 0 1 0 1.5 0a.75 .75 0 1 0-1.5 0M229.9 701.77a.75 .75 0 1 0 1.5 0a.75 .75 0 1 0-1.5 0M282.7 698.21a.75 .75 0 1 0 1.5 0a.75 .75 0 1 0-1.5 0M286 698.21a.75 .75 0 1 0 1.5 0a.75 .75 0 1 0-1.5 0M288.4 698.21a.75 .75 0 1 0 1.5 0a.75 .75 0 1 0-1.5 0M290.3 698.21a.75 .75 0 1 0 1.5 0a.75 .75 0 1 0-1.5 0M293.5 698.21a.75 .75 0 1 0 1.5 0a.75 .75 0 1 0-1.5 0M228.9 698.21a.75 .75 0 1 0 1.5 0a.75 .75 0 1 0-1.5 0M226.3 698.21a.75 .75 0 1 0 1.5 0a.75 .75 0 1 0-1.5 0M224.4 698.21a.75 .75 0 1 0 1.5 0a.75 .75 0 1 0-1.5 0M286 694.65a.75 .75 0 1 0 1.5 0a.75 .75 0 1 0-1.5 0M289.3 694.65a.75 .75 0 1 0 1.5 0a.75 .75 0 1 0-1.5 0M233.3 694.65a.75 .75 0 1 0 1.5 0a.75 .75 0 1 0-1.5 0M230.4 694.65a.75 .75 0 1 0 1.5 0a.75 .75 0 1 0-1.5 0M320.6 691.09a.75 .75 0 1 0 1.5 0a.75 .75 0 1 0-1.5 0M323.4 691.09a.75 .75 0 1 0 1.5 0a.75 .75 0 1 0-1.5 0M325.3 691.09a.75 .75 0 1 0 1.5 0a.75 .75 0 1 0-1.5 0M328.6 691.09a.75 .75 0 1 0 1.5 0a.75 .75 0 1 0-1.5 0M232 691.09a.75 .75 0 1 0 1.5 0a.75 .75 0 1 0-1.5 0M230 691.09a.75 .75 0 1 0 1.5 0a.75 .75 0 1 0-1.5 0M282.7 687.52a.75 .75 0 1 0 1.5 0a.75 .75 0 1 0-1.5 0M285.8 687.52a.75 .75 0 1 0 1.5 0a.75 .75 0 1 0-1.5 0M287.7 687.52a.75 .75 0 1 0 1.5 0a.75 .75 0 1 0-1.5 0M290 687.52a.75 .75 0 1 0 1.5 0a.75 .75 0 1 0-1.5 0M293.4 687.52a.75 .75 0 1 0 1.5 0a.75 .75 0 1 0-1.5 0M237 687.52a.75 .75 0 1 0 1.5 0a.75 .75 0 1 0-1.5 0M234.6 687.52a.75 .75 0 1 0 1.5 0a.75 .75 0 1 0-1.5 0M232.2 687.52a.75 .75 0 1 0 1.5 0a.75 .75 0 1 0-1.5 0M293.4 683.96a.75 .75 0 1 0 1.5 0a.75 .75 0 1 0-1.5 0M296 683.96a.75 .75 0 1 0 1.5 0a.75 .75 0 1 0-1.5 0M299.1 683.96a.75 .75 0 1 0 1.5 0a.75 .75 0 1 0-1.5 0M301.1 683.96a.75 .75 0 1 0 1.5 0a.75 .75 0 1 0-1.5 0M303.9 683.96a.75 .75 0 1 0 1.5 0a.75 .75 0 1 0-1.5 0M230.1 683.96a.75 .75 0 1 0 1.5 0a.75 .75 0 1 0-1.5 0M227.6 683.96a.75 .75 0 1 0 1.5 0a.75 .75 0 1 0-1.5 0M292.1 680.4a.75 .75 0 1 0 1.5 0a.75 .75 0 1 0-1.5 0M239.4 680.4a.75 .75 0 1 0 1.5 0a.75 .75 0 1 0-1.5 0M236.3 680.4a.75 .75 0 1 0 1.5 0a.75 .75 0 1 0-1.5 0M232.9 680.4a.75 .75 0 1 0 1.5 0a.75 .75 0 1 0-1.5 0M231.1 680.4a.75 .75 0 1 0 1.5 0a.75 .75 0 1 0-1.5 0M283.6 676.84a.75 .75 0 1 0 1.5 0a.75 .75 0 1 0-1.5 0M286.1 676.84a.75 .75 0 1 0 1.5 0a.75 .75 0 1 0-1.5 0M232.2 676.84a.75 .75 0 1 0 1.5 0a.75 .75 0 1 0-1.5 0M229.3 676.84a.75 .75 0 1 0 1.5 0a.75 .75 0 1 0-1.5 0M227.1 676.84a.75 .75 0 1 0 1.5 0a.75 .75 0 1 0-1.5 0M291.7 673.28a.75 .75 0 1 0 1.5 0a.75 .75 0 1 0-1.5 0M295.1 673.28a.75 .75 0 1 0 1.5 0a.75 .75 0 1 0-1.5 0M297.5 673.28a.75 .75 0 1 0 1.5 0a.75 .75 0 1 0-1.5 0M300.3 673.28a.75 .75 0 1 0 1.5 0a.75 .75 0 1 0-1.5 0M302.7 673.28a.75 .75 0 1 0 1.5 0a.75 .75 0 1 0-1.5 0M238.4 673.28a.75 .75 0 1 0 1.5 0a.75 .75 0 1 0-1.5 0M289.4 669.72a.75 .75 0 1 0 1.5 0a.75 .75 0 1 0-1.5 0M292.3 669.72a.75 .75 0 1 0 1.5 0a.75 .75 0 1 0-1.5 0M295 669.72a.75 .75 0 1 0 1.5 0a.75 .75 0 1 0-1.5 0M293.5 666.15a.75 .75 0 1 0 1.5 0a.75 .75 0 1 0-1.5 0M296.6 666.15a.75 .75 0 1 0 1.5 0a.75 .75 0 1 0-1.5 0M232.8 666.15a.75 .75 0 1 0 1.5 0a.75 .75 0 1 0-1.5 0M230.1 666.15a.75 .75 0 1 0 1.5 0a.75 .75 0 1 0-1.5 0M228.2 666.15a.75 .75 0 1 0 1.5 0a.75 .75 0 1 0-1.5 0M290.7 662.59a.75 .75 0 1 0 1.5 0a.75 .75 0 1 0-1.5 0M293.7 662.59a.75 .75 0 1 0 1.5 0a.75 .75 0 1 0-1.5 0M234.6 662.59a.75 .75 0 1 0 1.5 0a.75 .75 0 1 0-1.5 0M241 659.03a.75 .75 0 1 0 1.5 0a.75 .75 0 1 0-1.5 0M295.9 655.47a.75 .75 0 1 0 1.5 0a.75 .75 0 1 0-1.5 0M298 655.47a.75 .75 0 1 0 1.5 0a.75 .75 0 1 0-1.5 0M301.4 655.47a.75 .75 0 1 0 1.5 0a.75 .75 0 1 0-1.5 0M304 655.47a.75 .75 0 1 0 1.5 0a.75 .75 0 1 0-1.5 0M306.6 655.47a.75 .75 0 1 0 1.5 0a.75 .75 0 1 0-1.5 0M234.5 655.47a.75 .75 0 1 0 1.5 0a.75 .75 0 1 0-1.5 0M289.7 651.91a.75 .75 0 1 0 1.5 0a.75 .75 0 1 0-1.5 0M293.1 651.91a.75 .75 0 1 0 1.5 0a.75 .75 0 1 0-1.5 0M295.6 651.91a.75 .75 0 1 0 1.5 0a.75 .75 0 1 0-1.5 0M299 651.91a.75 .75 0 1 0 1.5 0a.75 .75 0 1 0-1.5 0M238.2 651.91a.75 .75 0 1 0 1.5 0a.75 .75 0 1 0-1.5 0M296.4 648.35a.75 .75 0 1 0 1.5 0a.75 .75 0 1 0-1.5 0M242.2 648.35a.75 .75 0 1 0 1.5 0a.75 .75 0 1 0-1.5 0M240.6 644.78a.75 .75 0 1 0 1.5 0a.75 .75 0 1 0-1.5 0M238 644.78a.75 .75 0 1 0 1.5 0a.75 .75 0 1 0-1.5 0M292.5 641.22a.75 .75 0 1 0 1.5 0a.75 .75 0 1 0-1.5 0M294.8 641.22a.75 .75 0 1 0 1.5 0a.75 .75 0 1 0-1.5 0M296.9 641.22a.75 .75 0 1 0 1.5 0a.75 .75 0 1 0-1.5 0M299.6 641.22a.75 .75 0 1 0 1.5 0a.75 .75 0 1 0-1.5 0M243.8 641.22a.75 .75 0 1 0 1.5 0a.75 .75 0 1 0-1.5 0M241.6 641.22a.75 .75 0 1 0 1.5 0a.75 .75 0 1 0-1.5 0M239.4 641.22a.75 .75 0 1 0 1.5 0a.75 .75 0 1 0-1.5 0M236.6 641.22a.75 .75 0 1 0 1.5 0a.75 .75 0 1 0-1.5 0M296 637.66a.75 .75 0 1 0 1.5 0a.75 .75 0 1 0-1.5 0M298.3 637.66a.75 .75 0 1 0 1.5 0a.75 .75 0 1 0-1.5 0M300.8 637.66a.75 .75 0 1 0 1.5 0a.75 .75 0 1 0-1.5 0M303.3 637.66a.75 .75 0 1 0 1.5 0a.75 .75 0 1 0-1.5 0M245.8 637.66a.75 .75 0 1 0 1.5 0a.75 .75 0 1 0-1.5 0M242.3 637.66a.75 .75 0 1 0 1.5 0a.75 .75 0 1 0-1.5 0M298.7 634.1a.75 .75 0 1 0 1.5 0a.75 .75 0 1 0-1.5 0M302.1 634.1a.75 .75 0 1 0 1.5 0a.75 .75 0 1 0-1.5 0M239.7 634.1a.75 .75 0 1 0 1.5 0a.75 .75 0 1 0-1.5 0M242 630.54a.75 .75 0 1 0 1.5 0a.75 .75 0 1 0-1.5 0M240.2 630.54a.75 .75 0 1 0 1.5 0a.75 .75 0 1 0-1.5 0M237.4 630.54a.75 .75 0 1 0 1.5 0a.75 .75 0 1 0-1.5 0M234.3 630.54a.75 .75 0 1 0 1.5 0a.75 .75 0 1 0-1.5 0M296.3 626.97a.75 .75 0 1 0 1.5 0a.75 .75 0 1 0-1.5 0M298.4 626.97a.75 .75 0 1 0 1.5 0a.75 .75 0 1 0-1.5 0M301.3 626.97a.75 .75 0 1 0 1.5 0a.75 .75 0 1 0-1.5 0M303.3 626.97a.75 .75 0 1 0 1.5 0a.75 .75 0 1 0-1.5 0M305.3 626.97a.75 .75 0 1 0 1.5 0a.75 .75 0 1 0-1.5 0M239.3 626.97a.75 .75 0 1 0 1.5 0a.75 .75 0 1 0-1.5 0M237.4 626.97a.75 .75 0 1 0 1.5 0a.75 .75 0 1 0-1.5 0M234 626.97a.75 .75 0 1 0 1.5 0a.75 .75 0 1 0-1.5 0M299.5 623.41a.75 .75 0 1 0 1.5 0a.75 .75 0 1 0-1.5 0M301.7 623.41a.75 .75 0 1 0 1.5 0a.75 .75 0 1 0-1.5 0M304.5 623.41a.75 .75 0 1 0 1.5 0a.75 .75 0 1 0-1.5 0M306.7 623.41a.75 .75 0 1 0 1.5 0a.75 .75 0 1 0-1.5 0M309.9 623.41a.75 .75 0 1 0 1.5 0a.75 .75 0 1 0-1.5 0M242.2 623.41a.75 .75 0 1 0 1.5 0a.75 .75 0 1 0-1.5 0M238.8 623.41a.75 .75 0 1 0 1.5 0a.75 .75 0 1 0-1.5 0M235.8 623.41a.75 .75 0 1 0 1.5 0a.75 .75 0 1 0-1.5 0M299.9 619.85a.75 .75 0 1 0 1.5 0a.75 .75 0 1 0-1.5 0M303.3 619.85a.75 .75 0 1 0 1.5 0a.75 .75 0 1 0-1.5 0M244.1 619.85a.75 .75 0 1 0 1.5 0a.75 .75 0 1 0-1.5 0M240.7 619.85a.75 .75 0 1 0 1.5 0a.75 .75 0 1 0-1.5 0M237.3 619.85a.75 .75 0 1 0 1.5 0a.75 .75 0 1 0-1.5 0M234.8 619.85a.75 .75 0 1 0 1.5 0a.75 .75 0 1 0-1.5 0M248.7 616.29a.75 .75 0 1 0 1.5 0a.75 .75 0 1 0-1.5 0M246.5 616.29a.75 .75 0 1 0 1.5 0a.75 .75 0 1 0-1.5 0M244.4 616.29a.75 .75 0 1 0 1.5 0a.75 .75 0 1 0-1.5 0M241.9 616.29a.75 .75 0 1 0 1.5 0a.75 .75 0 1 0-1.5 0M305.3 612.73a.75 .75 0 1 0 1.5 0a.75 .75 0 1 0-1.5 0M307.5 612.73a.75 .75 0 1 0 1.5 0a.75 .75 0 1 0-1.5 0M309.8 612.73a.75 .75 0 1 0 1.5 0a.75 .75 0 1 0-1.5 0M311.6 612.73a.75 .75 0 1 0 1.5 0a.75 .75 0 1 0-1.5 0M314.7 612.73a.75 .75 0 1 0 1.5 0a.75 .75 0 1 0-1.5 0M247 612.73a.75 .75 0 1 0 1.5 0a.75 .75 0 1 0-1.5 0M244.9 612.73a.75 .75 0 1 0 1.5 0a.75 .75 0 1 0-1.5 0M300.5 609.17a.75 .75 0 1 0 1.5 0a.75 .75 0 1 0-1.5 0M303.7 609.17a.75 .75 0 1 0 1.5 0a.75 .75 0 1 0-1.5 0M305.8 609.17a.75 .75 0 1 0 1.5 0a.75 .75 0 1 0-1.5 0M308.7 609.17a.75 .75 0 1 0 1.5 0a.75 .75 0 1 0-1.5 0M251.7 609.17a.75 .75 0 1 0 1.5 0a.75 .75 0 1 0-1.5 0M248.6 609.17a.75 .75 0 1 0 1.5 0a.75 .75 0 1 0-1.5 0M246 609.17a.75 .75 0 1 0 1.5 0a.75 .75 0 1 0-1.5 0M242.7 609.17a.75 .75 0 1 0 1.5 0a.75 .75 0 1 0-1.5 0M300.8 605.6a.75 .75 0 1 0 1.5 0a.75 .75 0 1 0-1.5 0M303.9 605.6a.75 .75 0 1 0 1.5 0a.75 .75 0 1 0-1.5 0M306 605.6a.75 .75 0 1 0 1.5 0a.75 .75 0 1 0-1.5 0M308.5 605.6a.75 .75 0 1 0 1.5 0a.75 .75 0 1 0-1.5 0M311.4 605.6a.75 .75 0 1 0 1.5 0a.75 .75 0 1 0-1.5 0M250.8 605.6a.75 .75 0 1 0 1.5 0a.75 .75 0 1 0-1.5 0M241.8 602.04a.75 .75 0 1 0 1.5 0a.75 .75 0 1 0-1.5 0M238.4 602.04a.75 .75 0 1 0 1.5 0a.75 .75 0 1 0-1.5 0M235 602.04a.75 .75 0 1 0 1.5 0a.75 .75 0 1 0-1.5 0M300.4 598.48a.75 .75 0 1 0 1.5 0a.75 .75 0 1 0-1.5 0M302.2 598.48a.75 .75 0 1 0 1.5 0a.75 .75 0 1 0-1.5 0M305 598.48a.75 .75 0 1 0 1.5 0a.75 .75 0 1 0-1.5 0M307.9 598.48a.75 .75 0 1 0 1.5 0a.75 .75 0 1 0-1.5 0M311.3 598.48a.75 .75 0 1 0 1.5 0a.75 .75 0 1 0-1.5 0M240.2 594.92a.75 .75 0 1 0 1.5 0a.75 .75 0 1 0-1.5 0M302.4 591.36a.75 .75 0 1 0 1.5 0a.75 .75 0 1 0-1.5 0M305.4 591.36a.75 .75 0 1 0 1.5 0a.75 .75 0 1 0-1.5 0M308 591.36a.75 .75 0 1 0 1.5 0a.75 .75 0 1 0-1.5 0M310 591.36a.75 .75 0 1 0 1.5 0a.75 .75 0 1 0-1.5 0M312.8 591.36a.75 .75 0 1 0 1.5 0a.75 .75 0 1 0-1.5 0M242.9 591.36a.75 .75 0 1 0 1.5 0a.75 .75 0 1 0-1.5 0M300.2 584.23a.75 .75 0 1 0 1.5 0a.75 .75 0 1 0-1.5 0M303.6 584.23a.75 .75 0 1 0 1.5 0a.75 .75 0 1 0-1.5 0M237.3 584.23a.75 .75 0 1 0 1.5 0a.75 .75 0 1 0-1.5 0M234.2 584.23a.75 .75 0 1 0 1.5 0a.75 .75 0 1 0-1.5 0M230.9 584.23a.75 .75 0 1 0 1.5 0a.75 .75 0 1 0-1.5 0M228.9 584.23a.75 .75 0 1 0 1.5 0a.75 .75 0 1 0-1.5 0M313 580.67a.75 .75 0 1 0 1.5 0a.75 .75 0 1 0-1.5 0M304.3 577.11a.75 .75 0 1 0 1.5 0a.75 .75 0 1 0-1.5 0M306.8 577.11a.75 .75 0 1 0 1.5 0a.75 .75 0 1 0-1.5 0M317.8 573.55a.75 .75 0 1 0 1.5 0a.75 .75 0 1 0-1.5 0M320 573.55a.75 .75 0 1 0 1.5 0a.75 .75 0 1 0-1.5 0M233.8 573.55a.75 .75 0 1 0 1.5 0a.75 .75 0 1 0-1.5 0M230.5 573.55a.75 .75 0 1 0 1.5 0a.75 .75 0 1 0-1.5 0M227.4 573.55a.75 .75 0 1 0 1.5 0a.75 .75 0 1 0-1.5 0M299.9 569.99a.75 .75 0 1 0 1.5 0a.75 .75 0 1 0-1.5 0M302 569.99a.75 .75 0 1 0 1.5 0a.75 .75 0 1 0-1.5 0M303.8 569.99a.75 .75 0 1 0 1.5 0a.75 .75 0 1 0-1.5 0M243.6 569.99a.75 .75 0 1 0 1.5 0a.75 .75 0 1 0-1.5 0M241.5 569.99a.75 .75 0 1 0 1.5 0a.75 .75 0 1 0-1.5 0M239.2 569.99a.75 .75 0 1 0 1.5 0a.75 .75 0 1 0-1.5 0M299.7 566.43a.75 .75 0 1 0 1.5 0a.75 .75 0 1 0-1.5 0M303 566.43a.75 .75 0 1 0 1.5 0a.75 .75 0 1 0-1.5 0M305.4 566.43a.75 .75 0 1 0 1.5 0a.75 .75 0 1 0-1.5 0M307.5 566.43a.75 .75 0 1 0 1.5 0a.75 .75 0 1 0-1.5 0M305.6 562.86a.75 .75 0 1 0 1.5 0a.75 .75 0 1 0-1.5 0M307.6 562.86a.75 .75 0 1 0 1.5 0a.75 .75 0 1 0-1.5 0M320.7 559.3a.75 .75 0 1 0 1.5 0a.75 .75 0 1 0-1.5 0M323.9 559.3a.75 .75 0 1 0 1.5 0a.75 .75 0 1 0-1.5 0M326.1 559.3a.75 .75 0 1 0 1.5 0a.75 .75 0 1 0-1.5 0M243.4 559.3a.75 .75 0 1 0 1.5 0a.75 .75 0 1 0-1.5 0M239.9 559.3a.75 .75 0 1 0 1.5 0a.75 .75 0 1 0-1.5 0M237.6 559.3a.75 .75 0 1 0 1.5 0a.75 .75 0 1 0-1.5 0M235.1 559.3a.75 .75 0 1 0 1.5 0a.75 .75 0 1 0-1.5 0M313.4 555.74a.75 .75 0 1 0 1.5 0a.75 .75 0 1 0-1.5 0M315.7 555.74a.75 .75 0 1 0 1.5 0a.75 .75 0 1 0-1.5 0M325 552.18a.75 .75 0 1 0 1.5 0a.75 .75 0 1 0-1.5 0M327.2 552.18a.75 .75 0 1 0 1.5 0a.75 .75 0 1 0-1.5 0M235.3 552.18a.75 .75 0 1 0 1.5 0a.75 .75 0 1 0-1.5 0M309.5 548.62a.75 .75 0 1 0 1.5 0a.75 .75 0 1 0-1.5 0M311.7 548.62a.75 .75 0 1 0 1.5 0a.75 .75 0 1 0-1.5 0M240.7 548.62a.75 .75 0 1 0 1.5 0a.75 .75 0 1 0-1.5 0M237.6 548.62a.75 .75 0 1 0 1.5 0a.75 .75 0 1 0-1.5 0M306 545.05a.75 .75 0 1 0 1.5 0a.75 .75 0 1 0-1.5 0M309.1 545.05a.75 .75 0 1 0 1.5 0a.75 .75 0 1 0-1.5 0M311.2 545.05a.75 .75 0 1 0 1.5 0a.75 .75 0 1 0-1.5 0M313.2 545.05a.75 .75 0 1 0 1.5 0a.75 .75 0 1 0-1.5 0M315.6 545.05a.75 .75 0 1 0 1.5 0a.75 .75 0 1 0-1.5 0M313.9 537.93a.75 .75 0 1 0 1.5 0a.75 .75 0 1 0-1.5 0M316 537.93a.75 .75 0 1 0 1.5 0a.75 .75 0 1 0-1.5 0M318 537.93a.75 .75 0 1 0 1.5 0a.75 .75 0 1 0-1.5 0M320.9 537.93a.75 .75 0 1 0 1.5 0a.75 .75 0 1 0-1.5 0M244.2 537.93a.75 .75 0 1 0 1.5 0a.75 .75 0 1 0-1.5 0M242 537.93a.75 .75 0 1 0 1.5 0a.75 .75 0 1 0-1.5 0M313 534.37a.75 .75 0 1 0 1.5 0a.75 .75 0 1 0-1.5 0M244.4 534.37a.75 .75 0 1 0 1.5 0a.75 .75 0 1 0-1.5 0M241.9 534.37a.75 .75 0 1 0 1.5 0a.75 .75 0 1 0-1.5 0M239.5 534.37a.75 .75 0 1 0 1.5 0a.75 .75 0 1 0-1.5 0M314.8 530.81a.75 .75 0 1 0 1.5 0a.75 .75 0 1 0-1.5 0M317.5 530.81a.75 .75 0 1 0 1.5 0a.75 .75 0 1 0-1.5 0M320.3 530.81a.75 .75 0 1 0 1.5 0a.75 .75 0 1 0-1.5 0M246.1 530.81a.75 .75 0 1 0 1.5 0a.75 .75 0 1 0-1.5 0M244.2 530.81a.75 .75 0 1 0 1.5 0a.75 .75 0 1 0-1.5 0M316 527.25a.75 .75 0 1 0 1.5 0a.75 .75 0 1 0-1.5 0M318.8 527.25a.75 .75 0 1 0 1.5 0a.75 .75 0 1 0-1.5 0M321.7 527.25a.75 .75 0 1 0 1.5 0a.75 .75 0 1 0-1.5 0M249.9 527.25a.75 .75 0 1 0 1.5 0a.75 .75 0 1 0-1.5 0M247.6 527.25a.75 .75 0 1 0 1.5 0a.75 .75 0 1 0-1.5 0M245 527.25a.75 .75 0 1 0 1.5 0a.75 .75 0 1 0-1.5 0M320.7 523.68a.75 .75 0 1 0 1.5 0a.75 .75 0 1 0-1.5 0M324.2 523.68a.75 .75 0 1 0 1.5 0a.75 .75 0 1 0-1.5 0M326.2 523.68a.75 .75 0 1 0 1.5 0a.75 .75 0 1 0-1.5 0M328.3 523.68a.75 .75 0 1 0 1.5 0a.75 .75 0 1 0-1.5 0M331 523.68a.75 .75 0 1 0 1.5 0a.75 .75 0 1 0-1.5 0M247.2 523.68a.75 .75 0 1 0 1.5 0a.75 .75 0 1 0-1.5 0M244.4 523.68a.75 .75 0 1 0 1.5 0a.75 .75 0 1 0-1.5 0M242.5 523.68a.75 .75 0 1 0 1.5 0a.75 .75 0 1 0-1.5 0M313 520.12a.75 .75 0 1 0 1.5 0a.75 .75 0 1 0-1.5 0M315.4 520.12a.75 .75 0 1 0 1.5 0a.75 .75 0 1 0-1.5 0M318.4 520.12a.75 .75 0 1 0 1.5 0a.75 .75 0 1 0-1.5 0M320.2 520.12a.75 .75 0 1 0 1.5 0a.75 .75 0 1 0-1.5 0M243.5 520.12a.75 .75 0 1 0 1.5 0a.75 .75 0 1 0-1.5 0M247.1 516.56a.75 .75 0 1 0 1.5 0a.75 .75 0 1 0-1.5 0M244.3 516.56a.75 .75 0 1 0 1.5 0a.75 .75 0 1 0-1.5 0M252.4 513a.75 .75 0 1 0 1.5 0a.75 .75 0 1 0-1.5 0M319.1 509.44a.75 .75 0 1 0 1.5 0a.75 .75 0 1 0-1.5 0M321.2 509.44a.75 .75 0 1 0 1.5 0a.75 .75 0 1 0-1.5 0M324.4 509.44a.75 .75 0 1 0 1.5 0a.75 .75 0 1 0-1.5 0M327.1 509.44a.75 .75 0 1 0 1.5 0a.75 .75 0 1 0-1.5 0M329.8 509.44a.75 .75 0 1 0 1.5 0a.75 .75 0 1 0-1.5 0M253.1 509.44a.75 .75 0 1 0 1.5 0a.75 .75 0 1 0-1.5 0M249.6 509.44a.75 .75 0 1 0 1.5 0a.75 .75 0 1 0-1.5 0M246.9 509.44a.75 .75 0 1 0 1.5 0a.75 .75 0 1 0-1.5 0M243.6 509.44a.75 .75 0 1 0 1.5 0a.75 .75 0 1 0-1.5 0M256.9 505.88a.75 .75 0 1 0 1.5 0a.75 .75 0 1 0-1.5 0M253.9 505.88a.75 .75 0 1 0 1.5 0a.75 .75 0 1 0-1.5 0M251 505.88a.75 .75 0 1 0 1.5 0a.75 .75 0 1 0-1.5 0M248.9 505.88a.75 .75 0 1 0 1.5 0a.75 .75 0 1 0-1.5 0M253.3 502.31a.75 .75 0 1 0 1.5 0a.75 .75 0 1 0-1.5 0M317.9 498.75a.75 .75 0 1 0 1.5 0a.75 .75 0 1 0-1.5 0M321 498.75a.75 .75 0 1 0 1.5 0a.75 .75 0 1 0-1.5 0M323.7 498.75a.75 .75 0 1 0 1.5 0a.75 .75 0 1 0-1.5 0M326.4 498.75a.75 .75 0 1 0 1.5 0a.75 .75 0 1 0-1.5 0M250.4 498.75a.75 .75 0 1 0 1.5 0a.75 .75 0 1 0-1.5 0M326.3 495.19a.75 .75 0 1 0 1.5 0a.75 .75 0 1 0-1.5 0M329.6 495.19a.75 .75 0 1 0 1.5 0a.75 .75 0 1 0-1.5 0M332.1 495.19a.75 .75 0 1 0 1.5 0a.75 .75 0 1 0-1.5 0M335.1 495.19a.75 .75 0 1 0 1.5 0a.75 .75 0 1 0-1.5 0M257.5 495.19a.75 .75 0 1 0 1.5 0a.75 .75 0 1 0-1.5 0M261 491.63a.75 .75 0 1 0 1.5 0a.75 .75 0 1 0-1.5 0M258.5 491.63a.75 .75 0 1 0 1.5 0a.75 .75 0 1 0-1.5 0M256.1 491.63a.75 .75 0 1 0 1.5 0a.75 .75 0 1 0-1.5 0M253.6 491.63a.75 .75 0 1 0 1.5 0a.75 .75 0 1 0-1.5 0"/>
<path class="b" fill="#90ee90" d="M237 700.72h11.5v2.1h-11.5zM243.6 697.16h19v2.1h-19zM247.7 693.6h22.5v2.1h-22.5zM249 690.04h20v2.1h-20zM248.9 686.47h19.6v2.1h-19.6zM252.1 679.35h18.7v2.1h-18.7zM248.9 675.79h20.2v2.1h-20.2zM251.2 672.23h18.9v2.1h-18.9zM251 668.67h23.1v2.1h-23.1zM248.3 665.1h24.1v2.1h-24.1zM252.4 661.54h19.5v2.1h-19.5zM252.5 657.98h20.5v2.1h-20.5zM251.7 654.42h26.2v2.1h-26.2zM251 650.86h22.4v2.1h-22.4zM257 647.3h21.4v2.1h-21.4zM254.3 643.73h25.5v2.1h-25.5zM255.4 640.17h19.6v2.1h-19.6zM258.6 636.61h19.3v2.1h-19.3zM255.4 633.05h23.6v2.1h-23.6zM258.5 629.49h17.6v2.1h-17.6zM258 625.92h21.8v2.1h-21.8zM256.2 622.36h25.5v2.1h-25.5zM255.5 618.8h26.3v2.1h-26.3zM261 615.24h18.8v2.1h-18.8zM260.7 611.68h25v2.1h-25zM264.3 608.12h19.3v2.1h-19.3zM264.3 604.55h21.1v2.1h-21.1zM260.2 600.99h25.9v2.1h-25.9zM257.3 597.43h26.6v2.1h-26.6zM259.1 593.87h29v2.1h-29zM261.8 590.31h24.9v2.1h-24.9zM259.6 586.75h30.6v2.1h-30.6zM257 583.18h25.9v2.1h-25.9zM259.1 579.62h29.9v2.1h-29.9zM260.9 576.06h28.5v2.1h-28.5zM249.3 572.5h46.2v2.1h-46.2zM263.7 568.94h12.3v2.1h-12.3zM258.5 558.25h41.1v2.1h-41.1zM264.7 554.69h24.7v2.1h-24.7zM252.3 551.13h53.5v2.1h-53.5zM265 519.07h29.4v2.1h-29.4zM271.3 508.39h28.4v2.1h-28.4zM271.6 504.83h32.4v2.1h-32.4zM271.7 501.26h30.5v2.1h-30.5zM272.4 497.7h29.2v2.1h-29.2zM279 494.14h29.3v2.1h-29.3zM280.5 490.58h24.5v2.1h-24.5z"/>
<path class="b" fill="#0000ff" d="M248 682.91h32.5v2.1h-32.5zM267.8 565.38h16.4v2.1h-16.4zM268.8 561.81h18.5v2.1h-18.5zM261.5 547.57h26v2.1h-26zM263.2 544h25.8v2.1h-25.8zM262.4 540.44h23.6v2.1h-23.6zM261.9 536.88h31.5v2.1h-31.5zM265 533.32h26v2.1h-26zM263.9 529.76h30.7v2.1h-30.7zM267 526.2h27.1v2.1h-27.1zM266.2 522.63h32.2v2.1h-32.2zM267.4 515.51h29.1v2.1h-29.1zM271.2 511.95h32.3v2.1h-32.3z"/>
<path class="m" d="M241 700.27v3M253.8 696.71v3M256.8 693.15v3M257 689.59v3M257.5 686.02v3M259.3 682.46v3M260.3 678.9v3M259.5 675.34v3M259.8 671.78v3M261.5 668.22v3M261.4 664.65v3M261.6 661.09v3M264.4 657.53v3M264.7 653.97v3M263.6 650.41v3M265.6 646.85v3M267.6 643.28v3M266.4 639.72v3M267.9 636.16v3M267 632.6v3M267.4 629.04v3M268 625.47v3M269.3 621.91v3M268.5 618.35v3M270.9 614.79v3M271.1 611.23v3M273.7 607.67v3M273.9 604.1v3M272.4 600.54v3M272.6 596.98v3M274 593.42v3M272.8 589.86v3M274.6 586.3v3M273.2 582.73v3M274.7 579.17v3M273.9 575.61v3M275.3 572.05v3M272 568.49v3M275.8 564.93v3M276 561.36v3M276.2 557.8v3M276.3 554.24v3M276.5 550.68v3M275.4 547.12v3M278.3 543.55v3M277.3 539.99v3M280.1 536.43v3M279.4 532.87v3M281.1 529.31v3M284.5 525.75v3M286.1 522.18v3M287 518.62v3M287.4 515.06v3M288.9 511.5v3M288.6 507.94v3M291.2 504.38v3M290.3 500.81v3M290.8 497.25v3M294.2 493.69v3M295 490.13v3"/>
</g>
<line x1="271.5" y1="481.3" x2="271.5" y2="712.1" class="r"/>
<rect x="217.2" y="481.3" width="167.8" height="230.8" class="f"/>
<text x="380" y="692.6" class="lb" text-anchor="end">Palm</text>
<text x="376.6" y="707.6" class="lb" text-anchor="end" font-style="italic">p = 0.002</text>
<line x1="23.5" y1="782.9" x2="192.5" y2="782.9" class="d"/>
<line x1="23.5" y1="890.0" x2="192.5" y2="890.0" class="d"/>
<path d="M18.5 941.92H23.5M18.5 939.24H23.5M18.5 936.57H23.5M18.5 933.90H23.5M18.5 931.23H23.5M18.5 928.56H23.5M18.5 925.89H23.5M18.5 923.22H23.5M18.5 920.55H23.5M18.5 917.87H23.5M18.5 915.20H23.5M18.5 912.53H23.5M18.5 909.86H23.5M18.5 907.19H23.5M18.5 904.52H23.5M18.5 901.85H23.5M18.5 899.18H23.5M18.5 896.50H23.5M18.5 893.83H23.5M18.5 891.16H23.5M18.5 888.49H23.5M18.5 885.82H23.5M18.5 883.15H23.5M18.5 880.48H23.5M18.5 877.81H23.5M18.5 875.13H23.5M18.5 872.46H23.5M18.5 869.79H23.5M18.5 867.12H23.5M18.5 864.45H23.5M18.5 861.78H23.5M18.5 859.11H23.5M18.5 856.43H23.5M18.5 853.76H23.5M18.5 851.09H23.5M18.5 848.42H23.5M18.5 845.75H23.5M18.5 843.08H23.5M18.5 840.41H23.5M18.5 837.74H23.5M18.5 835.06H23.5M18.5 832.39H23.5M18.5 829.72H23.5M18.5 827.05H23.5M18.5 824.38H23.5M18.5 821.71H23.5M18.5 819.04H23.5M18.5 816.37H23.5M18.5 813.69H23.5M18.5 811.02H23.5M18.5 808.35H23.5M18.5 805.68H23.5M18.5 803.01H23.5M18.5 800.34H23.5M18.5 797.67H23.5M18.5 794.99H23.5M18.5 792.32H23.5M18.5 789.65H23.5M18.5 786.98H23.5M18.5 784.31H23.5M18.5 781.64H23.5M18.5 778.97H23.5M18.5 776.30H23.5M18.5 773.62H23.5M18.5 770.95H23.5M18.5 768.28H23.5M18.5 765.61H23.5M18.5 762.94H23.5M18.5 760.27H23.5M18.5 757.60H23.5M18.5 754.93H23.5M18.5 752.25H23.5M18.5 749.58H23.5M18.5 746.91H23.5M18.5 744.24H23.5M18.5 741.57H23.5M18.5 738.90H23.5M18.5 736.23H23.5M18.5 733.56H23.5M18.5 730.88H23.5" class="t"/>
<path d="M30.3 951.8V956.3M61.4 951.8V956.3M92.5 951.8V956.3M123.6 951.8V956.3M154.7 951.8V956.3M185.8 951.8V956.3" class="t"/>
<clipPath id="cA4"><rect x="23.5" y="721.0" width="169.0" height="230.79999999999995"/></clipPath><g clip-path="url(#cA4)">
<path class="w" d="M58.9 941.92H66.3M83.3 941.92H92.1M62.3 939.24H70.9M80.7 939.24H88.1M67.5 936.57H73M82.4 936.57H90.9M64.5 933.9H71.9M82.9 933.9H90M63.8 931.23H72.3M82.5 931.23H93.4M66.4 928.56H73.3M84.3 928.56H95.5M64.8 925.89H72.4M83.6 925.89H93.7M64.7 923.22H72.9M83 923.22H93.5M69 920.55H75M86.3 920.55H94.8M68.9 917.87H74.6M84.7 917.87H94.1M66.3 915.2H75.1M85 915.2H92.9M66.9 912.53H75.8M85.2 912.53H97.7M67.1 909.86H74M88.3 909.86H95.8M68.5 907.19H74.3M83.4 907.19H92.3M68.5 904.52H74.3M86.5 904.52H94.9M67.1 901.85H74.4M86.5 901.85H93.9M65.5 899.18H73.7M85.4 899.18H97.8M70.3 896.5H76.1M86.1 896.5H97.7M70.2 893.83H76.2M87.9 893.83H97.8M70.6 891.16H77.3M87.8 891.16H99.6M69.7 888.49H77.6M90 888.49H97M71.9 885.82H80.2M89.9 885.82H98.1M69 883.15H78.6M87.6 883.15H94.7M73.8 880.48H79.7M92 880.48H102.3M73 877.81H79.1M89.6 877.81H99.7M71.3 875.13H80.5M91.2 875.13H102.2M68.3 872.46H77M89 872.46H97M73.9 869.79H79.6M91.6 869.79H102.1M70.9 867.12H78.1M91 867.12H101.8M71.8 864.45H80.2M92.5 864.45H104.9M72.8 861.78H80M91 861.78H99.5M73 859.11H79.9M92.5 859.11H101.2M72.3 856.43H80.7M91.3 856.43H104.6M73.4 853.76H80.8M90.9 853.76H102.4M75.7 851.09H81.8M93.5 851.09H105.3M74.9 848.42H80.6M92.4 848.42H100M75.1 845.75H81.6M92 845.75H100M76.4 843.08H82.4M91.6 843.08H99.1M70.8 840.41H80.6M92 840.41H99.5M74.4 837.74H82.2M94.9 837.74H107.7M74 835.06H81.2M95 835.06H104.4M76.2 832.39H82.3M93.1 832.39H100.9M69.5 829.72H79.3M111 829.72H120.3M76.9 827.05H84.4M94.2 827.05H104.7M76.8 824.38H82.6M96.9 824.38H110.3M75.2 821.71H83.5M97.7 821.71H105.3M72 819.04H80M96.8 819.04H109.8M78.3 816.37H84.1M96.9 816.37H109.5M76.3 813.69H84.1M99.4 813.69H111M67.8 811.02H76.2M91 811.02H101.3M74.8 808.35H83M96.7 808.35H106.2M76.1 805.68H84.7M99.1 805.68H110.9M75.7 803.01H83.3M97.2 803.01H109.9M79.1 800.34H88M99.5 800.34H108.6M74.8 797.67H82.1M98.8 797.67H111M75.2 794.99H85M98.6 794.99H107.4M79.3 792.32H86M99.8 792.32H107.6M78.7 789.65H85.1M98.8 789.65H108.8M76 786.98H84.8M98.3 786.98H108.7M78.2 784.31H85.2M98.4 784.31H107.9M79.8 781.64H86.2M100.6 781.64H114M79.6 778.97H86M98.4 778.97H106.6M77.8 776.3H85.2M101.4 776.3H111.7M74.8 773.62H82.6M104.7 773.62H116.4M77.5 770.95H87M102.7 770.95H116M78.5 768.28H86.8M101.8 768.28H109.5M79.6 765.61H88.2M104.2 765.61H116.9M79 762.94H89M102.5 762.94H114.3M82.7 760.27H88.2M118 760.27H141M82.7 757.6H89.4M102.3 757.6H116.3M81.6 754.93H90.3M108.3 754.93H122.1M86 752.25H91.6M104.8 752.25H114.4M84.5 749.58H92.3M111.4 749.58H120.9M84.8 746.91H93.6M106.4 746.91H120.4M83.7 744.24H93.5M106.7 744.24H120.3M83.4 741.57H93.4M108.8 741.57H121.6M88.7 738.9H97M110.8 738.9H123.7M88.8 736.23H96.5M121 736.23H131M89.1 733.56H98.5M115 733.56H123.2M87 730.88H93.9M118 730.88H130.6"/>
<path class="st" d="M58.9 941.29v1.26M92.1 941.29v1.26M62.3 938.61v1.26M88.1 938.61v1.26M67.5 935.94v1.26M90.9 935.94v1.26M64.5 933.27v1.26M90 933.27v1.26M63.8 930.6v1.26M93.4 930.6v1.26M66.4 927.93v1.26M95.5 927.93v1.26M64.8 925.26v1.26M93.7 925.26v1.26M64.7 922.59v1.26M93.5 922.59v1.26M69 919.92v1.26M94.8 919.92v1.26M68.9 917.24v1.26M94.1 917.24v1.26M66.3 914.57v1.26M92.9 914.57v1.26M66.9 911.9v1.26M97.7 911.9v1.26M67.1 909.23v1.26M95.8 909.23v1.26M68.5 906.56v1.26M92.3 906.56v1.26M68.5 903.89v1.26M94.9 903.89v1.26M67.1 901.22v1.26M93.9 901.22v1.26M65.5 898.55v1.26M97.8 898.55v1.26M70.3 895.87v1.26M97.7 895.87v1.26M70.2 893.2v1.26M97.8 893.2v1.26M70.6 890.53v1.26M99.6 890.53v1.26M69.7 887.86v1.26M97 887.86v1.26M71.9 885.19v1.26M98.1 885.19v1.26M69 882.52v1.26M94.7 882.52v1.26M73.8 879.85v1.26M102.3 879.85v1.26M73 877.18v1.26M99.7 877.18v1.26M71.3 874.5v1.26M102.2 874.5v1.26M68.3 871.83v1.26M97 871.83v1.26M73.9 869.16v1.26M102.1 869.16v1.26M70.9 866.49v1.26M101.8 866.49v1.26M71.8 863.82v1.26M104.9 863.82v1.26M72.8 861.15v1.26M99.5 861.15v1.26M73 858.48v1.26M101.2 858.48v1.26M72.3 855.8v1.26M104.6 855.8v1.26M73.4 853.13v1.26M102.4 853.13v1.26M75.7 850.46v1.26M105.3 850.46v1.26M74.9 847.79v1.26M100 847.79v1.26M75.1 845.12v1.26M100 845.12v1.26M76.4 842.45v1.26M99.1 842.45v1.26M70.8 839.78v1.26M99.5 839.78v1.26M74.4 837.11v1.26M107.7 837.11v1.26M74 834.43v1.26M104.4 834.43v1.26M76.2 831.76v1.26M100.9 831.76v1.26M69.5 829.09v1.26M120.3 829.09v1.26M76.9 826.42v1.26M104.7 826.42v1.26M76.8 823.75v1.26M110.3 823.75v1.26M75.2 821.08v1.26M105.3 821.08v1.26M72 818.41v1.26M109.8 818.41v1.26M78.3 815.74v1.26M109.5 815.74v1.26M76.3 813.06v1.26M111 813.06v1.26M67.8 810.39v1.26M101.3 810.39v1.26M74.8 807.72v1.26M106.2 807.72v1.26M76.1 805.05v1.26M110.9 805.05v1.26M75.7 802.38v1.26M109.9 802.38v1.26M79.1 799.71v1.26M108.6 799.71v1.26M74.8 797.04v1.26M111 797.04v1.26M75.2 794.36v1.26M107.4 794.36v1.26M79.3 791.69v1.26M107.6 791.69v1.26M78.7 789.02v1.26M108.8 789.02v1.26M76 786.35v1.26M108.7 786.35v1.26M78.2 783.68v1.26M107.9 783.68v1.26M79.8 781.01v1.26M114 781.01v1.26M79.6 778.34v1.26M106.6 778.34v1.26M77.8 775.67v1.26M111.7 775.67v1.26M74.8 772.99v1.26M116.4 772.99v1.26M77.5 770.32v1.26M116 770.32v1.26M78.5 767.65v1.26M109.5 767.65v1.26M79.6 764.98v1.26M116.9 764.98v1.26M79 762.31v1.26M114.3 762.31v1.26M82.7 759.64v1.26M141 759.64v1.26M82.7 756.97v1.26M116.3 756.97v1.26M81.6 754.3v1.26M122.1 754.3v1.26M86 751.62v1.26M114.4 751.62v1.26M84.5 748.95v1.26M120.9 748.95v1.26M84.8 746.28v1.26M120.4 746.28v1.26M83.7 743.61v1.26M120.3 743.61v1.26M83.4 740.94v1.26M121.6 740.94v1.26M88.7 738.27v1.26M123.7 738.27v1.26M88.8 735.6v1.26M131 735.6v1.26M89.1 732.93v1.26M123.2 732.93v1.26M87 730.25v1.26M130.6 730.25v1.26"/>
<path class="o" d="M93.2 941.92a.75 .75 0 1 0 1.5 0a.75 .75 0 1 0-1.5 0M95.8 941.92a.75 .75 0 1 0 1.5 0a.75 .75 0 1 0-1.5 0M97.7 941.92a.75 .75 0 1 0 1.5 0a.75 .75 0 1 0-1.5 0M90.1 939.24a.75 .75 0 1 0 1.5 0a.75 .75 0 1 0-1.5 0M92.6 939.24a.75 .75 0 1 0 1.5 0a.75 .75 0 1 0-1.5 0M96.1 939.24a.75 .75 0 1 0 1.5 0a.75 .75 0 1 0-1.5 0M93 936.57a.75 .75 0 1 0 1.5 0a.75 .75 0 1 0-1.5 0M92.2 933.9a.75 .75 0 1 0 1.5 0a.75 .75 0 1 0-1.5 0M61.2 933.9a.75 .75 0 1 0 1.5 0a.75 .75 0 1 0-1.5 0M95.3 931.23a.75 .75 0 1 0 1.5 0a.75 .75 0 1 0-1.5 0M98.6 931.23a.75 .75 0 1 0 1.5 0a.75 .75 0 1 0-1.5 0M101.6 931.23a.75 .75 0 1 0 1.5 0a.75 .75 0 1 0-1.5 0M60.7 931.23a.75 .75 0 1 0 1.5 0a.75 .75 0 1 0-1.5 0M96.6 928.56a.75 .75 0 1 0 1.5 0a.75 .75 0 1 0-1.5 0M99.5 928.56a.75 .75 0 1 0 1.5 0a.75 .75 0 1 0-1.5 0M62.5 928.56a.75 .75 0 1 0 1.5 0a.75 .75 0 1 0-1.5 0M61.4 925.89a.75 .75 0 1 0 1.5 0a.75 .75 0 1 0-1.5 0M95.8 923.22a.75 .75 0 1 0 1.5 0a.75 .75 0 1 0-1.5 0M99.1 923.22a.75 .75 0 1 0 1.5 0a.75 .75 0 1 0-1.5 0M61.6 923.22a.75 .75 0 1 0 1.5 0a.75 .75 0 1 0-1.5 0M97.4 920.55a.75 .75 0 1 0 1.5 0a.75 .75 0 1 0-1.5 0M100.1 920.55a.75 .75 0 1 0 1.5 0a.75 .75 0 1 0-1.5 0M66.2 920.55a.75 .75 0 1 0 1.5 0a.75 .75 0 1 0-1.5 0M96.3 917.87a.75 .75 0 1 0 1.5 0a.75 .75 0 1 0-1.5 0M98.7 917.87a.75 .75 0 1 0 1.5 0a.75 .75 0 1 0-1.5 0M66 917.87a.75 .75 0 1 0 1.5 0a.75 .75 0 1 0-1.5 0M94.9 915.2a.75 .75 0 1 0 1.5 0a.75 .75 0 1 0-1.5 0M62.7 915.2a.75 .75 0 1 0 1.5 0a.75 .75 0 1 0-1.5 0M62.9 912.53a.75 .75 0 1 0 1.5 0a.75 .75 0 1 0-1.5 0M65.7 907.19a.75 .75 0 1 0 1.5 0a.75 .75 0 1 0-1.5 0M63.7 907.19a.75 .75 0 1 0 1.5 0a.75 .75 0 1 0-1.5 0M96.2 904.52a.75 .75 0 1 0 1.5 0a.75 .75 0 1 0-1.5 0M64.5 904.52a.75 .75 0 1 0 1.5 0a.75 .75 0 1 0-1.5 0M95.8 901.85a.75 .75 0 1 0 1.5 0a.75 .75 0 1 0-1.5 0M63.4 901.85a.75 .75 0 1 0 1.5 0a.75 .75 0 1 0-1.5 0M100 899.18a.75 .75 0 1 0 1.5 0a.75 .75 0 1 0-1.5 0M99.8 896.5a.75 .75 0 1 0 1.5 0a.75 .75 0 1 0-1.5 0M102.7 896.5a.75 .75 0 1 0 1.5 0a.75 .75 0 1 0-1.5 0M105.8 896.5a.75 .75 0 1 0 1.5 0a.75 .75 0 1 0-1.5 0M66.4 896.5a.75 .75 0 1 0 1.5 0a.75 .75 0 1 0-1.5 0M66.8 893.83a.75 .75 0 1 0 1.5 0a.75 .75 0 1 0-1.5 0M100.8 891.16a.75 .75 0 1 0 1.5 0a.75 .75 0 1 0-1.5 0M67.8 891.16a.75 .75 0 1 0 1.5 0a.75 .75 0 1 0-1.5 0M99.5 888.49a.75 .75 0 1 0 1.5 0a.75 .75 0 1 0-1.5 0M99.3 885.82a.75 .75 0 1 0 1.5 0a.75 .75 0 1 0-1.5 0M102.7 885.82a.75 .75 0 1 0 1.5 0a.75 .75 0 1 0-1.5 0M68.1 885.82a.75 .75 0 1 0 1.5 0a.75 .75 0 1 0-1.5 0M96.8 883.15a.75 .75 0 1 0 1.5 0a.75 .75 0 1 0-1.5 0M99.6 883.15a.75 .75 0 1 0 1.5 0a.75 .75 0 1 0-1.5 0M70 880.48a.75 .75 0 1 0 1.5 0a.75 .75 0 1 0-1.5 0M68 880.48a.75 .75 0 1 0 1.5 0a.75 .75 0 1 0-1.5 0M101.7 877.81a.75 .75 0 1 0 1.5 0a.75 .75 0 1 0-1.5 0M69 877.81a.75 .75 0 1 0 1.5 0a.75 .75 0 1 0-1.5 0M104.7 875.13a.75 .75 0 1 0 1.5 0a.75 .75 0 1 0-1.5 0M108 875.13a.75 .75 0 1 0 1.5 0a.75 .75 0 1 0-1.5 0M110 875.13a.75 .75 0 1 0 1.5 0a.75 .75 0 1 0-1.5 0M68.5 875.13a.75 .75 0 1 0 1.5 0a.75 .75 0 1 0-1.5 0M99 872.46a.75 .75 0 1 0 1.5 0a.75 .75 0 1 0-1.5 0M101.3 872.46a.75 .75 0 1 0 1.5 0a.75 .75 0 1 0-1.5 0M104 872.46a.75 .75 0 1 0 1.5 0a.75 .75 0 1 0-1.5 0M104.4 869.79a.75 .75 0 1 0 1.5 0a.75 .75 0 1 0-1.5 0M104 867.12a.75 .75 0 1 0 1.5 0a.75 .75 0 1 0-1.5 0M106.6 867.12a.75 .75 0 1 0 1.5 0a.75 .75 0 1 0-1.5 0M109.3 867.12a.75 .75 0 1 0 1.5 0a.75 .75 0 1 0-1.5 0M107.5 864.45a.75 .75 0 1 0 1.5 0a.75 .75 0 1 0-1.5 0M68.9 864.45a.75 .75 0 1 0 1.5 0a.75 .75 0 1 0-1.5 0M66.4 864.45a.75 .75 0 1 0 1.5 0a.75 .75 0 1 0-1.5 0M103.5 859.11a.75 .75 0 1 0 1.5 0a.75 .75 0 1 0-1.5 0M105.5 859.11a.75 .75 0 1 0 1.5 0a.75 .75 0 1 0-1.5 0M106.2 856.43a.75 .75 0 1 0 1.5 0a.75 .75 0 1 0-1.5 0M108.2 856.43a.75 .75 0 1 0 1.5 0a.75 .75 0 1 0-1.5 0M104 853.76a.75 .75 0 1 0 1.5 0a.75 .75 0 1 0-1.5 0M107.4 853.76a.75 .75 0 1 0 1.5 0a.75 .75 0 1 0-1.5 0M109.4 853.76a.75 .75 0 1 0 1.5 0a.75 .75 0 1 0-1.5 0M69.3 853.76a.75 .75 0 1 0 1.5 0a.75 .75 0 1 0-1.5 0M67.1 853.76a.75 .75 0 1 0 1.5 0a.75 .75 0 1 0-1.5 0M106.6 851.09a.75 .75 0 1 0 1.5 0a.75 .75 0 1 0-1.5 0M71.6 851.09a.75 .75 0 1 0 1.5 0a.75 .75 0 1 0-1.5 0M101.5 848.42a.75 .75 0 1 0 1.5 0a.75 .75 0 1 0-1.5 0M103.3 848.42a.75 .75 0 1 0 1.5 0a.75 .75 0 1 0-1.5 0M102.6 845.75a.75 .75 0 1 0 1.5 0a.75 .75 0 1 0-1.5 0M104.9 845.75a.75 .75 0 1 0 1.5 0a.75 .75 0 1 0-1.5 0M106.9 845.75a.75 .75 0 1 0 1.5 0a.75 .75 0 1 0-1.5 0M71.7 845.75a.75 .75 0 1 0 1.5 0a.75 .75 0 1 0-1.5 0M101.1 843.08a.75 .75 0 1 0 1.5 0a.75 .75 0 1 0-1.5 0M73.5 843.08a.75 .75 0 1 0 1.5 0a.75 .75 0 1 0-1.5 0M102.2 840.41a.75 .75 0 1 0 1.5 0a.75 .75 0 1 0-1.5 0M104.9 840.41a.75 .75 0 1 0 1.5 0a.75 .75 0 1 0-1.5 0M107.1 840.41a.75 .75 0 1 0 1.5 0a.75 .75 0 1 0-1.5 0M67.5 840.41a.75 .75 0 1 0 1.5 0a.75 .75 0 1 0-1.5 0M64.6 840.41a.75 .75 0 1 0 1.5 0a.75 .75 0 1 0-1.5 0M110.4 837.74a.75 .75 0 1 0 1.5 0a.75 .75 0 1 0-1.5 0M105.6 835.06a.75 .75 0 1 0 1.5 0a.75 .75 0 1 0-1.5 0M103 832.39a.75 .75 0 1 0 1.5 0a.75 .75 0 1 0-1.5 0M106 832.39a.75 .75 0 1 0 1.5 0a.75 .75 0 1 0-1.5 0M107.8 832.39a.75 .75 0 1 0 1.5 0a.75 .75 0 1 0-1.5 0M73.4 832.39a.75 .75 0 1 0 1.5 0a.75 .75 0 1 0-1.5 0M122 829.72a.75 .75 0 1 0 1.5 0a.75 .75 0 1 0-1.5 0M105.9 827.05a.75 .75 0 1 0 1.5 0a.75 .75 0 1 0-1.5 0M109.1 827.05a.75 .75 0 1 0 1.5 0a.75 .75 0 1 0-1.5 0M111.1 827.05a.75 .75 0 1 0 1.5 0a.75 .75 0 1 0-1.5 0M112 824.38a.75 .75 0 1 0 1.5 0a.75 .75 0 1 0-1.5 0M73.7 824.38a.75 .75 0 1 0 1.5 0a.75 .75 0 1 0-1.5 0M70.2 824.38a.75 .75 0 1 0 1.5 0a.75 .75 0 1 0-1.5 0M107.6 821.71a.75 .75 0 1 0 1.5 0a.75 .75 0 1 0-1.5 0M110.8 821.71a.75 .75 0 1 0 1.5 0a.75 .75 0 1 0-1.5 0M112.9 821.71a.75 .75 0 1 0 1.5 0a.75 .75 0 1 0-1.5 0M71.7 821.71a.75 .75 0 1 0 1.5 0a.75 .75 0 1 0-1.5 0M110.9 819.04a.75 .75 0 1 0 1.5 0a.75 .75 0 1 0-1.5 0M74.6 816.37a.75 .75 0 1 0 1.5 0a.75 .75 0 1 0-1.5 0M71.9 816.37a.75 .75 0 1 0 1.5 0a.75 .75 0 1 0-1.5 0M113.4 813.69a.75 .75 0 1 0 1.5 0a.75 .75 0 1 0-1.5 0M116.7 813.69a.75 .75 0 1 0 1.5 0a.75 .75 0 1 0-1.5 0M73.3 813.69a.75 .75 0 1 0 1.5 0a.75 .75 0 1 0-1.5 0M63.7 811.02a.75 .75 0 1 0 1.5 0a.75 .75 0 1 0-1.5 0M108.2 808.35a.75 .75 0 1 0 1.5 0a.75 .75 0 1 0-1.5 0M72.2 808.35a.75 .75 0 1 0 1.5 0a.75 .75 0 1 0-1.5 0M70.3 808.35a.75 .75 0 1 0 1.5 0a.75 .75 0 1 0-1.5 0M112.7 805.68a.75 .75 0 1 0 1.5 0a.75 .75 0 1 0-1.5 0M115.3 805.68a.75 .75 0 1 0 1.5 0a.75 .75 0 1 0-1.5 0M117.3 805.68a.75 .75 0 1 0 1.5 0a.75 .75 0 1 0-1.5 0M72 805.68a.75 .75 0 1 0 1.5 0a.75 .75 0 1 0-1.5 0M111.6 803.01a.75 .75 0 1 0 1.5 0a.75 .75 0 1 0-1.5 0M115 803.01a.75 .75 0 1 0 1.5 0a.75 .75 0 1 0-1.5 0M71.6 803.01a.75 .75 0 1 0 1.5 0a.75 .75 0 1 0-1.5 0M110.1 800.34a.75 .75 0 1 0 1.5 0a.75 .75 0 1 0-1.5 0M112.1 800.34a.75 .75 0 1 0 1.5 0a.75 .75 0 1 0-1.5 0M114.5 800.34a.75 .75 0 1 0 1.5 0a.75 .75 0 1 0-1.5 0M75.7 800.34a.75 .75 0 1 0 1.5 0a.75 .75 0 1 0-1.5 0M72.4 800.34a.75 .75 0 1 0 1.5 0a.75 .75 0 1 0-1.5 0M112.2 797.67a.75 .75 0 1 0 1.5 0a.75 .75 0 1 0-1.5 0M114.6 797.67a.75 .75 0 1 0 1.5 0a.75 .75 0 1 0-1.5 0M71.7 797.67a.75 .75 0 1 0 1.5 0a.75 .75 0 1 0-1.5 0M151.8 794.99a.75 .75 0 1 0 1.5 0a.75 .75 0 1 0-1.5 0M109 794.99a.75 .75 0 1 0 1.5 0a.75 .75 0 1 0-1.5 0M72 794.99a.75 .75 0 1 0 1.5 0a.75 .75 0 1 0-1.5 0M109.1 792.32a.75 .75 0 1 0 1.5 0a.75 .75 0 1 0-1.5 0M74.6 789.65a.75 .75 0 1 0 1.5 0a.75 .75 0 1 0-1.5 0M109.8 786.98a.75 .75 0 1 0 1.5 0a.75 .75 0 1 0-1.5 0M71.9 786.98a.75 .75 0 1 0 1.5 0a.75 .75 0 1 0-1.5 0M110 784.31a.75 .75 0 1 0 1.5 0a.75 .75 0 1 0-1.5 0M75.1 784.31a.75 .75 0 1 0 1.5 0a.75 .75 0 1 0-1.5 0M116.6 781.64a.75 .75 0 1 0 1.5 0a.75 .75 0 1 0-1.5 0M75.5 781.64a.75 .75 0 1 0 1.5 0a.75 .75 0 1 0-1.5 0M76.7 778.97a.75 .75 0 1 0 1.5 0a.75 .75 0 1 0-1.5 0M113.3 776.3a.75 .75 0 1 0 1.5 0a.75 .75 0 1 0-1.5 0M115.2 776.3a.75 .75 0 1 0 1.5 0a.75 .75 0 1 0-1.5 0M74.8 776.3a.75 .75 0 1 0 1.5 0a.75 .75 0 1 0-1.5 0M117.9 773.62a.75 .75 0 1 0 1.5 0a.75 .75 0 1 0-1.5 0M73.8 770.95a.75 .75 0 1 0 1.5 0a.75 .75 0 1 0-1.5 0M112.2 768.28a.75 .75 0 1 0 1.5 0a.75 .75 0 1 0-1.5 0M114.4 768.28a.75 .75 0 1 0 1.5 0a.75 .75 0 1 0-1.5 0M116.4 768.28a.75 .75 0 1 0 1.5 0a.75 .75 0 1 0-1.5 0M75.7 768.28a.75 .75 0 1 0 1.5 0a.75 .75 0 1 0-1.5 0M117.9 765.61a.75 .75 0 1 0 1.5 0a.75 .75 0 1 0-1.5 0M119.9 765.61a.75 .75 0 1 0 1.5 0a.75 .75 0 1 0-1.5 0M122.7 765.61a.75 .75 0 1 0 1.5 0a.75 .75 0 1 0-1.5 0M115.5 762.94a.75 .75 0 1 0 1.5 0a.75 .75 0 1 0-1.5 0M117.8 762.94a.75 .75 0 1 0 1.5 0a.75 .75 0 1 0-1.5 0M143.1 760.27a.75 .75 0 1 0 1.5 0a.75 .75 0 1 0-1.5 0M78.6 760.27a.75 .75 0 1 0 1.5 0a.75 .75 0 1 0-1.5 0M117.4 757.6a.75 .75 0 1 0 1.5 0a.75 .75 0 1 0-1.5 0M77.8 754.93a.75 .75 0 1 0 1.5 0a.75 .75 0 1 0-1.5 0M81.1 749.58a.75 .75 0 1 0 1.5 0a.75 .75 0 1 0-1.5 0M79 749.58a.75 .75 0 1 0 1.5 0a.75 .75 0 1 0-1.5 0M121.9 746.91a.75 .75 0 1 0 1.5 0a.75 .75 0 1 0-1.5 0M125.3 746.91a.75 .75 0 1 0 1.5 0a.75 .75 0 1 0-1.5 0M124.3 741.57a.75 .75 0 1 0 1.5 0a.75 .75 0 1 0-1.5 0M126.8 741.57a.75 .75 0 1 0 1.5 0a.75 .75 0 1 0-1.5 0M80.6 741.57a.75 .75 0 1 0 1.5 0a.75 .75 0 1 0-1.5 0M124.9 738.9a.75 .75 0 1 0 1.5 0a.75 .75 0 1 0-1.5 0M85 738.9a.75 .75 0 1 0 1.5 0a.75 .75 0 1 0-1.5 0M133.1 736.23a.75 .75 0 1 0 1.5 0a.75 .75 0 1 0-1.5 0M135.3 736.23a.75 .75 0 1 0 1.5 0a.75 .75 0 1 0-1.5 0M85.9 733.56a.75 .75 0 1 0 1.5 0a.75 .75 0 1 0-1.5 0M83.7 733.56a.75 .75 0 1 0 1.5 0a.75 .75 0 1 0-1.5 0M131.7 730.88a.75 .75 0 1 0 1.5 0a.75 .75 0 1 0-1.5 0M83.2 730.88a.75 .75 0 1 0 1.5 0a.75 .75 0 1 0-1.5 0"/>
<path class="b" fill="#90ee90" d="M66.3 940.87h17v2.1h-17zM70.9 938.19h9.8v2.1h-9.8zM73 935.52h9.4v2.1h-9.4zM71.9 932.85h11v2.1h-11zM72.3 930.18h10.3v2.1h-10.3zM73.3 927.51h11.1v2.1h-11.1zM72.4 924.84h11.1v2.1h-11.1zM72.9 922.17h10.1v2.1h-10.1zM75 919.5h11.3v2.1h-11.3zM74.6 916.82h10.1v2.1h-10.1zM75.1 914.15h9.9v2.1h-9.9zM75.8 911.48h9.4v2.1h-9.4zM74.3 906.14h9v2.1h-9zM74.3 903.47h12.3v2.1h-12.3zM74.4 900.8h12.1v2.1h-12.1zM73.7 898.13h11.7v2.1h-11.7zM76.2 892.78h11.7v2.1h-11.7zM77.3 890.11h10.5v2.1h-10.5zM77.6 887.44h12.4v2.1h-12.4zM78.6 882.1h8.9v2.1h-8.9zM79.1 876.76h10.5v2.1h-10.5zM80.5 874.08h10.6v2.1h-10.6zM77 871.41h12v2.1h-12zM78.1 866.07h12.9v2.1h-12.9zM80.2 863.4h12.3v2.1h-12.3zM80 860.73h11.1v2.1h-11.1zM80.7 855.38h10.6v2.1h-10.6zM80.8 852.71h10.2v2.1h-10.2zM81.8 850.04h11.6v2.1h-11.6zM80.6 847.37h11.8v2.1h-11.8zM81.6 844.7h10.4v2.1h-10.4zM82.4 842.03h9.2v2.1h-9.2zM80.6 839.36h11.3v2.1h-11.3zM82.2 836.69h12.7v2.1h-12.7zM81.2 834.01h13.8v2.1h-13.8zM79.3 828.67h31.7v2.1h-31.7zM82.6 823.33h14.4v2.1h-14.4zM83.5 820.66h14.3v2.1h-14.3zM80 817.99h16.8v2.1h-16.8zM84.1 815.32h12.8v2.1h-12.8zM84.1 812.64h15.3v2.1h-15.3zM76.2 809.97h14.8v2.1h-14.8zM83 807.3h13.7v2.1h-13.7zM84.7 804.63h14.4v2.1h-14.4zM83.3 801.96h14v2.1h-14zM88 799.29h11.5v2.1h-11.5zM82.1 796.62h16.7v2.1h-16.7zM85 793.94h13.6v2.1h-13.6zM86 791.27h13.8v2.1h-13.8zM85.1 788.6h13.8v2.1h-13.8zM84.8 785.93h13.4v2.1h-13.4zM85.2 783.26h13.2v2.1h-13.2zM86 777.92h12.4v2.1h-12.4zM85.2 775.25h16.2v2.1h-16.2zM87 769.9h15.7v2.1h-15.7zM86.8 767.23h15.1v2.1h-15.1zM89 761.89h13.5v2.1h-13.5zM89.4 756.55h12.9v2.1h-12.9zM90.3 753.88h18v2.1h-18zM91.6 751.2h13.2v2.1h-13.2zM93.6 745.86h12.8v2.1h-12.8zM93.5 743.19h13.2v2.1h-13.2z"/>
<path class="b" fill="#0000ff" d="M74 908.81h14.3v2.1h-14.3zM76.1 895.45h10v2.1h-10zM80.2 884.77h9.7v2.1h-9.7zM79.7 879.43h12.2v2.1h-12.2zM79.6 868.74h12v2.1h-12zM79.9 858.06h12.5v2.1h-12.5zM82.3 831.34h10.8v2.1h-10.8zM84.4 826h9.8v2.1h-9.8zM86.2 780.59h14.4v2.1h-14.4zM82.6 772.57h22.1v2.1h-22.1zM88.2 764.56h16v2.1h-16zM88.2 759.22h29.8v2.1h-29.8zM92.3 748.53h19.1v2.1h-19.1zM93.4 740.52h15.4v2.1h-15.4zM97 737.85h13.8v2.1h-13.8zM96.5 735.18h24.5v2.1h-24.5zM98.5 732.51h16.5v2.1h-16.5zM93.9 729.83h24.1v2.1h-24.1z"/>
<path class="m" d="M73 940.58v2.67M74.9 937.91v2.67M77.5 935.24v2.67M77.3 932.57v2.67M77.1 929.9v2.67M79.5 927.22v2.67M77 924.55v2.67M78.3 921.88v2.67M80.3 919.21v2.67M79.4 916.54v2.67M80.5 913.87v2.67M80.4 911.2v2.67M80 908.52v2.67M78.3 905.85v2.67M80.2 903.18v2.67M80.6 900.51v2.67M79.9 897.84v2.67M80.5 895.17v2.67M81 892.5v2.67M81.5 889.83v2.67M82.6 887.15v2.67M84.3 884.48v2.67M82.6 881.81v2.67M84.7 879.14v2.67M85 876.47v2.67M84.4 873.8v2.67M82.6 871.13v2.67M84.7 868.46v2.67M83.7 865.78v2.67M85.1 863.11v2.67M84.5 860.44v2.67M86 857.77v2.67M86.1 855.1v2.67M85.4 852.43v2.67M86.2 849.76v2.67M85.8 847.09v2.67M86.9 844.41v2.67M86.8 841.74v2.67M85.1 839.07v2.67M87.9 836.4v2.67M87.5 833.73v2.67M89 831.06v2.67M89 828.39v2.67M89 825.71v2.67M88.4 823.04v2.67M88.8 820.37v2.67M87.5 817.7v2.67M89.4 815.03v2.67M91.4 812.36v2.67M89 809.69v2.67M89.9 807.02v2.67M90.4 804.34v2.67M91.2 801.67v2.67M93.1 799v2.67M90.1 796.33v2.67M91 793.66v2.67M92.1 790.99v2.67M90.8 788.32v2.67M92.1 785.65v2.67M90.5 782.97v2.67M92 780.3v2.67M91.9 777.63v2.67M92.4 774.96v2.67M92.8 772.29v2.67M92.9 769.62v2.67M93.9 766.95v2.67M92.9 764.27v2.67M93.6 761.6v2.67M94.4 758.93v2.67M95.4 756.26v2.67M96.5 753.59v2.67M97.2 750.92v2.67M97.7 748.25v2.67M98.7 745.58v2.67M99.5 742.9v2.67M104.2 740.23v2.67M105.2 737.56v2.67M106.5 734.89v2.67M108.8 732.22v2.67M109.3 729.55v2.67"/>
</g>
<line x1="86.9" y1="721.0" x2="86.9" y2="951.8" class="r"/>
<rect x="23.5" y="721.0" width="169.0" height="230.79999999999995" class="f"/>
<text x="189.3" y="931.6" class="lb" text-anchor="end">Tongue</text>
<text x="186.7" y="946.6" class="lb" text-anchor="end" font-style="italic">p = 0.012</text>
<line x1="217.2" y1="782.9" x2="385.0" y2="782.9" class="d"/>
<line x1="217.2" y1="890.0" x2="385.0" y2="890.0" class="d"/>
<path d="M212.2 941.92H217.2M212.2 939.24H217.2M212.2 936.57H217.2M212.2 933.90H217.2M212.2 931.23H217.2M212.2 928.56H217.2M212.2 925.89H217.2M212.2 923.22H217.2M212.2 920.55H217.2M212.2 917.87H217.2M212.2 915.20H217.2M212.2 912.53H217.2M212.2 909.86H217.2M212.2 907.19H217.2M212.2 904.52H217.2M212.2 901.85H217.2M212.2 899.18H217.2M212.2 896.50H217.2M212.2 893.83H217.2M212.2 891.16H217.2M212.2 888.49H217.2M212.2 885.82H217.2M212.2 883.15H217.2M212.2 880.48H217.2M212.2 877.81H217.2M212.2 875.13H217.2M212.2 872.46H217.2M212.2 869.79H217.2M212.2 867.12H217.2M212.2 864.45H217.2M212.2 861.78H217.2M212.2 859.11H217.2M212.2 856.43H217.2M212.2 853.76H217.2M212.2 851.09H217.2M212.2 848.42H217.2M212.2 845.75H217.2M212.2 843.08H217.2M212.2 840.41H217.2M212.2 837.74H217.2M212.2 835.06H217.2M212.2 832.39H217.2M212.2 829.72H217.2M212.2 827.05H217.2M212.2 824.38H217.2M212.2 821.71H217.2M212.2 819.04H217.2M212.2 816.37H217.2M212.2 813.69H217.2M212.2 811.02H217.2M212.2 808.35H217.2M212.2 805.68H217.2M212.2 803.01H217.2M212.2 800.34H217.2M212.2 797.67H217.2M212.2 794.99H217.2M212.2 792.32H217.2M212.2 789.65H217.2M212.2 786.98H217.2M212.2 784.31H217.2M212.2 781.64H217.2M212.2 778.97H217.2M212.2 776.30H217.2M212.2 773.62H217.2M212.2 770.95H217.2M212.2 768.28H217.2M212.2 765.61H217.2M212.2 762.94H217.2M212.2 760.27H217.2M212.2 757.60H217.2M212.2 754.93H217.2M212.2 752.25H217.2M212.2 749.58H217.2M212.2 746.91H217.2M212.2 744.24H217.2M212.2 741.57H217.2M212.2 738.90H217.2M212.2 736.23H217.2M212.2 733.56H217.2M212.2 730.88H217.2" class="t"/>
<path d="M223.0 951.8V956.3M254.1 951.8V956.3M285.2 951.8V956.3M316.3 951.8V956.3M347.4 951.8V956.3M378.5 951.8V956.3" class="t"/>
<clipPath id="cB4"><rect x="217.2" y="721.0" width="167.8" height="230.79999999999995"/></clipPath><g clip-path="url(#cB4)">
<path class="w" d="M235.2 941.92H244.2M266.5 941.92H283.4M231.9 939.24H246.4M266.4 939.24H281.4M231.2 936.57H244.2M265.6 936.57H284.1M236.2 933.9H245.8M271.4 933.9H286.3M233.6 931.23H247.4M269.2 931.23H291.8M234.2 928.56H247M276.2 928.56H294.5M240.1 925.89H249.7M275.4 925.89H301M238.7 923.22H253.5M274.3 923.22H293.2M236.8 920.55H249.7M278.5 920.55H294.7M239.9 917.87H251.7M275.4 917.87H297.7M241.9 915.2H254.3M282.8 915.2H298.2M240.8 912.53H250.6M278.3 912.53H304.2M239.3 909.86H251.3M274.6 909.86H294.4M235.2 907.19H250.3M281 907.19H307M237.2 904.52H252.7M284.1 904.52H302.3M241.5 901.85H255.8M317.4 901.85H327.4M233.4 899.18H247.9M280.1 899.18H305.1M240.6 896.5H253.9M280 896.5H297.6M240 893.83H250.7M282.9 893.83H305.3M232.3 891.16H249.5M280 891.16H306.5M240 888.49H256.5M286.3 888.49H310.3M237.8 885.82H253.7M278.6 885.82H297.9M240.1 883.15H258M282.7 883.15H298.3M240.1 880.48H254.1M286.7 880.48H308.8M243 877.81H256.6M286.6 877.81H313.5M242.8 875.13H257M286 875.13H302.7M247.4 872.46H257.9M283.6 872.46H303.4M240.9 869.79H256.1M279.9 869.79H296.7M238.1 867.12H254.1M286.2 867.12H307.5M234.7 864.45H250.6M280.6 864.45H296.3M241.1 861.78H253.8M285.3 861.78H311.5M233.5 859.11H250.3M279.3 859.11H303.2M240.7 856.43H254.8M280.2 856.43H307.9M245.1 853.76H257.6M286.4 853.76H305.8M244.3 851.09H255M287.9 851.09H316.1M245.7 848.42H257.7M284.1 848.42H308.9M242.9 845.75H256.1M287.2 845.75H309.6M233.9 843.08H253.5M289.7 843.08H318.3M233.7 840.41H252.8M287.9 840.41H316.3M240.4 837.74H258.2M284.5 837.74H308M234.8 835.06H253.1M285.3 835.06H302.5M242.3 832.39H260M289.4 832.39H309.4M239.9 829.72H254.3M313 829.72H333.8M240.3 827.05H259.1M289.5 827.05H316.9M245.8 824.38H260.2M287.5 824.38H310.4M235.6 821.71H257.1M293.3 821.71H313.5M247.3 819.04H259.8M286.8 819.04H313.6M249.8 816.37H263.8M291.5 816.37H310.3M236.6 813.69H257.8M288.1 813.69H309.1M242.1 811.02H259.3M294.1 811.02H318.4M239.1 808.35H260.4M295.9 808.35H323.2M242.8 805.68H264.3M292.1 805.68H312.9M245.3 803.01H265.1M296.7 803.01H318.3M239.9 800.34H262.7M292 800.34H307.8M247.7 797.67H262.7M296 797.67H312M240.3 794.99H257.5M323.5 794.99H350M248.6 792.32H263.6M294.3 792.32H312.8M237.7 789.65H260.3M301.3 789.65H329M241.4 786.98H256.7M293.6 786.98H319.9M242.8 784.31H258.1M299.8 784.31H318.2M238.1 781.64H259.5M303.7 781.64H325.5M243.2 778.97H264.3M294.9 778.97H318.5M238 776.3H258.2M302.9 776.3H327.3M232.6 773.62H254.4M299.1 773.62H314.6M241.4 770.95H259.2M296.9 770.95H317.7M240.6 768.28H256M298 768.28H321.1M234.4 765.61H255.7M303.6 765.61H321.6M240.3 762.94H264.6M301.5 762.94H317.7M233.8 760.27H257.6M305.8 760.27H324.8M244.1 757.6H263.6M302.6 757.6H326.2M242.8 754.93H261.2M312.1 754.93H327.8M242.9 752.25H270M311.3 752.25H338M246.8 749.58H265.6M315.2 749.58H330.3M250.1 746.91H271.5M315.5 746.91H341.2M253.1 744.24H273.3M316.3 744.24H336.3M257.5 741.57H274.4M328.4 741.57H344.3M254.8 738.9H273.3M322.2 738.9H343.9M268 736.23H284.7M330.6 736.23H356.3M257.2 733.56H277.4M335.5 733.56H354.1M263.2 730.88H293.2M340 730.88H345"/>
<path class="st" d="M235.2 941.29v1.26M283.4 941.29v1.26M231.9 938.61v1.26M281.4 938.61v1.26M231.2 935.94v1.26M284.1 935.94v1.26M236.2 933.27v1.26M286.3 933.27v1.26M233.6 930.6v1.26M291.8 930.6v1.26M234.2 927.93v1.26M294.5 927.93v1.26M240.1 925.26v1.26M301 925.26v1.26M238.7 922.59v1.26M293.2 922.59v1.26M236.8 919.92v1.26M294.7 919.92v1.26M239.9 917.24v1.26M297.7 917.24v1.26M241.9 914.57v1.26M298.2 914.57v1.26M240.8 911.9v1.26M304.2 911.9v1.26M239.3 909.23v1.26M294.4 909.23v1.26M235.2 906.56v1.26M307 906.56v1.26M237.2 903.89v1.26M302.3 903.89v1.26M241.5 901.22v1.26M327.4 901.22v1.26M233.4 898.55v1.26M305.1 898.55v1.26M240.6 895.87v1.26M297.6 895.87v1.26M240 893.2v1.26M305.3 893.2v1.26M232.3 890.53v1.26M306.5 890.53v1.26M240 887.86v1.26M310.3 887.86v1.26M237.8 885.19v1.26M297.9 885.19v1.26M240.1 882.52v1.26M298.3 882.52v1.26M240.1 879.85v1.26M308.8 879.85v1.26M243 877.18v1.26M313.5 877.18v1.26M242.8 874.5v1.26M302.7 874.5v1.26M247.4 871.83v1.26M303.4 871.83v1.26M240.9 869.16v1.26M296.7 869.16v1.26M238.1 866.49v1.26M307.5 866.49v1.26M234.7 863.82v1.26M296.3 863.82v1.26M241.1 861.15v1.26M311.5 861.15v1.26M233.5 858.48v1.26M303.2 858.48v1.26M240.7 855.8v1.26M307.9 855.8v1.26M245.1 853.13v1.26M305.8 853.13v1.26M244.3 850.46v1.26M316.1 850.46v1.26M245.7 847.79v1.26M308.9 847.79v1.26M242.9 845.12v1.26M309.6 845.12v1.26M233.9 842.45v1.26M318.3 842.45v1.26M233.7 839.78v1.26M316.3 839.78v1.26M240.4 837.11v1.26M308 837.11v1.26M234.8 834.43v1.26M302.5 834.43v1.26M242.3 831.76v1.26M309.4 831.76v1.26M239.9 829.09v1.26M333.8 829.09v1.26M240.3 826.42v1.26M316.9 826.42v1.26M245.8 823.75v1.26M310.4 823.75v1.26M235.6 821.08v1.26M313.5 821.08v1.26M247.3 818.41v1.26M313.6 818.41v1.26M249.8 815.74v1.26M310.3 815.74v1.26M236.6 813.06v1.26M309.1 813.06v1.26M242.1 810.39v1.26M318.4 810.39v1.26M239.1 807.72v1.26M323.2 807.72v1.26M242.8 805.05v1.26M312.9 805.05v1.26M245.3 802.38v1.26M318.3 802.38v1.26M239.9 799.71v1.26M307.8 799.71v1.26M247.7 797.04v1.26M312 797.04v1.26M240.3 794.36v1.26M350 794.36v1.26M248.6 791.69v1.26M312.8 791.69v1.26M237.7 789.02v1.26M329 789.02v1.26M241.4 786.35v1.26M319.9 786.35v1.26M242.8 783.68v1.26M318.2 783.68v1.26M238.1 781.01v1.26M325.5 781.01v1.26M243.2 778.34v1.26M318.5 778.34v1.26M238 775.67v1.26M327.3 775.67v1.26M232.6 772.99v1.26M314.6 772.99v1.26M241.4 770.32v1.26M317.7 770.32v1.26M240.6 767.65v1.26M321.1 767.65v1.26M234.4 764.98v1.26M321.6 764.98v1.26M240.3 762.31v1.26M317.7 762.31v1.26M233.8 759.64v1.26M324.8 759.64v1.26M244.1 756.97v1.26M326.2 756.97v1.26M242.8 754.3v1.26M327.8 754.3v1.26M242.9 751.62v1.26M338 751.62v1.26M246.8 748.95v1.26M330.3 748.95v1.26M250.1 746.28v1.26M341.2 746.28v1.26M253.1 743.61v1.26M336.3 743.61v1.26M257.5 740.94v1.26M344.3 740.94v1.26M254.8 738.27v1.26M343.9 738.27v1.26M268 735.6v1.26M356.3 735.6v1.26M257.2 732.93v1.26M354.1 732.93v1.26M263.2 730.25v1.26M345 730.25v1.26"/>
<path class="o" d="M285.6 941.92a.75 .75 0 1 0 1.5 0a.75 .75 0 1 0-1.5 0M231.9 941.92a.75 .75 0 1 0 1.5 0a.75 .75 0 1 0-1.5 0M229.3 941.92a.75 .75 0 1 0 1.5 0a.75 .75 0 1 0-1.5 0M228.9 939.24a.75 .75 0 1 0 1.5 0a.75 .75 0 1 0-1.5 0M226.5 939.24a.75 .75 0 1 0 1.5 0a.75 .75 0 1 0-1.5 0M223.1 939.24a.75 .75 0 1 0 1.5 0a.75 .75 0 1 0-1.5 0M220.7 939.24a.75 .75 0 1 0 1.5 0a.75 .75 0 1 0-1.5 0M286.4 936.57a.75 .75 0 1 0 1.5 0a.75 .75 0 1 0-1.5 0M289 936.57a.75 .75 0 1 0 1.5 0a.75 .75 0 1 0-1.5 0M227.5 936.57a.75 .75 0 1 0 1.5 0a.75 .75 0 1 0-1.5 0M287.7 933.9a.75 .75 0 1 0 1.5 0a.75 .75 0 1 0-1.5 0M291.1 933.9a.75 .75 0 1 0 1.5 0a.75 .75 0 1 0-1.5 0M293.8 933.9a.75 .75 0 1 0 1.5 0a.75 .75 0 1 0-1.5 0M232.4 933.9a.75 .75 0 1 0 1.5 0a.75 .75 0 1 0-1.5 0M229.1 933.9a.75 .75 0 1 0 1.5 0a.75 .75 0 1 0-1.5 0M226.8 933.9a.75 .75 0 1 0 1.5 0a.75 .75 0 1 0-1.5 0M224.4 933.9a.75 .75 0 1 0 1.5 0a.75 .75 0 1 0-1.5 0M294 931.23a.75 .75 0 1 0 1.5 0a.75 .75 0 1 0-1.5 0M296.3 931.23a.75 .75 0 1 0 1.5 0a.75 .75 0 1 0-1.5 0M298.7 931.23a.75 .75 0 1 0 1.5 0a.75 .75 0 1 0-1.5 0M230.6 931.23a.75 .75 0 1 0 1.5 0a.75 .75 0 1 0-1.5 0M227.7 931.23a.75 .75 0 1 0 1.5 0a.75 .75 0 1 0-1.5 0M224.5 931.23a.75 .75 0 1 0 1.5 0a.75 .75 0 1 0-1.5 0M295.9 928.56a.75 .75 0 1 0 1.5 0a.75 .75 0 1 0-1.5 0M297.8 928.56a.75 .75 0 1 0 1.5 0a.75 .75 0 1 0-1.5 0M231.3 928.56a.75 .75 0 1 0 1.5 0a.75 .75 0 1 0-1.5 0M235.9 925.89a.75 .75 0 1 0 1.5 0a.75 .75 0 1 0-1.5 0M295.8 923.22a.75 .75 0 1 0 1.5 0a.75 .75 0 1 0-1.5 0M297.8 923.22a.75 .75 0 1 0 1.5 0a.75 .75 0 1 0-1.5 0M300.5 923.22a.75 .75 0 1 0 1.5 0a.75 .75 0 1 0-1.5 0M303 923.22a.75 .75 0 1 0 1.5 0a.75 .75 0 1 0-1.5 0M236 923.22a.75 .75 0 1 0 1.5 0a.75 .75 0 1 0-1.5 0M234.1 923.22a.75 .75 0 1 0 1.5 0a.75 .75 0 1 0-1.5 0M296 920.55a.75 .75 0 1 0 1.5 0a.75 .75 0 1 0-1.5 0M298.8 920.55a.75 .75 0 1 0 1.5 0a.75 .75 0 1 0-1.5 0M301 920.55a.75 .75 0 1 0 1.5 0a.75 .75 0 1 0-1.5 0M232.7 920.55a.75 .75 0 1 0 1.5 0a.75 .75 0 1 0-1.5 0M230.3 920.55a.75 .75 0 1 0 1.5 0a.75 .75 0 1 0-1.5 0M227.4 920.55a.75 .75 0 1 0 1.5 0a.75 .75 0 1 0-1.5 0M225.4 920.55a.75 .75 0 1 0 1.5 0a.75 .75 0 1 0-1.5 0M237.3 917.87a.75 .75 0 1 0 1.5 0a.75 .75 0 1 0-1.5 0M233.9 917.87a.75 .75 0 1 0 1.5 0a.75 .75 0 1 0-1.5 0M230.8 917.87a.75 .75 0 1 0 1.5 0a.75 .75 0 1 0-1.5 0M300.6 915.2a.75 .75 0 1 0 1.5 0a.75 .75 0 1 0-1.5 0M303 915.2a.75 .75 0 1 0 1.5 0a.75 .75 0 1 0-1.5 0M305 915.2a.75 .75 0 1 0 1.5 0a.75 .75 0 1 0-1.5 0M238.1 915.2a.75 .75 0 1 0 1.5 0a.75 .75 0 1 0-1.5 0M235.2 915.2a.75 .75 0 1 0 1.5 0a.75 .75 0 1 0-1.5 0M305.6 912.53a.75 .75 0 1 0 1.5 0a.75 .75 0 1 0-1.5 0M307.7 912.53a.75 .75 0 1 0 1.5 0a.75 .75 0 1 0-1.5 0M237.5 912.53a.75 .75 0 1 0 1.5 0a.75 .75 0 1 0-1.5 0M235.5 912.53a.75 .75 0 1 0 1.5 0a.75 .75 0 1 0-1.5 0M296.3 909.86a.75 .75 0 1 0 1.5 0a.75 .75 0 1 0-1.5 0M299.3 909.86a.75 .75 0 1 0 1.5 0a.75 .75 0 1 0-1.5 0M301.5 909.86a.75 .75 0 1 0 1.5 0a.75 .75 0 1 0-1.5 0M303.7 909.86a.75 .75 0 1 0 1.5 0a.75 .75 0 1 0-1.5 0M306.3 909.86a.75 .75 0 1 0 1.5 0a.75 .75 0 1 0-1.5 0M235.4 909.86a.75 .75 0 1 0 1.5 0a.75 .75 0 1 0-1.5 0M232.5 909.86a.75 .75 0 1 0 1.5 0a.75 .75 0 1 0-1.5 0M230.7 909.86a.75 .75 0 1 0 1.5 0a.75 .75 0 1 0-1.5 0M308.6 907.19a.75 .75 0 1 0 1.5 0a.75 .75 0 1 0-1.5 0M231.7 907.19a.75 .75 0 1 0 1.5 0a.75 .75 0 1 0-1.5 0M228.2 907.19a.75 .75 0 1 0 1.5 0a.75 .75 0 1 0-1.5 0M225.8 907.19a.75 .75 0 1 0 1.5 0a.75 .75 0 1 0-1.5 0M222.4 907.19a.75 .75 0 1 0 1.5 0a.75 .75 0 1 0-1.5 0M304 904.52a.75 .75 0 1 0 1.5 0a.75 .75 0 1 0-1.5 0M233 904.52a.75 .75 0 1 0 1.5 0a.75 .75 0 1 0-1.5 0M229.8 904.52a.75 .75 0 1 0 1.5 0a.75 .75 0 1 0-1.5 0M329.1 901.85a.75 .75 0 1 0 1.5 0a.75 .75 0 1 0-1.5 0M332 901.85a.75 .75 0 1 0 1.5 0a.75 .75 0 1 0-1.5 0M334.8 901.85a.75 .75 0 1 0 1.5 0a.75 .75 0 1 0-1.5 0M337.7 901.85a.75 .75 0 1 0 1.5 0a.75 .75 0 1 0-1.5 0M339.9 901.85a.75 .75 0 1 0 1.5 0a.75 .75 0 1 0-1.5 0M237.6 901.85a.75 .75 0 1 0 1.5 0a.75 .75 0 1 0-1.5 0M234.9 901.85a.75 .75 0 1 0 1.5 0a.75 .75 0 1 0-1.5 0M233 901.85a.75 .75 0 1 0 1.5 0a.75 .75 0 1 0-1.5 0M230.9 901.85a.75 .75 0 1 0 1.5 0a.75 .75 0 1 0-1.5 0M306.6 899.18a.75 .75 0 1 0 1.5 0a.75 .75 0 1 0-1.5 0M310.1 899.18a.75 .75 0 1 0 1.5 0a.75 .75 0 1 0-1.5 0M229.8 899.18a.75 .75 0 1 0 1.5 0a.75 .75 0 1 0-1.5 0M227.6 899.18a.75 .75 0 1 0 1.5 0a.75 .75 0 1 0-1.5 0M225.3 899.18a.75 .75 0 1 0 1.5 0a.75 .75 0 1 0-1.5 0M299.2 896.5a.75 .75 0 1 0 1.5 0a.75 .75 0 1 0-1.5 0M302.4 896.5a.75 .75 0 1 0 1.5 0a.75 .75 0 1 0-1.5 0M305.5 896.5a.75 .75 0 1 0 1.5 0a.75 .75 0 1 0-1.5 0M308 896.5a.75 .75 0 1 0 1.5 0a.75 .75 0 1 0-1.5 0M237 896.5a.75 .75 0 1 0 1.5 0a.75 .75 0 1 0-1.5 0M309 891.16a.75 .75 0 1 0 1.5 0a.75 .75 0 1 0-1.5 0M311.9 891.16a.75 .75 0 1 0 1.5 0a.75 .75 0 1 0-1.5 0M314.2 891.16a.75 .75 0 1 0 1.5 0a.75 .75 0 1 0-1.5 0M316.1 891.16a.75 .75 0 1 0 1.5 0a.75 .75 0 1 0-1.5 0M228.2 891.16a.75 .75 0 1 0 1.5 0a.75 .75 0 1 0-1.5 0M311.9 888.49a.75 .75 0 1 0 1.5 0a.75 .75 0 1 0-1.5 0M314.3 888.49a.75 .75 0 1 0 1.5 0a.75 .75 0 1 0-1.5 0M236.9 888.49a.75 .75 0 1 0 1.5 0a.75 .75 0 1 0-1.5 0M299.2 885.82a.75 .75 0 1 0 1.5 0a.75 .75 0 1 0-1.5 0M302.2 885.82a.75 .75 0 1 0 1.5 0a.75 .75 0 1 0-1.5 0M235.2 885.82a.75 .75 0 1 0 1.5 0a.75 .75 0 1 0-1.5 0M232.5 885.82a.75 .75 0 1 0 1.5 0a.75 .75 0 1 0-1.5 0M300.3 883.15a.75 .75 0 1 0 1.5 0a.75 .75 0 1 0-1.5 0M237 883.15a.75 .75 0 1 0 1.5 0a.75 .75 0 1 0-1.5 0M310 880.48a.75 .75 0 1 0 1.5 0a.75 .75 0 1 0-1.5 0M237 880.48a.75 .75 0 1 0 1.5 0a.75 .75 0 1 0-1.5 0M234.5 880.48a.75 .75 0 1 0 1.5 0a.75 .75 0 1 0-1.5 0M232.4 880.48a.75 .75 0 1 0 1.5 0a.75 .75 0 1 0-1.5 0M229.3 880.48a.75 .75 0 1 0 1.5 0a.75 .75 0 1 0-1.5 0M315.7 877.81a.75 .75 0 1 0 1.5 0a.75 .75 0 1 0-1.5 0M319.2 877.81a.75 .75 0 1 0 1.5 0a.75 .75 0 1 0-1.5 0M321.8 877.81a.75 .75 0 1 0 1.5 0a.75 .75 0 1 0-1.5 0M324.3 877.81a.75 .75 0 1 0 1.5 0a.75 .75 0 1 0-1.5 0M327.5 877.81a.75 .75 0 1 0 1.5 0a.75 .75 0 1 0-1.5 0M239.6 877.81a.75 .75 0 1 0 1.5 0a.75 .75 0 1 0-1.5 0M305.4 875.13a.75 .75 0 1 0 1.5 0a.75 .75 0 1 0-1.5 0M308.1 875.13a.75 .75 0 1 0 1.5 0a.75 .75 0 1 0-1.5 0M311.5 875.13a.75 .75 0 1 0 1.5 0a.75 .75 0 1 0-1.5 0M239.8 875.13a.75 .75 0 1 0 1.5 0a.75 .75 0 1 0-1.5 0M237.6 875.13a.75 .75 0 1 0 1.5 0a.75 .75 0 1 0-1.5 0M234.9 875.13a.75 .75 0 1 0 1.5 0a.75 .75 0 1 0-1.5 0M231.8 875.13a.75 .75 0 1 0 1.5 0a.75 .75 0 1 0-1.5 0M305.6 872.46a.75 .75 0 1 0 1.5 0a.75 .75 0 1 0-1.5 0M308.5 872.46a.75 .75 0 1 0 1.5 0a.75 .75 0 1 0-1.5 0M244.6 872.46a.75 .75 0 1 0 1.5 0a.75 .75 0 1 0-1.5 0M241.7 872.46a.75 .75 0 1 0 1.5 0a.75 .75 0 1 0-1.5 0M298.8 869.79a.75 .75 0 1 0 1.5 0a.75 .75 0 1 0-1.5 0M302.2 869.79a.75 .75 0 1 0 1.5 0a.75 .75 0 1 0-1.5 0M304.2 869.79a.75 .75 0 1 0 1.5 0a.75 .75 0 1 0-1.5 0M236.6 869.79a.75 .75 0 1 0 1.5 0a.75 .75 0 1 0-1.5 0M234.8 869.79a.75 .75 0 1 0 1.5 0a.75 .75 0 1 0-1.5 0M231.9 869.79a.75 .75 0 1 0 1.5 0a.75 .75 0 1 0-1.5 0M309.2 867.12a.75 .75 0 1 0 1.5 0a.75 .75 0 1 0-1.5 0M235 867.12a.75 .75 0 1 0 1.5 0a.75 .75 0 1 0-1.5 0M232.6 867.12a.75 .75 0 1 0 1.5 0a.75 .75 0 1 0-1.5 0M298.8 864.45a.75 .75 0 1 0 1.5 0a.75 .75 0 1 0-1.5 0M301.2 864.45a.75 .75 0 1 0 1.5 0a.75 .75 0 1 0-1.5 0M303 864.45a.75 .75 0 1 0 1.5 0a.75 .75 0 1 0-1.5 0M305.2 864.45a.75 .75 0 1 0 1.5 0a.75 .75 0 1 0-1.5 0M307.6 864.45a.75 .75 0 1 0 1.5 0a.75 .75 0 1 0-1.5 0M231.5 864.45a.75 .75 0 1 0 1.5 0a.75 .75 0 1 0-1.5 0M228.8 864.45a.75 .75 0 1 0 1.5 0a.75 .75 0 1 0-1.5 0M226.5 864.45a.75 .75 0 1 0 1.5 0a.75 .75 0 1 0-1.5 0M223.6 864.45a.75 .75 0 1 0 1.5 0a.75 .75 0 1 0-1.5 0M313.7 861.78a.75 .75 0 1 0 1.5 0a.75 .75 0 1 0-1.5 0M315.6 861.78a.75 .75 0 1 0 1.5 0a.75 .75 0 1 0-1.5 0M318.9 861.78a.75 .75 0 1 0 1.5 0a.75 .75 0 1 0-1.5 0M237.8 861.78a.75 .75 0 1 0 1.5 0a.75 .75 0 1 0-1.5 0M235.8 861.78a.75 .75 0 1 0 1.5 0a.75 .75 0 1 0-1.5 0M304.6 859.11a.75 .75 0 1 0 1.5 0a.75 .75 0 1 0-1.5 0M307.3 859.11a.75 .75 0 1 0 1.5 0a.75 .75 0 1 0-1.5 0M310.1 859.11a.75 .75 0 1 0 1.5 0a.75 .75 0 1 0-1.5 0M313.2 859.11a.75 .75 0 1 0 1.5 0a.75 .75 0 1 0-1.5 0M230 859.11a.75 .75 0 1 0 1.5 0a.75 .75 0 1 0-1.5 0M228.2 859.11a.75 .75 0 1 0 1.5 0a.75 .75 0 1 0-1.5 0M308.1 853.76a.75 .75 0 1 0 1.5 0a.75 .75 0 1 0-1.5 0M310.9 853.76a.75 .75 0 1 0 1.5 0a.75 .75 0 1 0-1.5 0M313.8 853.76a.75 .75 0 1 0 1.5 0a.75 .75 0 1 0-1.5 0M315.6 853.76a.75 .75 0 1 0 1.5 0a.75 .75 0 1 0-1.5 0M318.8 853.76a.75 .75 0 1 0 1.5 0a.75 .75 0 1 0-1.5 0M318 851.09a.75 .75 0 1 0 1.5 0a.75 .75 0 1 0-1.5 0M321.5 851.09a.75 .75 0 1 0 1.5 0a.75 .75 0 1 0-1.5 0M324.5 851.09a.75 .75 0 1 0 1.5 0a.75 .75 0 1 0-1.5 0M328 851.09a.75 .75 0 1 0 1.5 0a.75 .75 0 1 0-1.5 0M240.2 851.09a.75 .75 0 1 0 1.5 0a.75 .75 0 1 0-1.5 0M310.5 848.42a.75 .75 0 1 0 1.5 0a.75 .75 0 1 0-1.5 0M313.3 848.42a.75 .75 0 1 0 1.5 0a.75 .75 0 1 0-1.5 0M316.2 848.42a.75 .75 0 1 0 1.5 0a.75 .75 0 1 0-1.5 0M318.5 848.42a.75 .75 0 1 0 1.5 0a.75 .75 0 1 0-1.5 0M321.5 848.42a.75 .75 0 1 0 1.5 0a.75 .75 0 1 0-1.5 0M242.8 848.42a.75 .75 0 1 0 1.5 0a.75 .75 0 1 0-1.5 0M240.9 848.42a.75 .75 0 1 0 1.5 0a.75 .75 0 1 0-1.5 0M239 848.42a.75 .75 0 1 0 1.5 0a.75 .75 0 1 0-1.5 0M236.4 848.42a.75 .75 0 1 0 1.5 0a.75 .75 0 1 0-1.5 0M311.8 845.75a.75 .75 0 1 0 1.5 0a.75 .75 0 1 0-1.5 0M314.8 845.75a.75 .75 0 1 0 1.5 0a.75 .75 0 1 0-1.5 0M317 845.75a.75 .75 0 1 0 1.5 0a.75 .75 0 1 0-1.5 0M240.1 845.75a.75 .75 0 1 0 1.5 0a.75 .75 0 1 0-1.5 0M320.5 843.08a.75 .75 0 1 0 1.5 0a.75 .75 0 1 0-1.5 0M322.4 843.08a.75 .75 0 1 0 1.5 0a.75 .75 0 1 0-1.5 0M230.8 843.08a.75 .75 0 1 0 1.5 0a.75 .75 0 1 0-1.5 0M318.2 840.41a.75 .75 0 1 0 1.5 0a.75 .75 0 1 0-1.5 0M320.3 840.41a.75 .75 0 1 0 1.5 0a.75 .75 0 1 0-1.5 0M323.5 840.41a.75 .75 0 1 0 1.5 0a.75 .75 0 1 0-1.5 0M326.3 840.41a.75 .75 0 1 0 1.5 0a.75 .75 0 1 0-1.5 0M230.9 840.41a.75 .75 0 1 0 1.5 0a.75 .75 0 1 0-1.5 0M310 837.74a.75 .75 0 1 0 1.5 0a.75 .75 0 1 0-1.5 0M312.3 837.74a.75 .75 0 1 0 1.5 0a.75 .75 0 1 0-1.5 0M314.8 837.74a.75 .75 0 1 0 1.5 0a.75 .75 0 1 0-1.5 0M318.3 837.74a.75 .75 0 1 0 1.5 0a.75 .75 0 1 0-1.5 0M320.3 837.74a.75 .75 0 1 0 1.5 0a.75 .75 0 1 0-1.5 0M237.4 837.74a.75 .75 0 1 0 1.5 0a.75 .75 0 1 0-1.5 0M304.3 835.06a.75 .75 0 1 0 1.5 0a.75 .75 0 1 0-1.5 0M306.1 835.06a.75 .75 0 1 0 1.5 0a.75 .75 0 1 0-1.5 0M308.5 835.06a.75 .75 0 1 0 1.5 0a.75 .75 0 1 0-1.5 0M311.5 835.06a.75 .75 0 1 0 1.5 0a.75 .75 0 1 0-1.5 0M314.8 835.06a.75 .75 0 1 0 1.5 0a.75 .75 0 1 0-1.5 0M230.6 835.06a.75 .75 0 1 0 1.5 0a.75 .75 0 1 0-1.5 0M228.8 835.06a.75 .75 0 1 0 1.5 0a.75 .75 0 1 0-1.5 0M311.4 832.39a.75 .75 0 1 0 1.5 0a.75 .75 0 1 0-1.5 0M313.4 832.39a.75 .75 0 1 0 1.5 0a.75 .75 0 1 0-1.5 0M316.9 832.39a.75 .75 0 1 0 1.5 0a.75 .75 0 1 0-1.5 0M319.2 832.39a.75 .75 0 1 0 1.5 0a.75 .75 0 1 0-1.5 0M335.2 829.72a.75 .75 0 1 0 1.5 0a.75 .75 0 1 0-1.5 0M337.8 829.72a.75 .75 0 1 0 1.5 0a.75 .75 0 1 0-1.5 0M340.9 829.72a.75 .75 0 1 0 1.5 0a.75 .75 0 1 0-1.5 0M236.2 829.72a.75 .75 0 1 0 1.5 0a.75 .75 0 1 0-1.5 0M232.8 829.72a.75 .75 0 1 0 1.5 0a.75 .75 0 1 0-1.5 0M229.4 829.72a.75 .75 0 1 0 1.5 0a.75 .75 0 1 0-1.5 0M318.1 827.05a.75 .75 0 1 0 1.5 0a.75 .75 0 1 0-1.5 0M321.2 827.05a.75 .75 0 1 0 1.5 0a.75 .75 0 1 0-1.5 0M324.1 827.05a.75 .75 0 1 0 1.5 0a.75 .75 0 1 0-1.5 0M327.5 827.05a.75 .75 0 1 0 1.5 0a.75 .75 0 1 0-1.5 0M330.2 827.05a.75 .75 0 1 0 1.5 0a.75 .75 0 1 0-1.5 0M236.3 827.05a.75 .75 0 1 0 1.5 0a.75 .75 0 1 0-1.5 0M233.3 827.05a.75 .75 0 1 0 1.5 0a.75 .75 0 1 0-1.5 0M229.9 827.05a.75 .75 0 1 0 1.5 0a.75 .75 0 1 0-1.5 0M227.1 827.05a.75 .75 0 1 0 1.5 0a.75 .75 0 1 0-1.5 0M242.3 824.38a.75 .75 0 1 0 1.5 0a.75 .75 0 1 0-1.5 0M240 824.38a.75 .75 0 1 0 1.5 0a.75 .75 0 1 0-1.5 0M316.2 821.71a.75 .75 0 1 0 1.5 0a.75 .75 0 1 0-1.5 0M318.1 821.71a.75 .75 0 1 0 1.5 0a.75 .75 0 1 0-1.5 0M320.3 821.71a.75 .75 0 1 0 1.5 0a.75 .75 0 1 0-1.5 0M231.6 821.71a.75 .75 0 1 0 1.5 0a.75 .75 0 1 0-1.5 0M228.2 821.71a.75 .75 0 1 0 1.5 0a.75 .75 0 1 0-1.5 0M225.6 821.71a.75 .75 0 1 0 1.5 0a.75 .75 0 1 0-1.5 0M315.6 819.04a.75 .75 0 1 0 1.5 0a.75 .75 0 1 0-1.5 0M317.7 819.04a.75 .75 0 1 0 1.5 0a.75 .75 0 1 0-1.5 0M320.7 819.04a.75 .75 0 1 0 1.5 0a.75 .75 0 1 0-1.5 0M311.8 816.37a.75 .75 0 1 0 1.5 0a.75 .75 0 1 0-1.5 0M314.5 816.37a.75 .75 0 1 0 1.5 0a.75 .75 0 1 0-1.5 0M317.2 816.37a.75 .75 0 1 0 1.5 0a.75 .75 0 1 0-1.5 0M319 816.37a.75 .75 0 1 0 1.5 0a.75 .75 0 1 0-1.5 0M247.1 816.37a.75 .75 0 1 0 1.5 0a.75 .75 0 1 0-1.5 0M310.2 813.69a.75 .75 0 1 0 1.5 0a.75 .75 0 1 0-1.5 0M312.2 813.69a.75 .75 0 1 0 1.5 0a.75 .75 0 1 0-1.5 0M314.8 813.69a.75 .75 0 1 0 1.5 0a.75 .75 0 1 0-1.5 0M317.2 813.69a.75 .75 0 1 0 1.5 0a.75 .75 0 1 0-1.5 0M319.9 813.69a.75 .75 0 1 0 1.5 0a.75 .75 0 1 0-1.5 0M232.9 813.69a.75 .75 0 1 0 1.5 0a.75 .75 0 1 0-1.5 0M320.6 811.02a.75 .75 0 1 0 1.5 0a.75 .75 0 1 0-1.5 0M325.6 808.35a.75 .75 0 1 0 1.5 0a.75 .75 0 1 0-1.5 0M328 808.35a.75 .75 0 1 0 1.5 0a.75 .75 0 1 0-1.5 0M331.4 808.35a.75 .75 0 1 0 1.5 0a.75 .75 0 1 0-1.5 0M333.3 808.35a.75 .75 0 1 0 1.5 0a.75 .75 0 1 0-1.5 0M314.6 805.68a.75 .75 0 1 0 1.5 0a.75 .75 0 1 0-1.5 0M240.2 805.68a.75 .75 0 1 0 1.5 0a.75 .75 0 1 0-1.5 0M319.5 803.01a.75 .75 0 1 0 1.5 0a.75 .75 0 1 0-1.5 0M322.5 803.01a.75 .75 0 1 0 1.5 0a.75 .75 0 1 0-1.5 0M326 803.01a.75 .75 0 1 0 1.5 0a.75 .75 0 1 0-1.5 0M328.4 803.01a.75 .75 0 1 0 1.5 0a.75 .75 0 1 0-1.5 0M241.2 803.01a.75 .75 0 1 0 1.5 0a.75 .75 0 1 0-1.5 0M238.7 803.01a.75 .75 0 1 0 1.5 0a.75 .75 0 1 0-1.5 0M308.9 800.34a.75 .75 0 1 0 1.5 0a.75 .75 0 1 0-1.5 0M312.2 800.34a.75 .75 0 1 0 1.5 0a.75 .75 0 1 0-1.5 0M314.6 800.34a.75 .75 0 1 0 1.5 0a.75 .75 0 1 0-1.5 0M317.6 800.34a.75 .75 0 1 0 1.5 0a.75 .75 0 1 0-1.5 0M319.4 800.34a.75 .75 0 1 0 1.5 0a.75 .75 0 1 0-1.5 0M245.2 797.67a.75 .75 0 1 0 1.5 0a.75 .75 0 1 0-1.5 0M242.1 797.67a.75 .75 0 1 0 1.5 0a.75 .75 0 1 0-1.5 0M240.2 797.67a.75 .75 0 1 0 1.5 0a.75 .75 0 1 0-1.5 0M351.7 794.99a.75 .75 0 1 0 1.5 0a.75 .75 0 1 0-1.5 0M353.6 794.99a.75 .75 0 1 0 1.5 0a.75 .75 0 1 0-1.5 0M357.1 794.99a.75 .75 0 1 0 1.5 0a.75 .75 0 1 0-1.5 0M360.4 794.99a.75 .75 0 1 0 1.5 0a.75 .75 0 1 0-1.5 0M363.7 794.99a.75 .75 0 1 0 1.5 0a.75 .75 0 1 0-1.5 0M236.8 794.99a.75 .75 0 1 0 1.5 0a.75 .75 0 1 0-1.5 0M234.6 794.99a.75 .75 0 1 0 1.5 0a.75 .75 0 1 0-1.5 0M231.7 794.99a.75 .75 0 1 0 1.5 0a.75 .75 0 1 0-1.5 0M314.8 792.32a.75 .75 0 1 0 1.5 0a.75 .75 0 1 0-1.5 0M317.9 792.32a.75 .75 0 1 0 1.5 0a.75 .75 0 1 0-1.5 0M245.8 792.32a.75 .75 0 1 0 1.5 0a.75 .75 0 1 0-1.5 0M330 789.65a.75 .75 0 1 0 1.5 0a.75 .75 0 1 0-1.5 0M332.3 789.65a.75 .75 0 1 0 1.5 0a.75 .75 0 1 0-1.5 0M233.7 789.65a.75 .75 0 1 0 1.5 0a.75 .75 0 1 0-1.5 0M237.7 786.98a.75 .75 0 1 0 1.5 0a.75 .75 0 1 0-1.5 0M319.8 784.31a.75 .75 0 1 0 1.5 0a.75 .75 0 1 0-1.5 0M323.3 784.31a.75 .75 0 1 0 1.5 0a.75 .75 0 1 0-1.5 0M325.6 784.31a.75 .75 0 1 0 1.5 0a.75 .75 0 1 0-1.5 0M328.9 784.31a.75 .75 0 1 0 1.5 0a.75 .75 0 1 0-1.5 0M330.9 784.31a.75 .75 0 1 0 1.5 0a.75 .75 0 1 0-1.5 0M239.4 784.31a.75 .75 0 1 0 1.5 0a.75 .75 0 1 0-1.5 0M328.2 781.64a.75 .75 0 1 0 1.5 0a.75 .75 0 1 0-1.5 0M331.3 781.64a.75 .75 0 1 0 1.5 0a.75 .75 0 1 0-1.5 0M333.1 781.64a.75 .75 0 1 0 1.5 0a.75 .75 0 1 0-1.5 0M335.4 781.64a.75 .75 0 1 0 1.5 0a.75 .75 0 1 0-1.5 0M234 781.64a.75 .75 0 1 0 1.5 0a.75 .75 0 1 0-1.5 0M320.5 778.97a.75 .75 0 1 0 1.5 0a.75 .75 0 1 0-1.5 0M322.7 778.97a.75 .75 0 1 0 1.5 0a.75 .75 0 1 0-1.5 0M324.5 778.97a.75 .75 0 1 0 1.5 0a.75 .75 0 1 0-1.5 0M326.3 778.97a.75 .75 0 1 0 1.5 0a.75 .75 0 1 0-1.5 0M329.5 778.97a.75 .75 0 1 0 1.5 0a.75 .75 0 1 0-1.5 0M239.7 778.97a.75 .75 0 1 0 1.5 0a.75 .75 0 1 0-1.5 0M236.4 778.97a.75 .75 0 1 0 1.5 0a.75 .75 0 1 0-1.5 0M233.2 778.97a.75 .75 0 1 0 1.5 0a.75 .75 0 1 0-1.5 0M230.5 778.97a.75 .75 0 1 0 1.5 0a.75 .75 0 1 0-1.5 0M329.9 776.3a.75 .75 0 1 0 1.5 0a.75 .75 0 1 0-1.5 0M332.4 776.3a.75 .75 0 1 0 1.5 0a.75 .75 0 1 0-1.5 0M335.7 776.3a.75 .75 0 1 0 1.5 0a.75 .75 0 1 0-1.5 0M338.8 776.3a.75 .75 0 1 0 1.5 0a.75 .75 0 1 0-1.5 0M234 776.3a.75 .75 0 1 0 1.5 0a.75 .75 0 1 0-1.5 0M231.3 776.3a.75 .75 0 1 0 1.5 0a.75 .75 0 1 0-1.5 0M228.8 776.3a.75 .75 0 1 0 1.5 0a.75 .75 0 1 0-1.5 0M317 773.62a.75 .75 0 1 0 1.5 0a.75 .75 0 1 0-1.5 0M319.8 773.62a.75 .75 0 1 0 1.5 0a.75 .75 0 1 0-1.5 0M322.2 773.62a.75 .75 0 1 0 1.5 0a.75 .75 0 1 0-1.5 0M324.6 773.62a.75 .75 0 1 0 1.5 0a.75 .75 0 1 0-1.5 0M326.8 773.62a.75 .75 0 1 0 1.5 0a.75 .75 0 1 0-1.5 0M229.5 773.62a.75 .75 0 1 0 1.5 0a.75 .75 0 1 0-1.5 0M320.2 770.95a.75 .75 0 1 0 1.5 0a.75 .75 0 1 0-1.5 0M323.5 770.95a.75 .75 0 1 0 1.5 0a.75 .75 0 1 0-1.5 0M325.9 770.95a.75 .75 0 1 0 1.5 0a.75 .75 0 1 0-1.5 0M328 770.95a.75 .75 0 1 0 1.5 0a.75 .75 0 1 0-1.5 0M237.6 770.95a.75 .75 0 1 0 1.5 0a.75 .75 0 1 0-1.5 0M323.1 768.28a.75 .75 0 1 0 1.5 0a.75 .75 0 1 0-1.5 0M326.4 768.28a.75 .75 0 1 0 1.5 0a.75 .75 0 1 0-1.5 0M328.4 768.28a.75 .75 0 1 0 1.5 0a.75 .75 0 1 0-1.5 0M330.6 768.28a.75 .75 0 1 0 1.5 0a.75 .75 0 1 0-1.5 0M238 768.28a.75 .75 0 1 0 1.5 0a.75 .75 0 1 0-1.5 0M230.9 765.61a.75 .75 0 1 0 1.5 0a.75 .75 0 1 0-1.5 0M227.7 765.61a.75 .75 0 1 0 1.5 0a.75 .75 0 1 0-1.5 0M224.7 765.61a.75 .75 0 1 0 1.5 0a.75 .75 0 1 0-1.5 0M222.9 765.61a.75 .75 0 1 0 1.5 0a.75 .75 0 1 0-1.5 0M320.3 762.94a.75 .75 0 1 0 1.5 0a.75 .75 0 1 0-1.5 0M323.1 762.94a.75 .75 0 1 0 1.5 0a.75 .75 0 1 0-1.5 0M325.2 762.94a.75 .75 0 1 0 1.5 0a.75 .75 0 1 0-1.5 0M327.7 762.94a.75 .75 0 1 0 1.5 0a.75 .75 0 1 0-1.5 0M327.4 760.27a.75 .75 0 1 0 1.5 0a.75 .75 0 1 0-1.5 0M329.9 760.27a.75 .75 0 1 0 1.5 0a.75 .75 0 1 0-1.5 0M230.8 760.27a.75 .75 0 1 0 1.5 0a.75 .75 0 1 0-1.5 0M327.6 757.6a.75 .75 0 1 0 1.5 0a.75 .75 0 1 0-1.5 0M330.8 757.6a.75 .75 0 1 0 1.5 0a.75 .75 0 1 0-1.5 0M334.1 757.6a.75 .75 0 1 0 1.5 0a.75 .75 0 1 0-1.5 0M240.8 757.6a.75 .75 0 1 0 1.5 0a.75 .75 0 1 0-1.5 0M239.2 754.93a.75 .75 0 1 0 1.5 0a.75 .75 0 1 0-1.5 0M236.4 754.93a.75 .75 0 1 0 1.5 0a.75 .75 0 1 0-1.5 0M239.9 752.25a.75 .75 0 1 0 1.5 0a.75 .75 0 1 0-1.5 0M238 752.25a.75 .75 0 1 0 1.5 0a.75 .75 0 1 0-1.5 0M234.7 752.25a.75 .75 0 1 0 1.5 0a.75 .75 0 1 0-1.5 0M332.7 749.58a.75 .75 0 1 0 1.5 0a.75 .75 0 1 0-1.5 0M335.3 749.58a.75 .75 0 1 0 1.5 0a.75 .75 0 1 0-1.5 0M343.7 746.91a.75 .75 0 1 0 1.5 0a.75 .75 0 1 0-1.5 0M346.6 746.91a.75 .75 0 1 0 1.5 0a.75 .75 0 1 0-1.5 0M349.9 746.91a.75 .75 0 1 0 1.5 0a.75 .75 0 1 0-1.5 0M353.1 746.91a.75 .75 0 1 0 1.5 0a.75 .75 0 1 0-1.5 0M355.5 746.91a.75 .75 0 1 0 1.5 0a.75 .75 0 1 0-1.5 0M246.4 746.91a.75 .75 0 1 0 1.5 0a.75 .75 0 1 0-1.5 0M337.8 744.24a.75 .75 0 1 0 1.5 0a.75 .75 0 1 0-1.5 0M253.4 741.57a.75 .75 0 1 0 1.5 0a.75 .75 0 1 0-1.5 0M250.7 741.57a.75 .75 0 1 0 1.5 0a.75 .75 0 1 0-1.5 0M248.2 741.57a.75 .75 0 1 0 1.5 0a.75 .75 0 1 0-1.5 0M346.5 738.9a.75 .75 0 1 0 1.5 0a.75 .75 0 1 0-1.5 0M349.9 738.9a.75 .75 0 1 0 1.5 0a.75 .75 0 1 0-1.5 0M251 738.9a.75 .75 0 1 0 1.5 0a.75 .75 0 1 0-1.5 0M358.3 736.23a.75 .75 0 1 0 1.5 0a.75 .75 0 1 0-1.5 0M361.5 736.23a.75 .75 0 1 0 1.5 0a.75 .75 0 1 0-1.5 0M364.8 736.23a.75 .75 0 1 0 1.5 0a.75 .75 0 1 0-1.5 0M367.7 736.23a.75 .75 0 1 0 1.5 0a.75 .75 0 1 0-1.5 0M265.2 736.23a.75 .75 0 1 0 1.5 0a.75 .75 0 1 0-1.5 0M355.2 733.56a.75 .75 0 1 0 1.5 0a.75 .75 0 1 0-1.5 0M358.1 733.56a.75 .75 0 1 0 1.5 0a.75 .75 0 1 0-1.5 0M361.2 733.56a.75 .75 0 1 0 1.5 0a.75 .75 0 1 0-1.5 0M253.9 733.56a.75 .75 0 1 0 1.5 0a.75 .75 0 1 0-1.5 0M250.7 733.56a.75 .75 0 1 0 1.5 0a.75 .75 0 1 0-1.5 0M248.3 733.56a.75 .75 0 1 0 1.5 0a.75 .75 0 1 0-1.5 0M245.7 733.56a.75 .75 0 1 0 1.5 0a.75 .75 0 1 0-1.5 0M346.6 730.88a.75 .75 0 1 0 1.5 0a.75 .75 0 1 0-1.5 0M259.9 730.88a.75 .75 0 1 0 1.5 0a.75 .75 0 1 0-1.5 0M258.1 730.88a.75 .75 0 1 0 1.5 0a.75 .75 0 1 0-1.5 0"/>
<path class="b" fill="#90ee90" d="M244.2 940.87h22.2v2.1h-22.2zM246.4 938.19h20v2.1h-20zM244.2 935.52h21.4v2.1h-21.4zM245.8 932.85h25.6v2.1h-25.6zM247 927.51h29.2v2.1h-29.2zM249.7 924.84h25.7v2.1h-25.7zM253.5 922.17h20.7v2.1h-20.7zM249.7 919.5h28.8v2.1h-28.8zM251.7 916.82h23.7v2.1h-23.7zM254.3 914.15h28.4v2.1h-28.4zM250.6 911.48h27.7v2.1h-27.7zM250.3 906.14h30.7v2.1h-30.7zM252.7 903.47h31.3v2.1h-31.3zM255.8 900.8h61.6v2.1h-61.6zM247.9 898.13h32.2v2.1h-32.2zM253.9 895.45h26.1v2.1h-26.1zM250.7 892.78h32.3v2.1h-32.3zM249.5 890.11h30.6v2.1h-30.6zM256.5 887.44h29.9v2.1h-29.9zM253.7 884.77h24.9v2.1h-24.9zM258 882.1h24.8v2.1h-24.8zM256.6 876.76h30v2.1h-30zM257 874.08h29.1v2.1h-29.1zM256.1 868.74h23.8v2.1h-23.8zM250.6 863.4h30v2.1h-30zM253.8 860.73h31.5v2.1h-31.5zM250.3 858.06h28.9v2.1h-28.9zM254.8 855.38h25.4v2.1h-25.4zM255 850.04h32.9v2.1h-32.9zM257.7 847.37h26.4v2.1h-26.4zM256.1 844.7h31.1v2.1h-31.1zM253.5 842.03h36.2v2.1h-36.2zM252.8 839.36h35.1v2.1h-35.1zM258.2 836.69h26.3v2.1h-26.3zM260 831.34h29.4v2.1h-29.4zM254.3 828.67h58.7v2.1h-58.7zM259.1 826h30.4v2.1h-30.4zM259.8 817.99h27v2.1h-27zM263.8 815.32h27.7v2.1h-27.7zM257.8 812.64h30.4v2.1h-30.4zM260.4 807.3h35.5v2.1h-35.5zM264.3 804.63h27.9v2.1h-27.9zM265.1 801.96h31.6v2.1h-31.6zM262.7 799.29h29.4v2.1h-29.4zM262.7 796.62h33.3v2.1h-33.3zM260.3 788.6h41v2.1h-41zM256.7 785.93h36.9v2.1h-36.9zM258.1 783.26h41.7v2.1h-41.7zM259.5 780.59h44.3v2.1h-44.3zM264.3 777.92h30.5v2.1h-30.5zM258.2 775.25h44.8v2.1h-44.8zM259.2 769.9h37.7v2.1h-37.7zM256 767.23h42v2.1h-42zM255.7 764.56h47.9v2.1h-47.9zM264.6 761.89h36.8v2.1h-36.8zM257.6 759.22h48.3v2.1h-48.3zM263.6 756.55h38.9v2.1h-38.9zM270 751.2h41.4v2.1h-41.4zM271.5 745.86h44.1v2.1h-44.1zM273.3 743.19h42.9v2.1h-42.9zM274.4 740.52h54.1v2.1h-54.1zM273.3 737.85h48.9v2.1h-48.9zM284.7 735.18h45.9v2.1h-45.9zM277.4 732.51h58.1v2.1h-58.1z"/>
<path class="b" fill="#0000ff" d="M247.4 930.18h21.9v2.1h-21.9zM251.3 908.81h23.3v2.1h-23.3zM254.1 879.43h32.6v2.1h-32.6zM257.9 871.41h25.7v2.1h-25.7zM254.1 866.07h32.1v2.1h-32.1zM257.6 852.71h28.8v2.1h-28.8zM253.1 834.01h32.2v2.1h-32.2zM260.2 823.33h27.3v2.1h-27.3zM257.1 820.66h36.2v2.1h-36.2zM259.3 809.97h34.8v2.1h-34.8zM257.5 793.94h66v2.1h-66zM263.6 791.27h30.7v2.1h-30.7zM254.4 772.57h44.7v2.1h-44.7zM261.2 753.88h50.9v2.1h-50.9zM265.6 748.53h49.5v2.1h-49.5zM293.2 729.83h46.8v2.1h-46.8z"/>
<path class="m" d="M249.9 940.58v2.67M253.6 937.91v2.67M253.7 935.24v2.67M255.4 932.57v2.67M256.9 929.9v2.67M257.3 927.22v2.67M258.5 924.55v2.67M261.4 921.88v2.67M260.4 919.21v2.67M260.8 916.54v2.67M262.9 913.87v2.67M262 911.2v2.67M262.3 908.52v2.67M261.4 905.85v2.67M264 903.18v2.67M263.4 900.51v2.67M261.4 897.84v2.67M263.4 895.17v2.67M264.1 892.5v2.67M260.4 889.83v2.67M267 887.15v2.67M265.2 884.48v2.67M268.5 881.81v2.67M267.9 879.14v2.67M268.8 876.47v2.67M267.6 873.8v2.67M267.5 871.13v2.67M265.6 868.46v2.67M265.3 865.78v2.67M264.5 863.11v2.67M267.4 860.44v2.67M265.4 857.77v2.67M265.9 855.1v2.67M267 852.43v2.67M266.7 849.76v2.67M269.6 847.09v2.67M267.8 844.41v2.67M267.6 841.74v2.67M266.4 839.07v2.67M269 836.4v2.67M268.3 833.73v2.67M269.5 831.06v2.67M272 828.39v2.67M271.6 825.71v2.67M270.8 823.04v2.67M271.4 820.37v2.67M272.4 817.7v2.67M275.4 815.03v2.67M273.2 812.36v2.67M272.7 809.69v2.67M274 807.02v2.67M275 804.34v2.67M275.2 801.67v2.67M275.6 799v2.67M275.5 796.33v2.67M275.5 793.66v2.67M276 790.99v2.67M277.3 788.32v2.67M276.1 785.65v2.67M277.7 782.97v2.67M280.4 780.3v2.67M279.9 777.63v2.67M278.8 774.96v2.67M278.7 772.29v2.67M278 769.62v2.67M280.8 766.95v2.67M281.6 764.27v2.67M282.3 761.6v2.67M284.9 758.93v2.67M284.9 756.26v2.67M287.3 753.59v2.67M288.5 750.92v2.67M291.5 748.25v2.67M293.7 745.58v2.67M293 742.9v2.67M296.9 740.23v2.67M298.1 737.56v2.67M300.5 734.89v2.67M301.4 732.22v2.67M302 729.55v2.67"/>
</g>
<line x1="269.3" y1="721.0" x2="269.3" y2="951.8" class="r"/>
<rect x="217.2" y="721.0" width="167.8" height="230.79999999999995" class="f"/>
<text x="379.8" y="931.6" class="lb" text-anchor="end">Tongue</text>
<text x="378.8" y="946.6" class="lb" text-anchor="end">p = 0.608</text>
<text x="30.2" y="18.6" font-family="Liberation Sans,sans-serif" font-weight="bold" font-size="16px">A</text>
<text x="222.8" y="18.6" font-family="Liberation Sans,sans-serif" font-weight="bold" font-size="16px">B</text>
<text x="0" y="0" class="iv" text-anchor="middle" transform="translate(9.9 117.4) rotate(-90)">Individual</text>
<text x="0" y="0" class="iv" text-anchor="middle" transform="translate(9.9 359.5) rotate(-90)">Individual</text>
<text x="0" y="0" class="iv" text-anchor="middle" transform="translate(9.9 597.5) rotate(-90)">Individual</text>
<text x="0" y="0" class="iv" text-anchor="middle" transform="translate(9.9 837) rotate(-90)">Individual</text>
<text x="30.3" y="968.8" class="ax" text-anchor="middle">0.0</text>
<text x="61.4" y="968.8" class="ax" text-anchor="middle">0.2</text>
<text x="92.5" y="968.8" class="ax" text-anchor="middle">0.4</text>
<text x="123.6" y="968.8" class="ax" text-anchor="middle">0.6</text>
<text x="154.7" y="968.8" class="ax" text-anchor="middle">0.8</text>
<text x="185.8" y="968.8" class="ax" text-anchor="middle">1.0</text>
<text x="223.0" y="968.8" class="ax" text-anchor="middle">0.0</text>
<text x="254.1" y="968.8" class="ax" text-anchor="middle">0.2</text>
<text x="285.2" y="968.8" class="ax" text-anchor="middle">0.4</text>
<text x="316.3" y="968.8" class="ax" text-anchor="middle">0.6</text>
<text x="347.4" y="968.8" class="ax" text-anchor="middle">0.8</text>
<text x="378.5" y="968.8" class="ax" text-anchor="middle">1.0</text>
<text x="20.3" y="986.8" class="ti">Unweighted UniFrac Distance</text>
<text x="229" y="986.8" class="ti">Weighted UniFrac Distance</text>
</svg></body></html>
